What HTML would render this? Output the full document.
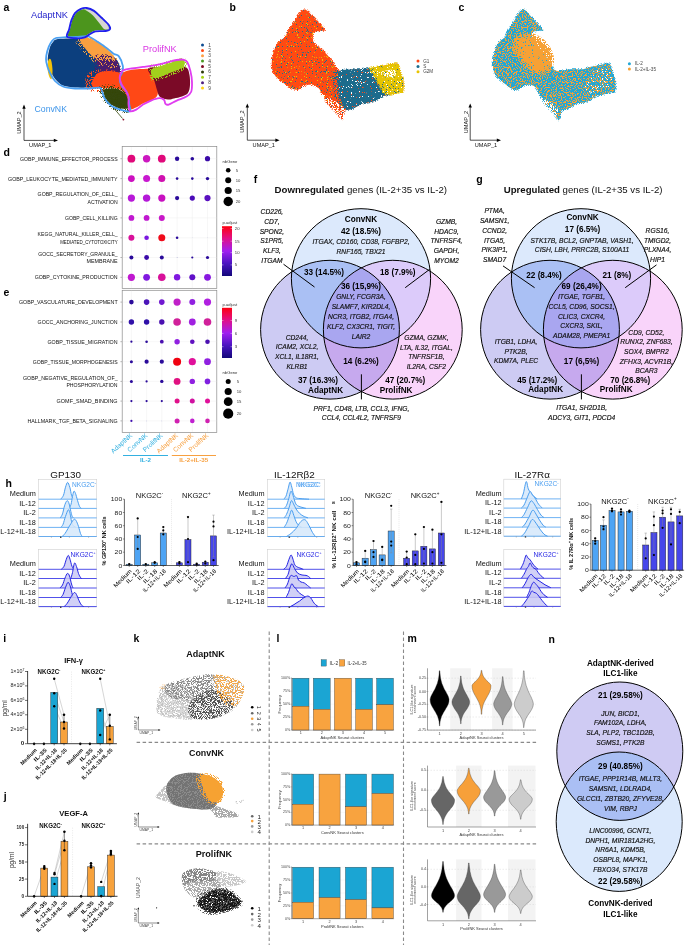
<!DOCTYPE html><html><head><meta charset="utf-8"><style>html,body{margin:0;padding:0;background:#fff;overflow:hidden}svg{display:block;font-family:"Liberation Sans",sans-serif}</style></head><body><svg width="685" height="945" viewBox="0 0 685 945" font-family="Liberation Sans, sans-serif"><defs><filter id="sp0" x="-5%" y="-5%" width="110%" height="110%"><feTurbulence type="fractalNoise" baseFrequency="1.2" numOctaves="1" seed="52"/><feColorMatrix type="matrix" values="0 0 0 0 0 0 0 0 0 0 0 0 0 0 0 30 0 0 0 -16.12"/><feComposite in="SourceGraphic" operator="in"/></filter><filter id="sp1" x="-5%" y="-5%" width="110%" height="110%"><feTurbulence type="fractalNoise" baseFrequency="1.2" numOctaves="1" seed="53"/><feColorMatrix type="matrix" values="0 0 0 0 0 0 0 0 0 0 0 0 0 0 0 30 0 0 0 -15.71"/><feComposite in="SourceGraphic" operator="in"/></filter><filter id="sp2" x="-5%" y="-5%" width="110%" height="110%"><feTurbulence type="fractalNoise" baseFrequency="1.2" numOctaves="1" seed="54"/><feColorMatrix type="matrix" values="0 0 0 0 0 0 0 0 0 0 0 0 0 0 0 30 0 0 0 -15.71"/><feComposite in="SourceGraphic" operator="in"/></filter><filter id="sp3" x="-5%" y="-5%" width="110%" height="110%"><feTurbulence type="fractalNoise" baseFrequency="1.2" numOctaves="1" seed="55"/><feColorMatrix type="matrix" values="0 0 0 0 0 0 0 0 0 0 0 0 0 0 0 30 0 0 0 -15.71"/><feComposite in="SourceGraphic" operator="in"/></filter><filter id="sp4" x="-5%" y="-5%" width="110%" height="110%"><feTurbulence type="fractalNoise" baseFrequency="1.2" numOctaves="1" seed="51"/><feColorMatrix type="matrix" values="0 0 0 0 0 0 0 0 0 0 0 0 0 0 0 30 0 0 0 -15.71"/><feComposite in="SourceGraphic" operator="in"/></filter><clipPath id="bleft"><rect x="260" y="0" width="80" height="140"/></clipPath><filter id="sp5" x="-5%" y="-5%" width="110%" height="110%"><feTurbulence type="fractalNoise" baseFrequency="1.2" numOctaves="1" seed="11"/><feColorMatrix type="matrix" values="0 0 0 0 0 0 0 0 0 0 0 0 0 0 0 30 0 0 0 -15.71"/><feComposite in="SourceGraphic" operator="in"/></filter><filter id="sp6" x="-5%" y="-5%" width="110%" height="110%"><feTurbulence type="fractalNoise" baseFrequency="1.2" numOctaves="1" seed="12"/><feColorMatrix type="matrix" values="0 0 0 0 0 0 0 0 0 0 0 0 0 0 0 30 0 0 0 -19.48"/><feComposite in="SourceGraphic" operator="in"/></filter><filter id="sp7" x="-5%" y="-5%" width="110%" height="110%"><feTurbulence type="fractalNoise" baseFrequency="1.2" numOctaves="1" seed="13"/><feColorMatrix type="matrix" values="0 0 0 0 0 0 0 0 0 0 0 0 0 0 0 30 0 0 0 -20.19"/><feComposite in="SourceGraphic" operator="in"/></filter><filter id="sp8" x="-5%" y="-5%" width="110%" height="110%"><feTurbulence type="fractalNoise" baseFrequency="1.2" numOctaves="1" seed="18"/><feColorMatrix type="matrix" values="0 0 0 0 0 0 0 0 0 0 0 0 0 0 0 30 0 0 0 -15.71"/><feComposite in="SourceGraphic" operator="in"/></filter><filter id="sp9" x="-5%" y="-5%" width="110%" height="110%"><feTurbulence type="fractalNoise" baseFrequency="1.2" numOctaves="1" seed="19"/><feColorMatrix type="matrix" values="0 0 0 0 0 0 0 0 0 0 0 0 0 0 0 30 0 0 0 -15.71"/><feComposite in="SourceGraphic" operator="in"/></filter><filter id="sp10" x="-5%" y="-5%" width="110%" height="110%"><feTurbulence type="fractalNoise" baseFrequency="1.2" numOctaves="1" seed="14"/><feColorMatrix type="matrix" values="0 0 0 0 0 0 0 0 0 0 0 0 0 0 0 30 0 0 0 -20.19"/><feComposite in="SourceGraphic" operator="in"/></filter><filter id="sp11" x="-5%" y="-5%" width="110%" height="110%"><feTurbulence type="fractalNoise" baseFrequency="1.2" numOctaves="1" seed="20"/><feColorMatrix type="matrix" values="0 0 0 0 0 0 0 0 0 0 0 0 0 0 0 30 0 0 0 -19.80"/><feComposite in="SourceGraphic" operator="in"/></filter><filter id="sp12" x="-5%" y="-5%" width="110%" height="110%"><feTurbulence type="fractalNoise" baseFrequency="1.2" numOctaves="1" seed="25"/><feColorMatrix type="matrix" values="0 0 0 0 0 0 0 0 0 0 0 0 0 0 0 30 0 0 0 -15.71"/><feComposite in="SourceGraphic" operator="in"/></filter><filter id="sp13" x="-5%" y="-5%" width="110%" height="110%"><feTurbulence type="fractalNoise" baseFrequency="1.2" numOctaves="1" seed="15"/><feColorMatrix type="matrix" values="0 0 0 0 0 0 0 0 0 0 0 0 0 0 0 30 0 0 0 -19.48"/><feComposite in="SourceGraphic" operator="in"/></filter><filter id="sp14" x="-5%" y="-5%" width="110%" height="110%"><feTurbulence type="fractalNoise" baseFrequency="1.2" numOctaves="1" seed="16"/><feColorMatrix type="matrix" values="0 0 0 0 0 0 0 0 0 0 0 0 0 0 0 30 0 0 0 -19.48"/><feComposite in="SourceGraphic" operator="in"/></filter><filter id="sp15" x="-5%" y="-5%" width="110%" height="110%"><feTurbulence type="fractalNoise" baseFrequency="1.2" numOctaves="1" seed="17"/><feColorMatrix type="matrix" values="0 0 0 0 0 0 0 0 0 0 0 0 0 0 0 30 0 0 0 -14.55"/><feComposite in="SourceGraphic" operator="in"/></filter><filter id="sp16" x="-5%" y="-5%" width="110%" height="110%"><feTurbulence type="fractalNoise" baseFrequency="1.2" numOctaves="1" seed="26"/><feColorMatrix type="matrix" values="0 0 0 0 0 0 0 0 0 0 0 0 0 0 0 30 0 0 0 -15.31"/><feComposite in="SourceGraphic" operator="in"/></filter><filter id="sp17" x="-5%" y="-5%" width="110%" height="110%"><feTurbulence type="fractalNoise" baseFrequency="1.2" numOctaves="1" seed="27"/><feColorMatrix type="matrix" values="0 0 0 0 0 0 0 0 0 0 0 0 0 0 0 30 0 0 0 -16.12"/><feComposite in="SourceGraphic" operator="in"/></filter><filter id="sp18" x="-5%" y="-5%" width="110%" height="110%"><feTurbulence type="fractalNoise" baseFrequency="1.2" numOctaves="1" seed="21"/><feColorMatrix type="matrix" values="0 0 0 0 0 0 0 0 0 0 0 0 0 0 0 30 0 0 0 -15.71"/><feComposite in="SourceGraphic" operator="in"/></filter><filter id="sp19" x="-5%" y="-5%" width="110%" height="110%"><feTurbulence type="fractalNoise" baseFrequency="0.8" numOctaves="1" seed="22"/><feColorMatrix type="matrix" values="0 0 0 0 0 0 0 0 0 0 0 0 0 0 0 30 0 0 0 -15.87"/><feComposite in="SourceGraphic" operator="in"/></filter><filter id="sp20" x="-5%" y="-5%" width="110%" height="110%"><feTurbulence type="fractalNoise" baseFrequency="0.8" numOctaves="1" seed="23"/><feColorMatrix type="matrix" values="0 0 0 0 0 0 0 0 0 0 0 0 0 0 0 30 0 0 0 -13.79"/><feComposite in="SourceGraphic" operator="in"/></filter><filter id="sp21" x="-5%" y="-5%" width="110%" height="110%"><feTurbulence type="fractalNoise" baseFrequency="1.2" numOctaves="1" seed="24"/><feColorMatrix type="matrix" values="0 0 0 0 0 0 0 0 0 0 0 0 0 0 0 30 0 0 0 -11.03"/><feComposite in="SourceGraphic" operator="in"/></filter><filter id="sp22" x="-5%" y="-5%" width="110%" height="110%"><feTurbulence type="fractalNoise" baseFrequency="1.2" numOctaves="1" seed="28"/><feColorMatrix type="matrix" values="0 0 0 0 0 0 0 0 0 0 0 0 0 0 0 30 0 0 0 -14.93"/><feComposite in="SourceGraphic" operator="in"/></filter><filter id="sp23" x="-5%" y="-5%" width="110%" height="110%"><feTurbulence type="fractalNoise" baseFrequency="1.2" numOctaves="1" seed="29"/><feColorMatrix type="matrix" values="0 0 0 0 0 0 0 0 0 0 0 0 0 0 0 30 0 0 0 -18.77"/><feComposite in="SourceGraphic" operator="in"/></filter><linearGradient id="gd" x1="0" y1="0" x2="0" y2="1"><stop offset="0" stop-color="#ff0010"/><stop offset="0.25" stop-color="#e0108a"/><stop offset="0.5" stop-color="#a020f0"/><stop offset="0.75" stop-color="#4a14c0"/><stop offset="1" stop-color="#12087a"/></linearGradient><linearGradient id="ge" x1="0" y1="0" x2="0" y2="1"><stop offset="0" stop-color="#ff0010"/><stop offset="0.25" stop-color="#e0108a"/><stop offset="0.5" stop-color="#a020f0"/><stop offset="0.75" stop-color="#4a14c0"/><stop offset="1" stop-color="#12087a"/></linearGradient><clipPath id="vfc"><circle cx="361" cy="278.3" r="69.6"/></clipPath><clipPath id="vfa"><circle cx="330" cy="329.7" r="69.4"/></clipPath><clipPath id="vgc"><circle cx="581" cy="278.3" r="69.6"/></clipPath><clipPath id="vga"><circle cx="550" cy="329.7" r="69.4"/></clipPath><filter id="sp24" x="-5%" y="-5%" width="110%" height="110%"><feTurbulence type="fractalNoise" baseFrequency="1.2" numOctaves="1" seed="30"/><feColorMatrix type="matrix" values="0 0 0 0 0 0 0 0 0 0 0 0 0 0 0 30 0 0 0 -16.57"/><feComposite in="SourceGraphic" operator="in"/></filter><filter id="sp25" x="-5%" y="-5%" width="110%" height="110%"><feTurbulence type="fractalNoise" baseFrequency="1.2" numOctaves="1" seed="31"/><feColorMatrix type="matrix" values="0 0 0 0 0 0 0 0 0 0 0 0 0 0 0 30 0 0 0 -14.93"/><feComposite in="SourceGraphic" operator="in"/></filter><filter id="sp26" x="-5%" y="-5%" width="110%" height="110%"><feTurbulence type="fractalNoise" baseFrequency="1.2" numOctaves="1" seed="32"/><feColorMatrix type="matrix" values="0 0 0 0 0 0 0 0 0 0 0 0 0 0 0 30 0 0 0 -14.93"/><feComposite in="SourceGraphic" operator="in"/></filter><filter id="sp27" x="-5%" y="-5%" width="110%" height="110%"><feTurbulence type="fractalNoise" baseFrequency="1.2" numOctaves="1" seed="33"/><feColorMatrix type="matrix" values="0 0 0 0 0 0 0 0 0 0 0 0 0 0 0 30 0 0 0 -15.16"/><feComposite in="SourceGraphic" operator="in"/></filter><filter id="sp28" x="-5%" y="-5%" width="110%" height="110%"><feTurbulence type="fractalNoise" baseFrequency="1.2" numOctaves="1" seed="34"/><feColorMatrix type="matrix" values="0 0 0 0 0 0 0 0 0 0 0 0 0 0 0 30 0 0 0 -14.70"/><feComposite in="SourceGraphic" operator="in"/></filter><filter id="sp29" x="-5%" y="-5%" width="110%" height="110%"><feTurbulence type="fractalNoise" baseFrequency="1.2" numOctaves="1" seed="35"/><feColorMatrix type="matrix" values="0 0 0 0 0 0 0 0 0 0 0 0 0 0 0 30 0 0 0 -14.93"/><feComposite in="SourceGraphic" operator="in"/></filter><filter id="sp30" x="-5%" y="-5%" width="110%" height="110%"><feTurbulence type="fractalNoise" baseFrequency="1.2" numOctaves="1" seed="36"/><feColorMatrix type="matrix" values="0 0 0 0 0 0 0 0 0 0 0 0 0 0 0 30 0 0 0 -12.53"/><feComposite in="SourceGraphic" operator="in"/></filter><filter id="sp31" x="-5%" y="-5%" width="110%" height="110%"><feTurbulence type="fractalNoise" baseFrequency="1.2" numOctaves="1" seed="37"/><feColorMatrix type="matrix" values="0 0 0 0 0 0 0 0 0 0 0 0 0 0 0 30 0 0 0 -12.53"/><feComposite in="SourceGraphic" operator="in"/></filter><filter id="sp32" x="-5%" y="-5%" width="110%" height="110%"><feTurbulence type="fractalNoise" baseFrequency="1.2" numOctaves="1" seed="43"/><feColorMatrix type="matrix" values="0 0 0 0 0 0 0 0 0 0 0 0 0 0 0 30 0 0 0 -16.12"/><feComposite in="SourceGraphic" operator="in"/></filter><filter id="sp33" x="-5%" y="-5%" width="110%" height="110%"><feTurbulence type="fractalNoise" baseFrequency="1.2" numOctaves="1" seed="44"/><feColorMatrix type="matrix" values="0 0 0 0 0 0 0 0 0 0 0 0 0 0 0 30 0 0 0 -15.31"/><feComposite in="SourceGraphic" operator="in"/></filter><filter id="sp34" x="-5%" y="-5%" width="110%" height="110%"><feTurbulence type="fractalNoise" baseFrequency="1.2" numOctaves="1" seed="38"/><feColorMatrix type="matrix" values="0 0 0 0 0 0 0 0 0 0 0 0 0 0 0 30 0 0 0 -13.79"/><feComposite in="SourceGraphic" operator="in"/></filter><filter id="sp35" x="-5%" y="-5%" width="110%" height="110%"><feTurbulence type="fractalNoise" baseFrequency="1.2" numOctaves="1" seed="39"/><feColorMatrix type="matrix" values="0 0 0 0 0 0 0 0 0 0 0 0 0 0 0 30 0 0 0 -13.39"/><feComposite in="SourceGraphic" operator="in"/></filter><filter id="sp36" x="-5%" y="-5%" width="110%" height="110%"><feTurbulence type="fractalNoise" baseFrequency="1.2" numOctaves="1" seed="40"/><feColorMatrix type="matrix" values="0 0 0 0 0 0 0 0 0 0 0 0 0 0 0 30 0 0 0 -13.39"/><feComposite in="SourceGraphic" operator="in"/></filter><filter id="sp37" x="-5%" y="-5%" width="110%" height="110%"><feTurbulence type="fractalNoise" baseFrequency="1.2" numOctaves="1" seed="42"/><feColorMatrix type="matrix" values="0 0 0 0 0 0 0 0 0 0 0 0 0 0 0 30 0 0 0 -10.71"/><feComposite in="SourceGraphic" operator="in"/></filter><filter id="sp38" x="-5%" y="-5%" width="110%" height="110%"><feTurbulence type="fractalNoise" baseFrequency="1.2" numOctaves="1" seed="41"/><feColorMatrix type="matrix" values="0 0 0 0 0 0 0 0 0 0 0 0 0 0 0 30 0 0 0 -15.71"/><feComposite in="SourceGraphic" operator="in"/></filter><clipPath id="nclip"><ellipse cx="619.8" cy="751.2" rx="63" ry="69.2"/></clipPath></defs><rect width="685" height="945" fill="#fff"/><g opacity="0.999"><text x="3.5" y="7.2" font-size="10.5" dominant-baseline="central" font-weight="bold">a</text>
<path d="M56,39.5 C58.2,38.9 62,38.7 66,38.5 C70,38.3 76.3,38.4 80,38.5 C83.7,38.6 85.2,38.1 88,39 C90.8,39.9 93.8,42 97,44 C100.2,46 104.3,49 107,51 C109.7,53 111.3,54.5 113,56 C114.7,57.5 115.8,58.2 117,60 C118.2,61.8 119.6,64.8 120,67 C120.4,69.2 119.8,71 119.5,73 C119.2,75 118.8,76.8 118,79 C117.2,81.2 117.2,84.5 115,86 C112.8,87.5 107.7,87.8 105,88 C102.3,88.2 101.5,87.1 99,87 C96.5,86.9 94,87.4 90,87.5 C86,87.6 79.5,87.8 75,87.5 C70.5,87.2 66.2,86.8 63,85.5 C59.8,84.2 58,82.2 56,80 C54,77.8 52.3,75 51,72 C49.7,69 48.5,64.7 48,62 C47.5,59.3 47.7,58.5 48,56 C48.3,53.5 49.2,49.3 50,47 C50.8,44.7 52,43.2 53,42 C54,40.8 53.8,40.1 56,39.5Z" fill="#0c3f7e"/>
<path d="M80,39 C80.7,37.5 85.2,37.5 88,38 C90.8,38.5 94,40.3 97,42 C100,43.7 103.3,45.8 106,48 C108.7,50.2 111.3,52.7 113,55 C114.7,57.3 116.2,60.2 116,62 C115.8,63.8 114,65.7 112,66 C110,66.3 106.5,65 104,64 C101.5,63 99.3,61.7 97,60 C94.7,58.3 92.2,56.2 90,54 C87.8,51.8 85.7,49.5 84,47 C82.3,44.5 79.3,40.5 80,39Z" fill="#f9a040"/>
<path d="M98,62 C98.8,60.3 103.5,59.3 106,59 C108.5,58.7 111,59.2 113,60 C115,60.8 116.8,62.3 118,64 C119.2,65.7 120.2,68.2 120,70 C119.8,71.8 118.8,74.3 117,75 C115.2,75.7 111.7,75 109,74 C106.3,73 102.8,71 101,69 C99.2,67 97.2,63.7 98,62Z" fill="#4b1d6e"/>
<path d="M76,40 C77.7,38.5 84.2,36.7 88,37 C91.8,37.3 95.3,39.8 99,42 C102.7,44.2 106.8,47 110,50 C113.2,53 117,57 118,60 C119,63 118,66.7 116,68 C114,69.3 109.3,68.7 106,68 C102.7,67.3 99.3,66.2 96,64 C92.7,61.8 89,58 86,55 C83,52 79.7,48.5 78,46 C76.3,43.5 74.3,41.5 76,40Z" fill="#f9a040" filter="url(#sp0)"/>
<path d="M95,56 C97,53.2 104.2,54 108,55 C111.8,56 115.7,59.2 118,62 C120.3,64.8 122,69 122,72 C122,75 120.8,78.7 118,80 C115.2,81.3 108.7,81.3 105,80 C101.3,78.7 97.7,76 96,72 C94.3,68 93,58.8 95,56Z" fill="#4b1d6e" filter="url(#sp1)"/>
<path d="M86,76 C87.3,72.7 92,71 96,70 C100,69 106,69.3 110,70 C114,70.7 118.3,70.7 120,74 C121.7,77.3 122.7,87 120,90 C117.3,93 109.3,92 104,92 C98.7,92 91,92.7 88,90 C85,87.3 84.7,79.3 86,76Z" fill="#ff4816" filter="url(#sp2)"/>
<path d="M48.5,60 C49.1,58.7 50.3,58.3 51,60 C51.7,61.7 52.4,66.8 52.5,70 C52.6,73.2 52.1,78 51.5,79 C50.9,80 49.7,77.8 49,76 C48.3,74.2 47.6,70.7 47.5,68 C47.4,65.3 47.9,61.3 48.5,60Z" fill="#f2c10a"/>
<path d="M92,82 C92.8,79.7 95.3,74.8 98,73 C100.7,71.2 104.8,71.2 108,71 C111.2,70.8 114.8,71.7 117,72 C119.2,72.3 119.2,73.2 121,73 C122.8,72.8 124.8,71.2 128,70.5 C131.2,69.8 136.3,69.2 140,69 C143.7,68.8 147.3,68.3 150,69 C152.7,69.7 154.7,70.8 156,73 C157.3,75.2 157.8,78.3 158,82 C158.2,85.7 158.5,92 157.5,95 C156.5,98 154.4,98.6 152,100 C149.6,101.4 145.7,102.2 143,103.5 C140.3,104.8 138.2,106.6 136,107.5 C133.8,108.4 131.5,110.1 130,109 C128.5,107.9 128.2,103.8 127,101 C125.8,98.2 124.5,94 123,92 C121.5,90 120.2,89.7 118,89 C115.8,88.3 113,88.2 110,88 C107,87.8 102.8,88.2 100,88 C97.2,87.8 94.3,88 93,87 C91.7,86 91.2,84.3 92,82Z" fill="#ff4816"/>
<path d="M104,89.5 C105.3,88.6 109.3,88.4 112,88.5 C114.7,88.6 117.7,88.9 120,90 C122.3,91.1 124.6,93 126,95 C127.4,97 128.1,99.8 128.5,102 C128.9,104.2 129.8,106.9 128.5,108 C127.2,109.1 123.8,109 121,108.5 C118.2,108 114.5,106.6 112,105 C109.5,103.4 107.3,100.8 106,99 C104.7,97.2 104.3,95.6 104,94 C103.7,92.4 102.7,90.4 104,89.5Z" fill="#34460a"/>
<path d="M100,86 C102.5,84.3 110.7,84 115,85 C119.3,86 123.5,88.8 126,92 C128.5,95.2 129.5,100.7 130,104 C130.5,107.3 131,110.7 129,112 C127,113.3 121.8,113.3 118,112 C114.2,110.7 109,106.8 106,104 C103,101.2 101,98 100,95 C99,92 97.5,87.7 100,86Z" fill="#34460a" filter="url(#sp3)"/>
<line x1="112" y1="106" x2="122.5" y2="118.5" stroke="#34460a" stroke-width="0.8"/>
<circle cx="123.4" cy="119.6" r="0.9" fill="#8a1030"/>
<path d="M148,69 C148.7,66.8 154.3,67.5 158,67 C161.7,66.5 166.3,66.2 170,66 C173.7,65.8 177.2,65.7 180,66 C182.8,66.3 185.4,66.5 187,68 C188.6,69.5 189,72.2 189.5,75 C190,77.8 190.2,82 190,85 C189.8,88 189.3,91.1 188,93 C186.7,94.9 184.3,95.6 182,96.5 C179.7,97.4 176.3,98 174,98.5 C171.7,99 170.3,99.8 168,99.5 C165.7,99.2 161.8,98.6 160,97 C158.2,95.4 158,92.8 157,90 C156,87.2 155.5,83.5 154,80 C152.5,76.5 147.3,71.2 148,69Z" fill="#7b0a27"/>
<path d="M151,70 C151.8,68.2 155.2,68.1 158,67 C160.8,65.9 164.7,64.6 168,63.5 C171.3,62.4 175.3,61 178,60.5 C180.7,60 182.9,59.8 184,60.5 C185.1,61.2 185.2,63.6 184.5,65 C183.8,66.4 182.4,67.7 180,69 C177.6,70.3 173.3,71.7 170,73 C166.7,74.3 162.8,76.2 160,77 C157.2,77.8 154.5,78.7 153,77.5 C151.5,76.3 150.2,71.8 151,70Z" fill="#a2d11c"/>
<path d="M150,66 C151.2,63.3 155,64.8 158,64 C161,63.2 164.3,61.9 168,61 C171.7,60.1 177,58.8 180,58.5 C183,58.2 185,58.1 186,59.5 C187,60.9 187,64.9 186,67 C185,69.1 182.7,70.5 180,72 C177.3,73.5 173.3,74.7 170,76 C166.7,77.3 163.2,79.3 160,80 C156.8,80.7 152.7,82.3 151,80 C149.3,77.7 148.8,68.7 150,66Z" fill="#a2d11c" filter="url(#sp4)"/>
<path d="M68,36 C67.2,34.6 69.3,31.5 70,29 C70.7,26.5 71.1,23.5 72,21 C72.9,18.5 74,15.9 75.5,14 C77,12.1 79.1,10.6 81,9.8 C82.9,9 84.6,8.7 86.7,9 C88.8,9.3 91.2,10.2 93.5,11.8 C95.8,13.4 98.2,16.1 100.5,18.3 C102.8,20.6 106.1,23.6 107.5,25.3 C108.9,27 109,27.8 108.7,28.6 C108.4,29.4 107.7,29.7 105.5,30 C103.3,30.3 98.2,29.9 95.5,30.5 C92.8,31.1 91.4,32.5 89.4,33.5 C87.4,34.5 86,36.2 83.6,36.8 C81.2,37.4 77.6,37.4 75,37.3 C72.4,37.2 68.8,37.4 68,36Z" fill="#4c951d"/>
<path d="M84,9.3 C84.5,9.1 88,9 90,9.6 C92,10.2 94,11.5 96,13 C98,14.5 100.1,16.6 102,18.5 C103.9,20.4 106.4,22.9 107.5,24.5 C108.6,26.1 109.2,27.6 108.7,28.4 C108.2,29.2 106,29.9 104.5,29.2 C103,28.5 101.9,26.3 100,24 C98.1,21.7 95.2,17.7 93,15.5 C90.8,13.3 88.5,12 87,11 C85.5,10 83.5,9.5 84,9.3Z" fill="#d6d6d2"/>
<path d="M56,38 C58.4,37.4 63,37.4 66.3,37.2 C69.6,37 72.3,37.1 76,37 C79.7,36.9 84.5,35.6 88.2,36.5 C91.9,37.4 95,40.1 98.4,42.3 C101.8,44.5 106,47.6 108.6,49.6 C111.2,51.6 112.3,52.9 114,54 C115.7,55.1 117.4,54.4 118.9,56.4 C120.4,58.4 122.4,63.4 122.9,66.1 C123.4,68.8 122.6,70.5 122.1,72.5 C121.6,74.5 119.8,76 119.7,78.1 C119.6,80.2 120.2,83.1 121.3,85.3 C122.4,87.5 124.9,89.1 126.1,91 C127.3,92.9 128,94.3 128.5,96.6 C129,98.9 129,102.1 129.3,104.6 C129.6,107 131.3,110.4 130.1,111.3 C128.9,112.2 125.3,111.2 122.1,110.2 C118.9,109.2 113.8,107.4 110.9,105.4 C108,103.4 106,100.6 104.5,98.2 C103,95.8 102.8,92.8 102,91 C101.2,89.2 101.6,88.1 99.6,87.7 C97.6,87.3 94.1,88.4 90,88.5 C85.9,88.6 79.5,88.8 75,88.5 C70.5,88.2 66.3,87.8 63,86.5 C59.7,85.2 57.2,83.4 55,81 C52.8,78.6 51,75.2 49.5,72 C48,68.8 46.8,64.7 46.3,62 C45.8,59.3 45.9,58.2 46.3,55.7 C46.7,53.2 47.8,49.2 48.8,46.7 C49.8,44.2 50.8,42.5 52,41 C53.2,39.5 53.6,38.6 56,38Z" fill="none" stroke="#4aa0f2" stroke-width="1.8"/>
<path d="M123.7,70.1 C125.5,69.4 128.6,69 131.8,68.5 C135,68 139.3,67.4 143,66.9 C146.7,66.4 150.4,66 154.2,65.3 C157.9,64.6 161.8,63.7 165.5,62.8 C169.2,61.9 173.8,60.5 176.7,60 C179.6,59.5 181.3,59.3 183.1,59.6 C184.8,59.9 186,60.1 187.2,62 C188.4,63.9 189.6,67.6 190.4,70.9 C191.2,74.2 191.9,78.6 192,82.1 C192.1,85.6 192.1,89.4 191.2,91.8 C190.3,94.2 188.8,95.1 186.4,96.6 C184,98.1 179.6,99.3 176.7,100.6 C173.8,101.9 170.6,104.1 168.7,104.6 C166.8,105.1 166.3,104.6 165.5,103.8 C164.7,103 165,100.7 163.9,99.8 C162.8,98.9 161.2,98.1 159.1,98.2 C156.9,98.3 153.7,99.5 151,100.6 C148.3,101.7 145.4,103.1 143,104.6 C140.6,106.1 138.8,108.3 136.6,109.4 C134.4,110.5 131.4,112.1 130.1,111.3 C128.8,110.5 128.8,107 128.5,104.6 C128.2,102.1 129,99 128.5,96.6 C128,94.2 126.5,92.2 125.3,90.1 C124.1,87.9 122.2,85.8 121.3,83.7 C120.4,81.6 119.7,79.2 119.7,77.3 C119.7,75.4 120.6,73.7 121.3,72.5 C122,71.3 122,70.8 123.7,70.1Z" fill="none" stroke="#e03cf0" stroke-width="1.8"/>
<path d="M67,36.5 C66,35 68.5,31.9 69.2,29.2 C69.9,26.5 70.4,23.1 71.4,20.4 C72.4,17.7 73.4,15 75,13.1 C76.6,11.2 79,9.7 80.9,8.8 C82.9,8 84.5,7.7 86.7,8 C88.9,8.3 91.6,9.3 94,10.9 C96.4,12.5 98.9,15.2 101.3,17.5 C103.7,19.8 107.1,22.9 108.6,24.8 C110,26.8 110.5,28.2 110,29.2 C109.5,30.2 108.1,30.6 105.7,31 C103.3,31.4 98.2,30.8 95.5,31.4 C92.8,31.9 91.5,33.2 89.6,34.3 C87.6,35.3 86.2,37.1 83.8,37.7 C81.4,38.4 77.8,38.4 75,38.2 C72.2,38 68,38 67,36.5Z" fill="none" stroke="#2020ec" stroke-width="1.9"/>
<text x="31" y="14.3" font-size="9.4" dominant-baseline="central" fill="#2626cc" textLength="37" lengthAdjust="spacingAndGlyphs">AdaptNK</text>
<text x="34.5" y="108" font-size="9.4" dominant-baseline="central" fill="#3d95ea" textLength="32.5" lengthAdjust="spacingAndGlyphs">ConvNK</text>
<text x="142.8" y="48.6" font-size="9.4" dominant-baseline="central" fill="#d936e3" textLength="34" lengthAdjust="spacingAndGlyphs">ProlifNK</text>
<circle cx="202.5" cy="45" r="1.5" fill="#0c4a90"/>
<text x="208.3" y="45" font-size="4.8" dominant-baseline="central" fill="#444">1</text>
<circle cx="202.5" cy="50.4" r="1.5" fill="#ff4512"/>
<text x="208.3" y="50.4" font-size="4.8" dominant-baseline="central" fill="#444">2</text>
<circle cx="202.5" cy="55.8" r="1.5" fill="#ff9f45"/>
<text x="208.3" y="55.8" font-size="4.8" dominant-baseline="central" fill="#444">3</text>
<circle cx="202.5" cy="61.1" r="1.5" fill="#4c9a24"/>
<text x="208.3" y="61.1" font-size="4.8" dominant-baseline="central" fill="#444">4</text>
<circle cx="202.5" cy="66.5" r="1.5" fill="#7e0a26"/>
<text x="208.3" y="66.5" font-size="4.8" dominant-baseline="central" fill="#444">5</text>
<circle cx="202.5" cy="71.9" r="1.5" fill="#2c3a08"/>
<text x="208.3" y="71.9" font-size="4.8" dominant-baseline="central" fill="#444">6</text>
<circle cx="202.5" cy="77.3" r="1.5" fill="#a6d414"/>
<text x="208.3" y="77.3" font-size="4.8" dominant-baseline="central" fill="#444">7</text>
<circle cx="202.5" cy="82.7" r="1.5" fill="#4f2080"/>
<text x="208.3" y="82.7" font-size="4.8" dominant-baseline="central" fill="#444">8</text>
<circle cx="202.5" cy="88" r="1.5" fill="#ffd215"/>
<text x="208.3" y="88" font-size="4.8" dominant-baseline="central" fill="#444">9</text>
<line x1="24" y1="140.4" x2="24" y2="107.6" stroke="#000" stroke-width="0.7"/>
<line x1="24" y1="140.4" x2="55" y2="140.4" stroke="#000" stroke-width="0.7"/>
<path d="M22.3,108.8 L24,104.6 L25.7,108.8Z" fill="#000"/>
<path d="M53.8,138.7 L58,140.4 L53.8,142.1Z" fill="#000"/>
<text x="19.2" y="122.5" font-size="5.6" text-anchor="middle" dominant-baseline="central" fill="#111" transform="rotate(-90 19.2 122.5)">UMAP_2</text>
<text x="40.3" y="144.6" font-size="5.6" text-anchor="middle" dominant-baseline="central" fill="#111">UMAP_1</text>
<text x="229.5" y="6.5" font-size="10.5" dominant-baseline="central" font-weight="bold">b</text>
<g clip-path="url(#bleft)">
<path d="M305.6,9.8 C307.9,10.6 311.4,15.2 313.7,17.5 C316,19.8 317.7,21.3 319.6,23.4 C321.5,25.5 325.2,28.6 325,29.9 C324.8,31.2 320.4,30.4 318.4,31 C316.4,31.6 313.7,31.5 313,33.5 C312.3,35.5 312.7,40.5 314,43 C315.3,45.5 318.7,46.6 321,48.7 C323.3,50.8 325.9,53.2 328,55.7 C330.1,58.2 332.3,61.6 333.9,63.9 C335.5,66.2 335.8,68.3 337.4,69.5 C339,70.7 340.7,71.1 343.6,71.1 C346.5,71.1 350.7,69.6 354.8,69.3 C358.9,69 364.7,69.7 368.4,69.3 C372.1,68.9 374,67.5 377.1,66.8 C380.2,66.1 383.9,65.5 387,64.9 C390.1,64.3 393.8,63.4 395.7,63.4 C397.6,63.4 397.4,63.2 398.2,64.9 C399,66.6 399.9,71.1 400.7,73.6 C401.5,76.1 402.8,76.9 403.2,79.8 C403.6,82.7 403.8,88.9 403.2,91 C402.6,93.1 401.7,91.6 399.4,92.2 C397.1,92.8 392.2,94.1 389.5,94.7 C386.8,95.3 384.9,95.4 383.3,95.9 C381.7,96.4 381.1,97 379.6,97.8 C378.2,98.6 376.5,100.1 374.6,100.9 C372.7,101.7 370.5,102.4 368.4,102.8 C366.3,103.2 364.3,102.7 362.2,103.4 C360.1,104.1 358.1,106.1 356,107.1 C353.9,108.1 351.6,108.9 349.8,109.6 C348.1,110.2 346.6,109.3 345.5,111 C344.4,112.7 343.9,118.9 343,119.9 C342.1,120.9 341.3,118.5 340,117 C338.7,115.5 336.8,112.9 335,111 C333.2,109.1 330.8,107.5 329,105.5 C327.2,103.5 325.8,101.1 324.5,99 C323.2,96.9 322.5,94.8 321.5,93 C320.5,91.2 319.8,89.3 318.5,88 C317.2,86.7 315.9,85.7 314,85.2 C312.1,84.7 308.9,84.7 307,85 C305.1,85.3 303.9,86.4 302.4,87.2 C300.8,88 299.4,89.6 297.7,89.8 C295.9,90 294,89.6 291.9,88.6 C289.8,87.6 287,85.5 284.9,83.9 C282.8,82.3 280.8,80.8 279,79.2 C277.2,77.6 275.5,76.4 274.3,74.4 C273.1,72.4 272.4,69.9 272,67.4 C271.6,64.9 271.6,62.1 272,59.2 C272.4,56.3 273.3,52.6 274.3,49.9 C275.3,47.2 276,44.9 277.8,42.8 C279.6,40.6 283.1,39.1 284.9,37 C286.7,34.9 286.9,32.5 288.4,30 C289.9,27.5 292,25.1 293.9,22.2 C295.8,19.3 297.8,15 299.7,12.9 C301.6,10.8 303.3,9 305.6,9.8Z" fill="none" stroke="#ff4a12" stroke-width="2.2" filter="url(#sp5)"/>
</g>
<path d="M305.6,9.8 C307.9,10.6 311.4,15.2 313.7,17.5 C316,19.8 317.7,21.3 319.6,23.4 C321.5,25.5 325.2,28.6 325,29.9 C324.8,31.2 320.4,30.4 318.4,31 C316.4,31.6 313.7,31.5 313,33.5 C312.3,35.5 312.7,40.5 314,43 C315.3,45.5 318.7,46.6 321,48.7 C323.3,50.8 325.9,53.2 328,55.7 C330.1,58.2 332.3,61.6 333.9,63.9 C335.5,66.2 335.8,68.3 337.4,69.5 C339,70.7 340.7,71.1 343.6,71.1 C346.5,71.1 350.7,69.6 354.8,69.3 C358.9,69 364.7,69.7 368.4,69.3 C372.1,68.9 374,67.5 377.1,66.8 C380.2,66.1 383.9,65.5 387,64.9 C390.1,64.3 393.8,63.4 395.7,63.4 C397.6,63.4 397.4,63.2 398.2,64.9 C399,66.6 399.9,71.1 400.7,73.6 C401.5,76.1 402.8,76.9 403.2,79.8 C403.6,82.7 403.8,88.9 403.2,91 C402.6,93.1 401.7,91.6 399.4,92.2 C397.1,92.8 392.2,94.1 389.5,94.7 C386.8,95.3 384.9,95.4 383.3,95.9 C381.7,96.4 381.1,97 379.6,97.8 C378.2,98.6 376.5,100.1 374.6,100.9 C372.7,101.7 370.5,102.4 368.4,102.8 C366.3,103.2 364.3,102.7 362.2,103.4 C360.1,104.1 358.1,106.1 356,107.1 C353.9,108.1 351.6,108.9 349.8,109.6 C348.1,110.2 346.6,109.3 345.5,111 C344.4,112.7 343.9,118.9 343,119.9 C342.1,120.9 341.3,118.5 340,117 C338.7,115.5 336.8,112.9 335,111 C333.2,109.1 330.8,107.5 329,105.5 C327.2,103.5 325.8,101.1 324.5,99 C323.2,96.9 322.5,94.8 321.5,93 C320.5,91.2 319.8,89.3 318.5,88 C317.2,86.7 315.9,85.7 314,85.2 C312.1,84.7 308.9,84.7 307,85 C305.1,85.3 303.9,86.4 302.4,87.2 C300.8,88 299.4,89.6 297.7,89.8 C295.9,90 294,89.6 291.9,88.6 C289.8,87.6 287,85.5 284.9,83.9 C282.8,82.3 280.8,80.8 279,79.2 C277.2,77.6 275.5,76.4 274.3,74.4 C273.1,72.4 272.4,69.9 272,67.4 C271.6,64.9 271.6,62.1 272,59.2 C272.4,56.3 273.3,52.6 274.3,49.9 C275.3,47.2 276,44.9 277.8,42.8 C279.6,40.6 283.1,39.1 284.9,37 C286.7,34.9 286.9,32.5 288.4,30 C289.9,27.5 292,25.1 293.9,22.2 C295.8,19.3 297.8,15 299.7,12.9 C301.6,10.8 303.3,9 305.6,9.8Z" fill="#ff4a12"/>
<path d="M305.6,9.8 C307.9,10.6 311.4,15.2 313.7,17.5 C316,19.8 317.7,21.3 319.6,23.4 C321.5,25.5 325.2,28.6 325,29.9 C324.8,31.2 320.4,30.4 318.4,31 C316.4,31.6 313.7,31.5 313,33.5 C312.3,35.5 312.7,40.5 314,43 C315.3,45.5 318.7,46.6 321,48.7 C323.3,50.8 325.9,53.2 328,55.7 C330.1,58.2 332.3,61.6 333.9,63.9 C335.5,66.2 335.8,68.3 337.4,69.5 C339,70.7 340.7,71.1 343.6,71.1 C346.5,71.1 350.7,69.6 354.8,69.3 C358.9,69 364.7,69.7 368.4,69.3 C372.1,68.9 374,67.5 377.1,66.8 C380.2,66.1 383.9,65.5 387,64.9 C390.1,64.3 393.8,63.4 395.7,63.4 C397.6,63.4 397.4,63.2 398.2,64.9 C399,66.6 399.9,71.1 400.7,73.6 C401.5,76.1 402.8,76.9 403.2,79.8 C403.6,82.7 403.8,88.9 403.2,91 C402.6,93.1 401.7,91.6 399.4,92.2 C397.1,92.8 392.2,94.1 389.5,94.7 C386.8,95.3 384.9,95.4 383.3,95.9 C381.7,96.4 381.1,97 379.6,97.8 C378.2,98.6 376.5,100.1 374.6,100.9 C372.7,101.7 370.5,102.4 368.4,102.8 C366.3,103.2 364.3,102.7 362.2,103.4 C360.1,104.1 358.1,106.1 356,107.1 C353.9,108.1 351.6,108.9 349.8,109.6 C348.1,110.2 346.6,109.3 345.5,111 C344.4,112.7 343.9,118.9 343,119.9 C342.1,120.9 341.3,118.5 340,117 C338.7,115.5 336.8,112.9 335,111 C333.2,109.1 330.8,107.5 329,105.5 C327.2,103.5 325.8,101.1 324.5,99 C323.2,96.9 322.5,94.8 321.5,93 C320.5,91.2 319.8,89.3 318.5,88 C317.2,86.7 315.9,85.7 314,85.2 C312.1,84.7 308.9,84.7 307,85 C305.1,85.3 303.9,86.4 302.4,87.2 C300.8,88 299.4,89.6 297.7,89.8 C295.9,90 294,89.6 291.9,88.6 C289.8,87.6 287,85.5 284.9,83.9 C282.8,82.3 280.8,80.8 279,79.2 C277.2,77.6 275.5,76.4 274.3,74.4 C273.1,72.4 272.4,69.9 272,67.4 C271.6,64.9 271.6,62.1 272,59.2 C272.4,56.3 273.3,52.6 274.3,49.9 C275.3,47.2 276,44.9 277.8,42.8 C279.6,40.6 283.1,39.1 284.9,37 C286.7,34.9 286.9,32.5 288.4,30 C289.9,27.5 292,25.1 293.9,22.2 C295.8,19.3 297.8,15 299.7,12.9 C301.6,10.8 303.3,9 305.6,9.8Z" fill="#1f6d8e" filter="url(#sp6)"/>
<path d="M305.6,9.8 C307.9,10.6 311.4,15.2 313.7,17.5 C316,19.8 317.7,21.3 319.6,23.4 C321.5,25.5 325.2,28.6 325,29.9 C324.8,31.2 320.4,30.4 318.4,31 C316.4,31.6 313.7,31.5 313,33.5 C312.3,35.5 312.7,40.5 314,43 C315.3,45.5 318.7,46.6 321,48.7 C323.3,50.8 325.9,53.2 328,55.7 C330.1,58.2 332.3,61.6 333.9,63.9 C335.5,66.2 335.8,68.3 337.4,69.5 C339,70.7 340.7,71.1 343.6,71.1 C346.5,71.1 350.7,69.6 354.8,69.3 C358.9,69 364.7,69.7 368.4,69.3 C372.1,68.9 374,67.5 377.1,66.8 C380.2,66.1 383.9,65.5 387,64.9 C390.1,64.3 393.8,63.4 395.7,63.4 C397.6,63.4 397.4,63.2 398.2,64.9 C399,66.6 399.9,71.1 400.7,73.6 C401.5,76.1 402.8,76.9 403.2,79.8 C403.6,82.7 403.8,88.9 403.2,91 C402.6,93.1 401.7,91.6 399.4,92.2 C397.1,92.8 392.2,94.1 389.5,94.7 C386.8,95.3 384.9,95.4 383.3,95.9 C381.7,96.4 381.1,97 379.6,97.8 C378.2,98.6 376.5,100.1 374.6,100.9 C372.7,101.7 370.5,102.4 368.4,102.8 C366.3,103.2 364.3,102.7 362.2,103.4 C360.1,104.1 358.1,106.1 356,107.1 C353.9,108.1 351.6,108.9 349.8,109.6 C348.1,110.2 346.6,109.3 345.5,111 C344.4,112.7 343.9,118.9 343,119.9 C342.1,120.9 341.3,118.5 340,117 C338.7,115.5 336.8,112.9 335,111 C333.2,109.1 330.8,107.5 329,105.5 C327.2,103.5 325.8,101.1 324.5,99 C323.2,96.9 322.5,94.8 321.5,93 C320.5,91.2 319.8,89.3 318.5,88 C317.2,86.7 315.9,85.7 314,85.2 C312.1,84.7 308.9,84.7 307,85 C305.1,85.3 303.9,86.4 302.4,87.2 C300.8,88 299.4,89.6 297.7,89.8 C295.9,90 294,89.6 291.9,88.6 C289.8,87.6 287,85.5 284.9,83.9 C282.8,82.3 280.8,80.8 279,79.2 C277.2,77.6 275.5,76.4 274.3,74.4 C273.1,72.4 272.4,69.9 272,67.4 C271.6,64.9 271.6,62.1 272,59.2 C272.4,56.3 273.3,52.6 274.3,49.9 C275.3,47.2 276,44.9 277.8,42.8 C279.6,40.6 283.1,39.1 284.9,37 C286.7,34.9 286.9,32.5 288.4,30 C289.9,27.5 292,25.1 293.9,22.2 C295.8,19.3 297.8,15 299.7,12.9 C301.6,10.8 303.3,9 305.6,9.8Z" fill="#e8c400" filter="url(#sp7)"/>
<path d="M340,71 C341.8,69.2 346.7,69.8 350,69.5 C353.3,69.2 356.7,69.5 360,69.3 C363.3,69.1 367.4,67.6 369.7,68.6 C372,69.5 372.4,72.4 374,75 C375.6,77.6 377.4,81.1 379,84 C380.6,86.9 381.6,90.4 383.3,92.2 C385.1,94 389.5,94.1 389.5,94.7 C389.5,95.3 385.8,94.9 383.3,95.9 C380.8,96.9 378.1,99.7 374.6,100.9 C371.1,102.2 365.3,102.4 362.2,103.4 C359.1,104.4 358.1,106.1 356,107.1 C353.9,108.1 351.6,109.4 349.8,109.6 C348,109.8 346.5,109.6 345,108 C343.5,106.4 342,103 341,100 C340,97 339.3,93.3 339,90 C338.7,86.7 338.8,83.2 339,80 C339.2,76.8 338.2,72.8 340,71Z" fill="none" stroke="#1c6b8c" stroke-width="2.2" filter="url(#sp8)"/>
<path d="M333,72 C334.8,70 341,67.8 343,70 C345,72.2 344.8,80 345,85 C345.2,90 343.7,95.8 344,100 C344.3,104.2 348,109 347,110 C346,111 340.2,108.5 338,106 C335.8,103.5 335,99 334,95 C333,91 332.2,85.8 332,82 C331.8,78.2 331.2,74 333,72Z" fill="#1c6b8c" filter="url(#sp9)"/>
<path d="M340,71 C341.8,69.2 346.7,69.8 350,69.5 C353.3,69.2 356.7,69.5 360,69.3 C363.3,69.1 367.4,67.6 369.7,68.6 C372,69.5 372.4,72.4 374,75 C375.6,77.6 377.4,81.1 379,84 C380.6,86.9 381.6,90.4 383.3,92.2 C385.1,94 389.5,94.1 389.5,94.7 C389.5,95.3 385.8,94.9 383.3,95.9 C380.8,96.9 378.1,99.7 374.6,100.9 C371.1,102.2 365.3,102.4 362.2,103.4 C359.1,104.4 358.1,106.1 356,107.1 C353.9,108.1 351.6,109.4 349.8,109.6 C348,109.8 346.5,109.6 345,108 C343.5,106.4 342,103 341,100 C340,97 339.3,93.3 339,90 C338.7,86.7 338.8,83.2 339,80 C339.2,76.8 338.2,72.8 340,71Z" fill="#1c6b8c"/>
<path d="M340,71 C341.8,69.2 346.7,69.8 350,69.5 C353.3,69.2 356.7,69.5 360,69.3 C363.3,69.1 367.4,67.6 369.7,68.6 C372,69.5 372.4,72.4 374,75 C375.6,77.6 377.4,81.1 379,84 C380.6,86.9 381.6,90.4 383.3,92.2 C385.1,94 389.5,94.1 389.5,94.7 C389.5,95.3 385.8,94.9 383.3,95.9 C380.8,96.9 378.1,99.7 374.6,100.9 C371.1,102.2 365.3,102.4 362.2,103.4 C359.1,104.4 358.1,106.1 356,107.1 C353.9,108.1 351.6,109.4 349.8,109.6 C348,109.8 346.5,109.6 345,108 C343.5,106.4 342,103 341,100 C340,97 339.3,93.3 339,90 C338.7,86.7 338.8,83.2 339,80 C339.2,76.8 338.2,72.8 340,71Z" fill="#ff4a12" filter="url(#sp10)"/>
<path d="M340,71 C341.8,69.2 346.7,69.8 350,69.5 C353.3,69.2 356.7,69.5 360,69.3 C363.3,69.1 367.4,67.6 369.7,68.6 C372,69.5 372.4,72.4 374,75 C375.6,77.6 377.4,81.1 379,84 C380.6,86.9 381.6,90.4 383.3,92.2 C385.1,94 389.5,94.1 389.5,94.7 C389.5,95.3 385.8,94.9 383.3,95.9 C380.8,96.9 378.1,99.7 374.6,100.9 C371.1,102.2 365.3,102.4 362.2,103.4 C359.1,104.4 358.1,106.1 356,107.1 C353.9,108.1 351.6,109.4 349.8,109.6 C348,109.8 346.5,109.6 345,108 C343.5,106.4 342,103 341,100 C340,97 339.3,93.3 339,90 C338.7,86.7 338.8,83.2 339,80 C339.2,76.8 338.2,72.8 340,71Z" fill="#ffffff" filter="url(#sp11)"/>
<path d="M369.7,68.6 C370.2,67.2 374.2,67.4 377.1,66.8 C380,66.2 383.9,65.5 387,64.9 C390.1,64.3 393.8,63.4 395.7,63.4 C397.6,63.4 397.4,63.2 398.2,64.9 C399,66.6 399.9,71.1 400.7,73.6 C401.5,76.1 402.8,76.9 403.2,79.8 C403.6,82.7 403.8,88.9 403.2,91 C402.6,93.1 401.7,91.6 399.4,92.2 C397.1,92.8 392.2,94.7 389.5,94.7 C386.8,94.7 385.1,94 383.3,92.2 C381.6,90.4 380.6,86.9 379,84 C377.4,81.1 375.6,77.6 374,75 C372.4,72.4 369.2,70 369.7,68.6Z" fill="none" stroke="#e6c402" stroke-width="2.2" filter="url(#sp12)"/>
<path d="M369.7,68.6 C370.2,67.2 374.2,67.4 377.1,66.8 C380,66.2 383.9,65.5 387,64.9 C390.1,64.3 393.8,63.4 395.7,63.4 C397.6,63.4 397.4,63.2 398.2,64.9 C399,66.6 399.9,71.1 400.7,73.6 C401.5,76.1 402.8,76.9 403.2,79.8 C403.6,82.7 403.8,88.9 403.2,91 C402.6,93.1 401.7,91.6 399.4,92.2 C397.1,92.8 392.2,94.7 389.5,94.7 C386.8,94.7 385.1,94 383.3,92.2 C381.6,90.4 380.6,86.9 379,84 C377.4,81.1 375.6,77.6 374,75 C372.4,72.4 369.2,70 369.7,68.6Z" fill="#e6c402"/>
<path d="M369.7,68.6 C370.2,67.2 374.2,67.4 377.1,66.8 C380,66.2 383.9,65.5 387,64.9 C390.1,64.3 393.8,63.4 395.7,63.4 C397.6,63.4 397.4,63.2 398.2,64.9 C399,66.6 399.9,71.1 400.7,73.6 C401.5,76.1 402.8,76.9 403.2,79.8 C403.6,82.7 403.8,88.9 403.2,91 C402.6,93.1 401.7,91.6 399.4,92.2 C397.1,92.8 392.2,94.7 389.5,94.7 C386.8,94.7 385.1,94 383.3,92.2 C381.6,90.4 380.6,86.9 379,84 C377.4,81.1 375.6,77.6 374,75 C372.4,72.4 369.2,70 369.7,68.6Z" fill="#1c6b8c" filter="url(#sp13)"/>
<path d="M369.7,68.6 C370.2,67.2 374.2,67.4 377.1,66.8 C380,66.2 383.9,65.5 387,64.9 C390.1,64.3 393.8,63.4 395.7,63.4 C397.6,63.4 397.4,63.2 398.2,64.9 C399,66.6 399.9,71.1 400.7,73.6 C401.5,76.1 402.8,76.9 403.2,79.8 C403.6,82.7 403.8,88.9 403.2,91 C402.6,93.1 401.7,91.6 399.4,92.2 C397.1,92.8 392.2,94.7 389.5,94.7 C386.8,94.7 385.1,94 383.3,92.2 C381.6,90.4 380.6,86.9 379,84 C377.4,81.1 375.6,77.6 374,75 C372.4,72.4 369.2,70 369.7,68.6Z" fill="#ffffff" filter="url(#sp14)"/>
<path d="M384.5,71 C386.1,69.8 392.8,69.2 394.5,70 C396.2,70.8 396.6,74.8 395,76 C393.4,77.2 386.8,77.8 385,77 C383.2,76.2 382.9,72.2 384.5,71Z" fill="#ffffff" filter="url(#sp15)"/>
<path d="M321,93 C322.7,93.2 329.5,97.8 333,100 C336.5,102.2 339.8,104 342,106 C344.2,108 345.7,109.5 346,112 C346.3,114.5 345.5,120.7 344,121 C342.5,121.3 339.3,116.3 337,114 C334.7,111.7 332.3,109.5 330,107 C327.7,104.5 324.5,101.3 323,99 C321.5,96.7 319.3,92.8 321,93Z" fill="#ffffff" filter="url(#sp16)"/>
<path d="M300,86 C301.2,85 309,83.7 312,84 C315,84.3 316.3,86.2 318,88 C319.7,89.8 322.7,94.2 322,95 C321.3,95.8 316.8,93.8 314,93 C311.2,92.2 307.3,91.2 305,90 C302.7,88.8 298.8,87 300,86Z" fill="#ffffff" filter="url(#sp17)"/>
<circle cx="418" cy="61.1" r="1.5" fill="#ff4512"/>
<text x="423.2" y="61.1" font-size="4.6" dominant-baseline="central" fill="#444">G1</text>
<circle cx="418" cy="66.4" r="1.5" fill="#1b6c8d"/>
<text x="423.2" y="66.4" font-size="4.6" dominant-baseline="central" fill="#444">S</text>
<circle cx="418" cy="71.7" r="1.5" fill="#e8c400"/>
<text x="423.2" y="71.7" font-size="4.6" dominant-baseline="central" fill="#444">G2M</text>
<line x1="247.3" y1="140.2" x2="247.3" y2="106.4" stroke="#000" stroke-width="0.7"/>
<line x1="247.3" y1="140.2" x2="276.6" y2="140.2" stroke="#000" stroke-width="0.7"/>
<path d="M245.6,107.6 L247.3,103.4 L249,107.6Z" fill="#000"/>
<path d="M275.4,138.5 L279.6,140.2 L275.4,141.9Z" fill="#000"/>
<text x="242.4" y="121.5" font-size="5.6" text-anchor="middle" dominant-baseline="central" fill="#111" transform="rotate(-90 242.4 121.5)">UMAP_2</text>
<text x="263.8" y="145" font-size="5.6" text-anchor="middle" dominant-baseline="central" fill="#111">UMAP_1</text>
<text x="458.5" y="6.5" font-size="10.5" dominant-baseline="central" font-weight="bold">c</text>
<path d="M524.3,9.8 C526.5,10.6 529.7,15.2 531.9,17.5 C534,19.8 535.6,21.3 537.3,23.4 C539.1,25.5 542.6,28.6 542.4,29.9 C542.2,31.2 538.1,30.4 536.2,31 C534.4,31.6 531.9,31.5 531.2,33.5 C530.5,35.5 530.9,40.5 532.1,43 C533.4,45.5 536.5,46.6 538.6,48.7 C540.8,50.8 543.2,53.2 545.2,55.7 C547.2,58.2 549.2,61.6 550.6,63.9 C552.1,66.2 552.4,68.3 553.9,69.5 C555.4,70.7 557,71.1 559.7,71.1 C562.4,71.1 566.2,69.6 570.1,69.3 C573.9,69 579.3,69.7 582.7,69.3 C586.2,68.9 587.9,67.5 590.8,66.8 C593.7,66.1 597.1,65.5 600,64.9 C602.9,64.3 606.4,63.4 608.1,63.4 C609.9,63.4 609.7,63.2 610.4,64.9 C611.2,66.6 612,71.1 612.8,73.6 C613.5,76.1 614.7,76.9 615.1,79.8 C615.5,82.7 615.7,88.9 615.1,91 C614.5,93.1 613.7,91.6 611.6,92.2 C609.4,92.8 604.8,94.1 602.4,94.7 C599.9,95.3 598.1,95.4 596.6,95.9 C595.1,96.4 594.5,97 593.1,97.8 C591.8,98.6 590.2,100.1 588.5,100.9 C586.8,101.7 584.7,102.4 582.7,102.8 C580.8,103.2 578.9,102.7 577,103.4 C575,104.1 573.1,106.1 571.2,107.1 C569.3,108.1 567.1,108.9 565.4,109.6 C563.8,110.2 562.5,109.3 561.4,111 C560.4,112.7 560,118.9 559.1,119.9 C558.3,120.9 557.6,118.5 556.3,117 C555.1,115.5 553.4,112.9 551.7,111 C550,109.1 547.7,107.5 546.1,105.5 C544.5,103.5 543.1,101.1 541.9,99 C540.7,96.9 540,94.8 539.1,93 C538.2,91.2 537.5,89.3 536.3,88 C535.2,86.7 533.9,85.7 532.1,85.2 C530.4,84.7 527.4,84.7 525.6,85 C523.8,85.3 522.8,86.4 521.4,87.2 C519.9,88 518.6,89.6 517,89.8 C515.4,90 513.6,89.6 511.6,88.6 C509.6,87.6 507.1,85.5 505.1,83.9 C503.1,82.3 501.2,80.8 499.6,79.2 C497.9,77.6 496.3,76.4 495.2,74.4 C494.1,72.4 493.4,69.9 493.1,67.4 C492.7,64.9 492.7,62.1 493.1,59.2 C493.4,56.3 494.3,52.6 495.2,49.9 C496.1,47.2 496.8,44.9 498.5,42.8 C500.1,40.6 503.4,39.1 505.1,37 C506.7,34.9 506.9,32.5 508.3,30 C509.7,27.5 511.7,25.1 513.4,22.2 C515.2,19.3 517,15 518.8,12.9 C520.7,10.8 522.2,9 524.3,9.8Z" fill="none" stroke="#22a7d6" stroke-width="2.2" filter="url(#sp18)"/>
<path d="M524.3,9.8 C526.5,10.6 529.7,15.2 531.9,17.5 C534,19.8 535.6,21.3 537.3,23.4 C539.1,25.5 542.6,28.6 542.4,29.9 C542.2,31.2 538.1,30.4 536.2,31 C534.4,31.6 531.9,31.5 531.2,33.5 C530.5,35.5 530.9,40.5 532.1,43 C533.4,45.5 536.5,46.6 538.6,48.7 C540.8,50.8 543.2,53.2 545.2,55.7 C547.2,58.2 549.2,61.6 550.6,63.9 C552.1,66.2 552.4,68.3 553.9,69.5 C555.4,70.7 557,71.1 559.7,71.1 C562.4,71.1 566.2,69.6 570.1,69.3 C573.9,69 579.3,69.7 582.7,69.3 C586.2,68.9 587.9,67.5 590.8,66.8 C593.7,66.1 597.1,65.5 600,64.9 C602.9,64.3 606.4,63.4 608.1,63.4 C609.9,63.4 609.7,63.2 610.4,64.9 C611.2,66.6 612,71.1 612.8,73.6 C613.5,76.1 614.7,76.9 615.1,79.8 C615.5,82.7 615.7,88.9 615.1,91 C614.5,93.1 613.7,91.6 611.6,92.2 C609.4,92.8 604.8,94.1 602.4,94.7 C599.9,95.3 598.1,95.4 596.6,95.9 C595.1,96.4 594.5,97 593.1,97.8 C591.8,98.6 590.2,100.1 588.5,100.9 C586.8,101.7 584.7,102.4 582.7,102.8 C580.8,103.2 578.9,102.7 577,103.4 C575,104.1 573.1,106.1 571.2,107.1 C569.3,108.1 567.1,108.9 565.4,109.6 C563.8,110.2 562.5,109.3 561.4,111 C560.4,112.7 560,118.9 559.1,119.9 C558.3,120.9 557.6,118.5 556.3,117 C555.1,115.5 553.4,112.9 551.7,111 C550,109.1 547.7,107.5 546.1,105.5 C544.5,103.5 543.1,101.1 541.9,99 C540.7,96.9 540,94.8 539.1,93 C538.2,91.2 537.5,89.3 536.3,88 C535.2,86.7 533.9,85.7 532.1,85.2 C530.4,84.7 527.4,84.7 525.6,85 C523.8,85.3 522.8,86.4 521.4,87.2 C519.9,88 518.6,89.6 517,89.8 C515.4,90 513.6,89.6 511.6,88.6 C509.6,87.6 507.1,85.5 505.1,83.9 C503.1,82.3 501.2,80.8 499.6,79.2 C497.9,77.6 496.3,76.4 495.2,74.4 C494.1,72.4 493.4,69.9 493.1,67.4 C492.7,64.9 492.7,62.1 493.1,59.2 C493.4,56.3 494.3,52.6 495.2,49.9 C496.1,47.2 496.8,44.9 498.5,42.8 C500.1,40.6 503.4,39.1 505.1,37 C506.7,34.9 506.9,32.5 508.3,30 C509.7,27.5 511.7,25.1 513.4,22.2 C515.2,19.3 517,15 518.8,12.9 C520.7,10.8 522.2,9 524.3,9.8Z" fill="#22a7d6"/>
<path d="M524.3,9.8 C526.5,10.6 529.7,15.2 531.9,17.5 C534,19.8 535.6,21.3 537.3,23.4 C539.1,25.5 542.6,28.6 542.4,29.9 C542.2,31.2 538.1,30.4 536.2,31 C534.4,31.6 531.9,31.5 531.2,33.5 C530.5,35.5 530.9,40.5 532.1,43 C533.4,45.5 536.5,46.6 538.6,48.7 C540.8,50.8 543.2,53.2 545.2,55.7 C547.2,58.2 549.2,61.6 550.6,63.9 C552.1,66.2 552.4,68.3 553.9,69.5 C555.4,70.7 557,71.1 559.7,71.1 C562.4,71.1 566.2,69.6 570.1,69.3 C573.9,69 579.3,69.7 582.7,69.3 C586.2,68.9 587.9,67.5 590.8,66.8 C593.7,66.1 597.1,65.5 600,64.9 C602.9,64.3 606.4,63.4 608.1,63.4 C609.9,63.4 609.7,63.2 610.4,64.9 C611.2,66.6 612,71.1 612.8,73.6 C613.5,76.1 614.7,76.9 615.1,79.8 C615.5,82.7 615.7,88.9 615.1,91 C614.5,93.1 613.7,91.6 611.6,92.2 C609.4,92.8 604.8,94.1 602.4,94.7 C599.9,95.3 598.1,95.4 596.6,95.9 C595.1,96.4 594.5,97 593.1,97.8 C591.8,98.6 590.2,100.1 588.5,100.9 C586.8,101.7 584.7,102.4 582.7,102.8 C580.8,103.2 578.9,102.7 577,103.4 C575,104.1 573.1,106.1 571.2,107.1 C569.3,108.1 567.1,108.9 565.4,109.6 C563.8,110.2 562.5,109.3 561.4,111 C560.4,112.7 560,118.9 559.1,119.9 C558.3,120.9 557.6,118.5 556.3,117 C555.1,115.5 553.4,112.9 551.7,111 C550,109.1 547.7,107.5 546.1,105.5 C544.5,103.5 543.1,101.1 541.9,99 C540.7,96.9 540,94.8 539.1,93 C538.2,91.2 537.5,89.3 536.3,88 C535.2,86.7 533.9,85.7 532.1,85.2 C530.4,84.7 527.4,84.7 525.6,85 C523.8,85.3 522.8,86.4 521.4,87.2 C519.9,88 518.6,89.6 517,89.8 C515.4,90 513.6,89.6 511.6,88.6 C509.6,87.6 507.1,85.5 505.1,83.9 C503.1,82.3 501.2,80.8 499.6,79.2 C497.9,77.6 496.3,76.4 495.2,74.4 C494.1,72.4 493.4,69.9 493.1,67.4 C492.7,64.9 492.7,62.1 493.1,59.2 C493.4,56.3 494.3,52.6 495.2,49.9 C496.1,47.2 496.8,44.9 498.5,42.8 C500.1,40.6 503.4,39.1 505.1,37 C506.7,34.9 506.9,32.5 508.3,30 C509.7,27.5 511.7,25.1 513.4,22.2 C515.2,19.3 517,15 518.8,12.9 C520.7,10.8 522.2,9 524.3,9.8Z" fill="#f6a134" filter="url(#sp19)"/>
<path d="M512,42 C513,39 516.8,36.5 520,35 C523.2,33.5 527.3,32.5 531,33 C534.7,33.5 538.8,35.7 542,38 C545.2,40.3 548,43.7 550,47 C552,50.3 553.7,54.5 554,58 C554.3,61.5 553.7,65.2 552,68 C550.3,70.8 547.2,74.3 544,75 C540.8,75.7 536.7,74 533,72 C529.3,70 525.2,66.2 522,63 C518.8,59.8 515.7,56.5 514,53 C512.3,49.5 511,45 512,42Z" fill="#f6a134" filter="url(#sp20)"/>
<path d="M516,44 C516.5,41.8 518.7,40.2 521,39 C523.3,37.8 526.8,36.7 530,37 C533.2,37.3 537,39 540,41 C543,43 546.2,46.2 548,49 C549.8,51.8 550.8,55 551,58 C551.2,61 550.3,64.8 549,67 C547.7,69.2 545.5,70.8 543,71 C540.5,71.2 537,69.7 534,68 C531,66.3 527.7,63.7 525,61 C522.3,58.3 519.5,54.8 518,52 C516.5,49.2 515.5,46.2 516,44Z" fill="#f6a134" filter="url(#sp21)"/>
<path d="M538,96 C540,96.2 545,99.3 548,101 C551,102.7 554.3,104.2 556,106 C557.7,107.8 558.7,109.5 558,112 C557.3,114.5 554,120.8 552,121 C550,121.2 548,115.5 546,113 C544,110.5 541.7,108.2 540,106 C538.3,103.8 536.3,101.7 536,100 C535.7,98.3 536,95.8 538,96Z" fill="#ffffff" filter="url(#sp22)"/>
<path d="M586,97 C588.7,98.2 596.7,95.8 600,95 C603.3,94.2 604,94.5 606,92 C608,89.5 611.7,83.7 612,80 C612.3,76.3 610.3,72 608,70 C605.7,68 601,67.2 598,68 C595,68.8 592.3,71.7 590,75 C587.7,78.3 584.7,84.3 584,88 C583.3,91.7 583.3,95.8 586,97Z" fill="#ffffff" filter="url(#sp23)"/>
<circle cx="629.4" cy="63.7" r="1.5" fill="#22a7d6"/>
<text x="634.9" y="63.7" font-size="4.6" dominant-baseline="central" fill="#444">IL-2</text>
<circle cx="629.4" cy="69.1" r="1.5" fill="#f6a134"/>
<text x="634.9" y="69.1" font-size="4.6" dominant-baseline="central" fill="#444">IL-2+IL-35</text>
<line x1="470.2" y1="140.2" x2="470.2" y2="106.4" stroke="#000" stroke-width="0.7"/>
<line x1="470.2" y1="140.2" x2="498" y2="140.2" stroke="#000" stroke-width="0.7"/>
<path d="M468.5,107.6 L470.2,103.4 L471.9,107.6Z" fill="#000"/>
<path d="M496.8,138.5 L501,140.2 L496.8,141.9Z" fill="#000"/>
<text x="465.5" y="122" font-size="5.6" text-anchor="middle" dominant-baseline="central" fill="#111" transform="rotate(-90 465.5 122)">UMAP_2</text>
<text x="486" y="144.6" font-size="5.6" text-anchor="middle" dominant-baseline="central" fill="#111">UMAP_1</text>
<text x="3.5" y="152" font-size="10.5" dominant-baseline="central" font-weight="bold">d</text>
<rect x="122.2" y="146.5" width="94.6" height="142.1" fill="#fff" stroke="#8a8a8a" stroke-width="0.7"/>
<line x1="131.4" y1="147" x2="131.4" y2="288.1" stroke="#ececec" stroke-width="0.45"/>
<line x1="146.6" y1="147" x2="146.6" y2="288.1" stroke="#ececec" stroke-width="0.45"/>
<line x1="161.8" y1="147" x2="161.8" y2="288.1" stroke="#ececec" stroke-width="0.45"/>
<line x1="177.1" y1="147" x2="177.1" y2="288.1" stroke="#ececec" stroke-width="0.45"/>
<line x1="192.3" y1="147" x2="192.3" y2="288.1" stroke="#ececec" stroke-width="0.45"/>
<line x1="207.5" y1="147" x2="207.5" y2="288.1" stroke="#ececec" stroke-width="0.45"/>
<line x1="122.6" y1="158.7" x2="216.4" y2="158.7" stroke="#ececec" stroke-width="0.45"/>
<line x1="122.6" y1="178.6" x2="216.4" y2="178.6" stroke="#ececec" stroke-width="0.45"/>
<line x1="122.6" y1="198.1" x2="216.4" y2="198.1" stroke="#ececec" stroke-width="0.45"/>
<line x1="122.6" y1="217.9" x2="216.4" y2="217.9" stroke="#ececec" stroke-width="0.45"/>
<line x1="122.6" y1="237.8" x2="216.4" y2="237.8" stroke="#ececec" stroke-width="0.45"/>
<line x1="122.6" y1="257.5" x2="216.4" y2="257.5" stroke="#ececec" stroke-width="0.45"/>
<line x1="122.6" y1="277.3" x2="216.4" y2="277.3" stroke="#ececec" stroke-width="0.45"/>
<line x1="120.4" y1="158.7" x2="122.2" y2="158.7" stroke="#555" stroke-width="0.4"/>
<circle cx="131.4" cy="158.7" r="3.9" fill="#e0087a"/>
<circle cx="146.6" cy="158.7" r="3.7" fill="#cc18c0"/>
<circle cx="161.8" cy="158.7" r="3.9" fill="#e0087a"/>
<circle cx="177.1" cy="158.7" r="2.2" fill="#2a0a9a"/>
<circle cx="192.3" cy="158.7" r="1.8" fill="#2a0a9a"/>
<circle cx="207.5" cy="158.7" r="2.6" fill="#3a0aa8"/>
<line x1="120.4" y1="178.6" x2="122.2" y2="178.6" stroke="#555" stroke-width="0.4"/>
<circle cx="131.4" cy="178.6" r="3.4" fill="#cc10c0"/>
<circle cx="146.6" cy="178.6" r="3.5" fill="#c818d0"/>
<circle cx="161.8" cy="178.6" r="3.5" fill="#d010b0"/>
<circle cx="177.1" cy="178.6" r="1.3" fill="#2a0a9a"/>
<circle cx="192.3" cy="178.6" r="1.3" fill="#2a0a9a"/>
<circle cx="207.5" cy="178.6" r="1.7" fill="#2a0a9a"/>
<line x1="120.4" y1="198.1" x2="122.2" y2="198.1" stroke="#555" stroke-width="0.4"/>
<circle cx="131.4" cy="198.1" r="3.6" fill="#b818d8"/>
<circle cx="146.6" cy="198.1" r="3.7" fill="#b418d8"/>
<circle cx="161.8" cy="198.1" r="3.6" fill="#c810c0"/>
<circle cx="177.1" cy="198.1" r="2.1" fill="#2a0a9a"/>
<circle cx="192.3" cy="198.1" r="2.6" fill="#4a0ab8"/>
<circle cx="207.5" cy="198.1" r="3.1" fill="#5a10c0"/>
<line x1="120.4" y1="217.9" x2="122.2" y2="217.9" stroke="#555" stroke-width="0.4"/>
<circle cx="131.4" cy="217.9" r="2.9" fill="#c018d0"/>
<circle cx="146.6" cy="217.9" r="2.9" fill="#c018d0"/>
<circle cx="161.8" cy="217.9" r="3" fill="#c818c8"/>
<line x1="120.4" y1="237.8" x2="122.2" y2="237.8" stroke="#555" stroke-width="0.4"/>
<circle cx="131.4" cy="237.8" r="3" fill="#d8109a"/>
<circle cx="146.6" cy="237.8" r="2.3" fill="#7a18e0"/>
<circle cx="161.8" cy="237.8" r="3.5" fill="#f00a1a"/>
<circle cx="177.1" cy="237.8" r="1.3" fill="#2a0a9a"/>
<circle cx="192.3" cy="237.8" r="0.3" fill="#c0c0e8"/>
<circle cx="207.5" cy="237.8" r="0.3" fill="#c0c0e8"/>
<line x1="120.4" y1="257.5" x2="122.2" y2="257.5" stroke="#555" stroke-width="0.4"/>
<circle cx="131.4" cy="257.5" r="2" fill="#2a0a9a"/>
<circle cx="146.6" cy="257.5" r="2.4" fill="#3a0aa8"/>
<circle cx="161.8" cy="257.5" r="2" fill="#2a0a9a"/>
<circle cx="177.1" cy="257.5" r="0.4" fill="#9090d0"/>
<circle cx="192.3" cy="257.5" r="1.1" fill="#2a0a9a"/>
<circle cx="207.5" cy="257.5" r="1.6" fill="#2a0a9a"/>
<line x1="120.4" y1="277.3" x2="122.2" y2="277.3" stroke="#555" stroke-width="0.4"/>
<circle cx="131.4" cy="277.3" r="3.6" fill="#c018d0"/>
<circle cx="146.6" cy="277.3" r="3.4" fill="#8018e0"/>
<circle cx="161.8" cy="277.3" r="3.8" fill="#d8109a"/>
<circle cx="177.1" cy="277.3" r="3.2" fill="#8018e0"/>
<circle cx="192.3" cy="277.3" r="3" fill="#6010c8"/>
<circle cx="207.5" cy="277.3" r="3.4" fill="#8818e0"/>
<text x="117.6" y="158.7" font-size="5.9" text-anchor="end" dominant-baseline="central" fill="#111" textLength="97.6" lengthAdjust="spacingAndGlyphs">GOBP_IMMUNE_EFFECTOR_PROCESS</text>
<text x="117.6" y="178.6" font-size="5.9" text-anchor="end" dominant-baseline="central" fill="#111" textLength="109.6" lengthAdjust="spacingAndGlyphs">GOBP_LEUKOCYTE_MEDIATED_IMMUNITY</text>
<text x="117.6" y="194.2" font-size="5.9" text-anchor="end" dominant-baseline="central" fill="#111" textLength="80" lengthAdjust="spacingAndGlyphs">GOBP_REGULATION_OF_CELL_</text>
<text x="117.6" y="201.9" font-size="5.9" text-anchor="end" dominant-baseline="central" fill="#111" textLength="30" lengthAdjust="spacingAndGlyphs">ACTIVATION</text>
<text x="117.6" y="217.9" font-size="5.9" text-anchor="end" dominant-baseline="central" fill="#111" textLength="52.6" lengthAdjust="spacingAndGlyphs">GOBP_CELL_KILLING</text>
<text x="117.6" y="233.9" font-size="5.9" text-anchor="end" dominant-baseline="central" fill="#111" textLength="80" lengthAdjust="spacingAndGlyphs">KEGG_NATURAL_KILLER_CELL_</text>
<text x="117.6" y="241.6" font-size="5.9" text-anchor="end" dominant-baseline="central" fill="#111" textLength="57.4" lengthAdjust="spacingAndGlyphs">MEDIATED_CYTOTOXICITY</text>
<text x="117.6" y="253.6" font-size="5.9" text-anchor="end" dominant-baseline="central" fill="#111" textLength="79.3" lengthAdjust="spacingAndGlyphs">GOCC_SECRETORY_GRANULE_</text>
<text x="117.6" y="261.3" font-size="5.9" text-anchor="end" dominant-baseline="central" fill="#111" textLength="31.1" lengthAdjust="spacingAndGlyphs">MEMBRANE</text>
<text x="117.6" y="277.3" font-size="5.9" text-anchor="end" dominant-baseline="central" fill="#111" textLength="82.9" lengthAdjust="spacingAndGlyphs">GOBP_CYTOKINE_PRODUCTION</text>
<text x="222.5" y="161.7" font-size="4.2" dominant-baseline="central" fill="#333">nbGene</text>
<circle cx="228.2" cy="170.2" r="2.3" fill="#000"/>
<text x="235.7" y="170.2" font-size="4.2" dominant-baseline="central" fill="#333">5</text>
<circle cx="228.2" cy="180.3" r="3" fill="#000"/>
<text x="235.7" y="180.3" font-size="4.2" dominant-baseline="central" fill="#333">10</text>
<circle cx="228.2" cy="190.5" r="3.6" fill="#000"/>
<text x="235.7" y="190.5" font-size="4.2" dominant-baseline="central" fill="#333">15</text>
<circle cx="228.2" cy="201.5" r="4.7" fill="#000"/>
<text x="235.7" y="201.5" font-size="4.2" dominant-baseline="central" fill="#333">20</text>
<text x="222.5" y="222.4" font-size="4.2" dominant-baseline="central" fill="#333">p.adjust</text>
<rect x="222" y="226.2" width="10" height="49.8" fill="url(#gd)"/>
<line x1="222" y1="228.5" x2="223.5" y2="228.5" stroke="#fff" stroke-width="0.4"/>
<line x1="230.5" y1="228.5" x2="232" y2="228.5" stroke="#fff" stroke-width="0.4"/>
<text x="234.8" y="228.5" font-size="4.2" dominant-baseline="central" fill="#333">20</text>
<line x1="222" y1="241.2" x2="223.5" y2="241.2" stroke="#fff" stroke-width="0.4"/>
<line x1="230.5" y1="241.2" x2="232" y2="241.2" stroke="#fff" stroke-width="0.4"/>
<text x="234.8" y="241.2" font-size="4.2" dominant-baseline="central" fill="#333">15</text>
<line x1="222" y1="252.6" x2="223.5" y2="252.6" stroke="#fff" stroke-width="0.4"/>
<line x1="230.5" y1="252.6" x2="232" y2="252.6" stroke="#fff" stroke-width="0.4"/>
<text x="234.8" y="252.6" font-size="4.2" dominant-baseline="central" fill="#333">10</text>
<line x1="222" y1="264.9" x2="223.5" y2="264.9" stroke="#fff" stroke-width="0.4"/>
<line x1="230.5" y1="264.9" x2="232" y2="264.9" stroke="#fff" stroke-width="0.4"/>
<text x="234.8" y="264.9" font-size="4.2" dominant-baseline="central" fill="#333">5</text>
<text x="3.5" y="292" font-size="10.5" dominant-baseline="central" font-weight="bold">e</text>
<rect x="122.2" y="290.3" width="94.6" height="142.1" fill="#fff" stroke="#8a8a8a" stroke-width="0.7"/>
<line x1="131.4" y1="290.8" x2="131.4" y2="431.9" stroke="#ececec" stroke-width="0.45"/>
<line x1="146.6" y1="290.8" x2="146.6" y2="431.9" stroke="#ececec" stroke-width="0.45"/>
<line x1="161.8" y1="290.8" x2="161.8" y2="431.9" stroke="#ececec" stroke-width="0.45"/>
<line x1="177.1" y1="290.8" x2="177.1" y2="431.9" stroke="#ececec" stroke-width="0.45"/>
<line x1="192.3" y1="290.8" x2="192.3" y2="431.9" stroke="#ececec" stroke-width="0.45"/>
<line x1="207.5" y1="290.8" x2="207.5" y2="431.9" stroke="#ececec" stroke-width="0.45"/>
<line x1="122.6" y1="302.1" x2="216.4" y2="302.1" stroke="#ececec" stroke-width="0.45"/>
<line x1="122.6" y1="322" x2="216.4" y2="322" stroke="#ececec" stroke-width="0.45"/>
<line x1="122.6" y1="341.7" x2="216.4" y2="341.7" stroke="#ececec" stroke-width="0.45"/>
<line x1="122.6" y1="361.7" x2="216.4" y2="361.7" stroke="#ececec" stroke-width="0.45"/>
<line x1="122.6" y1="381.4" x2="216.4" y2="381.4" stroke="#ececec" stroke-width="0.45"/>
<line x1="122.6" y1="401.1" x2="216.4" y2="401.1" stroke="#ececec" stroke-width="0.45"/>
<line x1="122.6" y1="420.9" x2="216.4" y2="420.9" stroke="#ececec" stroke-width="0.45"/>
<line x1="120.4" y1="302.1" x2="122.2" y2="302.1" stroke="#555" stroke-width="0.4"/>
<circle cx="131.4" cy="302.1" r="2.3" fill="#2a0a9a"/>
<circle cx="146.6" cy="302.1" r="2.8" fill="#4a14b8"/>
<circle cx="161.8" cy="302.1" r="2.8" fill="#7018d0"/>
<circle cx="177.1" cy="302.1" r="3.6" fill="#c020c8"/>
<circle cx="192.3" cy="302.1" r="3" fill="#9020e0"/>
<circle cx="207.5" cy="302.1" r="3.6" fill="#b020e0"/>
<line x1="120.4" y1="322" x2="122.2" y2="322" stroke="#555" stroke-width="0.4"/>
<circle cx="131.4" cy="322" r="2.7" fill="#3010a8"/>
<circle cx="146.6" cy="322" r="2.7" fill="#3010a8"/>
<circle cx="161.8" cy="322" r="2.7" fill="#4a10b0"/>
<circle cx="177.1" cy="322" r="3.8" fill="#d0209a"/>
<circle cx="192.3" cy="322" r="3.4" fill="#a020e0"/>
<circle cx="207.5" cy="322" r="3.8" fill="#d0209a"/>
<line x1="120.4" y1="341.7" x2="122.2" y2="341.7" stroke="#555" stroke-width="0.4"/>
<circle cx="131.4" cy="341.7" r="1.1" fill="#2a0a9a"/>
<circle cx="146.6" cy="341.7" r="1.3" fill="#2a0a9a"/>
<circle cx="161.8" cy="341.7" r="1.9" fill="#4a10b0"/>
<circle cx="177.1" cy="341.7" r="2.7" fill="#9020e0"/>
<circle cx="192.3" cy="341.7" r="2.3" fill="#6010c0"/>
<circle cx="207.5" cy="341.7" r="2.3" fill="#4a10b0"/>
<line x1="120.4" y1="361.7" x2="122.2" y2="361.7" stroke="#555" stroke-width="0.4"/>
<circle cx="131.4" cy="361.7" r="1.5" fill="#2a0a9a"/>
<circle cx="146.6" cy="361.7" r="2.1" fill="#2a0a9a"/>
<circle cx="161.8" cy="361.7" r="2.1" fill="#2a0a9a"/>
<circle cx="177.1" cy="361.7" r="4" fill="#f00010"/>
<circle cx="192.3" cy="361.7" r="3.6" fill="#e0109a"/>
<circle cx="207.5" cy="361.7" r="3.4" fill="#9020e0"/>
<line x1="120.4" y1="381.4" x2="122.2" y2="381.4" stroke="#555" stroke-width="0.4"/>
<circle cx="131.4" cy="381.4" r="1.5" fill="#2a0a9a"/>
<circle cx="146.6" cy="381.4" r="1.1" fill="#2a0a9a"/>
<circle cx="161.8" cy="381.4" r="1.7" fill="#2a0a9a"/>
<circle cx="177.1" cy="381.4" r="3.4" fill="#e01080"/>
<circle cx="192.3" cy="381.4" r="2.7" fill="#9020e0"/>
<circle cx="207.5" cy="381.4" r="2.8" fill="#8020e0"/>
<line x1="120.4" y1="401.1" x2="122.2" y2="401.1" stroke="#555" stroke-width="0.4"/>
<circle cx="131.4" cy="401.1" r="1.1" fill="#2a0a9a"/>
<circle cx="146.6" cy="401.1" r="1.1" fill="#2a0a9a"/>
<circle cx="161.8" cy="401.1" r="1.1" fill="#2a0a9a"/>
<circle cx="177.1" cy="401.1" r="2.5" fill="#e0108a"/>
<circle cx="192.3" cy="401.1" r="2.5" fill="#d010a0"/>
<circle cx="207.5" cy="401.1" r="2.5" fill="#e0109a"/>
<line x1="120.4" y1="420.9" x2="122.2" y2="420.9" stroke="#555" stroke-width="0.4"/>
<circle cx="131.4" cy="420.9" r="1.1" fill="#4010b0"/>
<circle cx="146.6" cy="420.9" r="0.4" fill="#b0b0e0"/>
<circle cx="161.8" cy="420.9" r="0.4" fill="#b0b0e0"/>
<circle cx="177.1" cy="420.9" r="2.5" fill="#d020b0"/>
<circle cx="192.3" cy="420.9" r="2.3" fill="#c020d0"/>
<circle cx="207.5" cy="420.9" r="2.3" fill="#d020b0"/>
<text x="117.6" y="302.1" font-size="5.9" text-anchor="end" dominant-baseline="central" fill="#111" textLength="98.6" lengthAdjust="spacingAndGlyphs">GOBP_VASCULATURE_DEVELOPMENT</text>
<text x="117.6" y="322" font-size="5.9" text-anchor="end" dominant-baseline="central" fill="#111" textLength="80" lengthAdjust="spacingAndGlyphs">GOCC_ANCHORING_JUNCTION</text>
<text x="117.6" y="341.7" font-size="5.9" text-anchor="end" dominant-baseline="central" fill="#111" textLength="70.2" lengthAdjust="spacingAndGlyphs">GOBP_TISSUE_MIGRATION</text>
<text x="117.6" y="361.7" font-size="5.9" text-anchor="end" dominant-baseline="central" fill="#111" textLength="84.8" lengthAdjust="spacingAndGlyphs">GOBP_TISSUE_MORPHOGENESIS</text>
<text x="117.6" y="377.5" font-size="5.9" text-anchor="end" dominant-baseline="central" fill="#111" textLength="94.6" lengthAdjust="spacingAndGlyphs">GOBP_NEGATIVE_REGULATION_OF_</text>
<text x="117.6" y="385.2" font-size="5.9" text-anchor="end" dominant-baseline="central" fill="#111" textLength="51.2" lengthAdjust="spacingAndGlyphs">PHOSPHORYLATION</text>
<text x="117.6" y="401.1" font-size="5.9" text-anchor="end" dominant-baseline="central" fill="#111" textLength="61" lengthAdjust="spacingAndGlyphs">GOMF_SMAD_BINDING</text>
<text x="117.6" y="420.9" font-size="5.9" text-anchor="end" dominant-baseline="central" fill="#111" textLength="90.2" lengthAdjust="spacingAndGlyphs">HALLMARK_TGF_BETA_SIGNALING</text>
<text x="222.5" y="304.5" font-size="4.2" dominant-baseline="central" fill="#333">p.adjust</text>
<rect x="222" y="307.8" width="10" height="50.2" fill="url(#ge)"/>
<line x1="222" y1="320.5" x2="223.5" y2="320.5" stroke="#fff" stroke-width="0.4"/>
<line x1="230.5" y1="320.5" x2="232" y2="320.5" stroke="#fff" stroke-width="0.4"/>
<text x="234.8" y="320.5" font-size="4.2" dominant-baseline="central" fill="#333">9</text>
<line x1="222" y1="333.4" x2="223.5" y2="333.4" stroke="#fff" stroke-width="0.4"/>
<line x1="230.5" y1="333.4" x2="232" y2="333.4" stroke="#fff" stroke-width="0.4"/>
<text x="234.8" y="333.4" font-size="4.2" dominant-baseline="central" fill="#333">6</text>
<line x1="222" y1="346.7" x2="223.5" y2="346.7" stroke="#fff" stroke-width="0.4"/>
<line x1="230.5" y1="346.7" x2="232" y2="346.7" stroke="#fff" stroke-width="0.4"/>
<text x="234.8" y="346.7" font-size="4.2" dominant-baseline="central" fill="#333">3</text>
<text x="222.5" y="372.9" font-size="4.2" dominant-baseline="central" fill="#333">nbGene</text>
<circle cx="228.2" cy="381.4" r="2.5" fill="#000"/>
<text x="236.7" y="381.4" font-size="4.2" dominant-baseline="central" fill="#333">5</text>
<circle cx="228.2" cy="391.5" r="3.6" fill="#000"/>
<text x="236.7" y="391.5" font-size="4.2" dominant-baseline="central" fill="#333">10</text>
<circle cx="228.2" cy="401.7" r="4.4" fill="#000"/>
<text x="236.7" y="401.7" font-size="4.2" dominant-baseline="central" fill="#333">15</text>
<circle cx="228.2" cy="413.7" r="5.1" fill="#000"/>
<text x="236.7" y="413.7" font-size="4.2" dominant-baseline="central" fill="#333">20</text>
<text x="132.9" y="436" font-size="6.6" text-anchor="end" fill="#33b0e0" transform="rotate(-42 132.9 436)">AdaptNK</text>
<text x="148.1" y="436" font-size="6.6" text-anchor="end" fill="#33b0e0" transform="rotate(-42 148.1 436)">ConvNK</text>
<text x="163.3" y="436" font-size="6.6" text-anchor="end" fill="#33b0e0" transform="rotate(-42 163.3 436)">ProlifNK</text>
<text x="178.6" y="436" font-size="6.6" text-anchor="end" fill="#f7a040" transform="rotate(-42 178.6 436)">AdaptNK</text>
<text x="193.8" y="436" font-size="6.6" text-anchor="end" fill="#f7a040" transform="rotate(-42 193.8 436)">ConvNK</text>
<text x="209" y="436" font-size="6.6" text-anchor="end" fill="#f7a040" transform="rotate(-42 209 436)">ProlifNK</text>
<line x1="123" y1="455.5" x2="168" y2="455.5" stroke="#33b0e0" stroke-width="1.2"/>
<line x1="171.8" y1="455.5" x2="216" y2="455.5" stroke="#f7a040" stroke-width="1.2"/>
<text x="145.5" y="459.4" font-size="6.2" text-anchor="middle" dominant-baseline="central" font-weight="bold" fill="#33b0e0">IL-2</text>
<text x="193.7" y="459.4" font-size="6.2" text-anchor="middle" dominant-baseline="central" font-weight="bold" fill="#f7a040">IL-2+IL-35</text>
<text x="253.8" y="179" font-size="10.5" dominant-baseline="central" font-weight="bold">f</text>
<text x="274.5" y="189.4" font-size="9.7" dominant-baseline="central" fill="#111" textLength="172.6" lengthAdjust="spacingAndGlyphs"><tspan font-weight="bold">Downregulated</tspan> genes (IL-2+35 vs IL-2)</text>
<circle cx="361" cy="278.3" r="69.6" fill="#dce9fc"/>
<circle cx="330" cy="329.7" r="69.4" fill="#cdcbf3"/>
<circle cx="392.8" cy="329.7" r="69.4" fill="#f9d4fa"/>
<circle cx="330" cy="329.7" r="69.4" fill="#aac0f4" clip-path="url(#vfc)"/>
<circle cx="392.8" cy="329.7" r="69.4" fill="#dccbfa" clip-path="url(#vfc)"/>
<circle cx="392.8" cy="329.7" r="69.4" fill="#c6a9ee" clip-path="url(#vfa)"/>
<g clip-path="url(#vfc)"><circle cx="392.8" cy="329.7" r="69.4" fill="#a9a6f0" clip-path="url(#vfa)"/></g>
<circle cx="361" cy="278.3" r="69.6" fill="none" stroke="#000" stroke-width="1.0"/>
<circle cx="330" cy="329.7" r="69.4" fill="none" stroke="#000" stroke-width="1.0"/>
<circle cx="392.8" cy="329.7" r="69.4" fill="none" stroke="#000" stroke-width="1.0"/>
<text x="361" y="219.5" font-size="8.2" text-anchor="middle" dominant-baseline="central" font-weight="bold" fill="#000">ConvNK</text>
<text x="361" y="231.2" font-size="8.2" text-anchor="middle" dominant-baseline="central" font-weight="bold" fill="#000">42 (18.5%)</text>
<text x="361" y="241.5" font-size="6.7" text-anchor="middle" dominant-baseline="central" font-style="italic" fill="#111" stroke="#111" stroke-width="0.16">ITGAX, CD160, CD38, FGFBP2,</text>
<text x="361" y="251.3" font-size="6.7" text-anchor="middle" dominant-baseline="central" font-style="italic" fill="#111" stroke="#111" stroke-width="0.16">RNF165, TBX21</text>
<text x="271.9" y="211.5" font-size="6.7" text-anchor="middle" dominant-baseline="central" font-style="italic" fill="#111" stroke="#111" stroke-width="0.16">CD226,</text>
<text x="271.9" y="221.3" font-size="6.7" text-anchor="middle" dominant-baseline="central" font-style="italic" fill="#111" stroke="#111" stroke-width="0.16">CD7,</text>
<text x="271.9" y="231" font-size="6.7" text-anchor="middle" dominant-baseline="central" font-style="italic" fill="#111" stroke="#111" stroke-width="0.16">SPON2,</text>
<text x="271.9" y="240.7" font-size="6.7" text-anchor="middle" dominant-baseline="central" font-style="italic" fill="#111" stroke="#111" stroke-width="0.16">S1PR5,</text>
<text x="271.9" y="250.5" font-size="6.7" text-anchor="middle" dominant-baseline="central" font-style="italic" fill="#111" stroke="#111" stroke-width="0.16">KLF3,</text>
<text x="271.9" y="260.2" font-size="6.7" text-anchor="middle" dominant-baseline="central" font-style="italic" fill="#111" stroke="#111" stroke-width="0.16">ITGAM</text>
<line x1="283.5" y1="264.2" x2="314.5" y2="287" stroke="#000" stroke-width="1.0"/>
<text x="324" y="272.2" font-size="8.2" text-anchor="middle" dominant-baseline="central" font-weight="bold" fill="#000">33 (14.5%)</text>
<text x="397.8" y="272.2" font-size="8.2" text-anchor="middle" dominant-baseline="central" font-weight="bold" fill="#000">18 (7.9%)</text>
<text x="446.5" y="221.6" font-size="6.7" text-anchor="middle" dominant-baseline="central" font-style="italic" fill="#111" stroke="#111" stroke-width="0.16">GZMB,</text>
<text x="446.5" y="231.3" font-size="6.7" text-anchor="middle" dominant-baseline="central" font-style="italic" fill="#111" stroke="#111" stroke-width="0.16">HDAC9,</text>
<text x="446.5" y="240.7" font-size="6.7" text-anchor="middle" dominant-baseline="central" font-style="italic" fill="#111" stroke="#111" stroke-width="0.16">TNFRSF4,</text>
<text x="446.5" y="250.8" font-size="6.7" text-anchor="middle" dominant-baseline="central" font-style="italic" fill="#111" stroke="#111" stroke-width="0.16">GAPDH,</text>
<text x="446.5" y="260.6" font-size="6.7" text-anchor="middle" dominant-baseline="central" font-style="italic" fill="#111" stroke="#111" stroke-width="0.16">MYOM2</text>
<line x1="429.7" y1="269.3" x2="405.2" y2="287.7" stroke="#000" stroke-width="1.0"/>
<text x="361" y="286.7" font-size="8.2" text-anchor="middle" dominant-baseline="central" font-weight="bold" fill="#000">36 (15,9%)</text>
<text x="361" y="296.8" font-size="6.7" text-anchor="middle" dominant-baseline="central" font-style="italic" fill="#111" stroke="#111" stroke-width="0.16">GNLY, FCGR3A,</text>
<text x="361" y="306.7" font-size="6.7" text-anchor="middle" dominant-baseline="central" font-style="italic" fill="#111" stroke="#111" stroke-width="0.16">SLAMF7, KIR2DL4,</text>
<text x="361" y="316.5" font-size="6.7" text-anchor="middle" dominant-baseline="central" font-style="italic" fill="#111" stroke="#111" stroke-width="0.16">NCR3, ITGB2, ITGA4,</text>
<text x="361" y="326.3" font-size="6.7" text-anchor="middle" dominant-baseline="central" font-style="italic" fill="#111" stroke="#111" stroke-width="0.16">KLF2, CX3CR1, TIGIT,</text>
<text x="361" y="336.2" font-size="6.7" text-anchor="middle" dominant-baseline="central" font-style="italic" fill="#111" stroke="#111" stroke-width="0.16">LAIR2</text>
<text x="297" y="337" font-size="6.7" text-anchor="middle" dominant-baseline="central" font-style="italic" fill="#111" stroke="#111" stroke-width="0.16">CD244,</text>
<text x="297" y="346.9" font-size="6.7" text-anchor="middle" dominant-baseline="central" font-style="italic" fill="#111" stroke="#111" stroke-width="0.16">ICAM2, XCL2,</text>
<text x="297" y="356.7" font-size="6.7" text-anchor="middle" dominant-baseline="central" font-style="italic" fill="#111" stroke="#111" stroke-width="0.16">XCL1, IL18R1,</text>
<text x="297" y="366.5" font-size="6.7" text-anchor="middle" dominant-baseline="central" font-style="italic" fill="#111" stroke="#111" stroke-width="0.16">KLRB1</text>
<text x="361" y="361.6" font-size="8.2" text-anchor="middle" dominant-baseline="central" font-weight="bold" fill="#000">14 (6.2%)</text>
<text x="426.4" y="337.2" font-size="6.7" text-anchor="middle" dominant-baseline="central" font-style="italic" fill="#111" stroke="#111" stroke-width="0.16">GZMA, GZMK,</text>
<text x="426.4" y="347.1" font-size="6.7" text-anchor="middle" dominant-baseline="central" font-style="italic" fill="#111" stroke="#111" stroke-width="0.16">LTA, IL32, ITGAL,</text>
<text x="426.4" y="356.9" font-size="6.7" text-anchor="middle" dominant-baseline="central" font-style="italic" fill="#111" stroke="#111" stroke-width="0.16">TNFRSF1B,</text>
<text x="426.4" y="366.7" font-size="6.7" text-anchor="middle" dominant-baseline="central" font-style="italic" fill="#111" stroke="#111" stroke-width="0.16">IL2RA, CSF2</text>
<text x="318" y="380.9" font-size="8.2" text-anchor="middle" dominant-baseline="central" font-weight="bold" fill="#000">37 (16.3%)</text>
<text x="325.6" y="390.2" font-size="8.2" text-anchor="middle" dominant-baseline="central" font-weight="bold" fill="#000">AdaptNK</text>
<text x="405.2" y="380.9" font-size="8.2" text-anchor="middle" dominant-baseline="central" font-weight="bold" fill="#000">47 (20.7%)</text>
<text x="396.1" y="390.2" font-size="8.2" text-anchor="middle" dominant-baseline="central" font-weight="bold" fill="#000">ProlifNK</text>
<line x1="361.4" y1="374.3" x2="361.4" y2="399.4" stroke="#000" stroke-width="1.0"/>
<text x="361.4" y="408.4" font-size="6.7" text-anchor="middle" dominant-baseline="central" font-style="italic" fill="#111" stroke="#111" stroke-width="0.16">PRF1, CD48, LTB, CCL3, IFNG,</text>
<text x="361.4" y="417.6" font-size="6.7" text-anchor="middle" dominant-baseline="central" font-style="italic" fill="#111" stroke="#111" stroke-width="0.16">CCL4, CCL4L2, TNFRSF9</text>
<text x="476.2" y="179" font-size="10.5" dominant-baseline="central" font-weight="bold">g</text>
<text x="503.7" y="189.4" font-size="9.7" dominant-baseline="central" fill="#111" textLength="158.8" lengthAdjust="spacingAndGlyphs"><tspan font-weight="bold">Upregulated</tspan> genes (IL-2+35 vs IL-2)</text>
<circle cx="581" cy="278.3" r="69.6" fill="#dce9fc"/>
<circle cx="550" cy="329.7" r="69.4" fill="#cdcbf3"/>
<circle cx="612.8" cy="329.7" r="69.4" fill="#f9d4fa"/>
<circle cx="550" cy="329.7" r="69.4" fill="#aac0f4" clip-path="url(#vgc)"/>
<circle cx="612.8" cy="329.7" r="69.4" fill="#dccbfa" clip-path="url(#vgc)"/>
<circle cx="612.8" cy="329.7" r="69.4" fill="#c6a9ee" clip-path="url(#vga)"/>
<g clip-path="url(#vgc)"><circle cx="612.8" cy="329.7" r="69.4" fill="#a9a6f0" clip-path="url(#vga)"/></g>
<circle cx="581" cy="278.3" r="69.6" fill="none" stroke="#000" stroke-width="1.0"/>
<circle cx="550" cy="329.7" r="69.4" fill="none" stroke="#000" stroke-width="1.0"/>
<circle cx="612.8" cy="329.7" r="69.4" fill="none" stroke="#000" stroke-width="1.0"/>
<text x="582.6" y="217.4" font-size="8.2" text-anchor="middle" dominant-baseline="central" font-weight="bold" fill="#000">ConvNK</text>
<text x="582.6" y="229" font-size="8.2" text-anchor="middle" dominant-baseline="central" font-weight="bold" fill="#000">17 (6.5%)</text>
<text x="582" y="240" font-size="6.7" text-anchor="middle" dominant-baseline="central" font-style="italic" fill="#111" stroke="#111" stroke-width="0.16">STK17B, BCL2, GNPTAB, VASH1,</text>
<text x="582" y="249.6" font-size="6.7" text-anchor="middle" dominant-baseline="central" font-style="italic" fill="#111" stroke="#111" stroke-width="0.16">CISH, LBH, PRRC2B, S100A11</text>
<text x="494.6" y="210.9" font-size="6.7" text-anchor="middle" dominant-baseline="central" font-style="italic" fill="#111" stroke="#111" stroke-width="0.16">PTMA,</text>
<text x="494.6" y="220.6" font-size="6.7" text-anchor="middle" dominant-baseline="central" font-style="italic" fill="#111" stroke="#111" stroke-width="0.16">SAMSN1,</text>
<text x="494.6" y="230" font-size="6.7" text-anchor="middle" dominant-baseline="central" font-style="italic" fill="#111" stroke="#111" stroke-width="0.16">CCND2,</text>
<text x="494.6" y="240" font-size="6.7" text-anchor="middle" dominant-baseline="central" font-style="italic" fill="#111" stroke="#111" stroke-width="0.16">ITGA5,</text>
<text x="494.6" y="249.5" font-size="6.7" text-anchor="middle" dominant-baseline="central" font-style="italic" fill="#111" stroke="#111" stroke-width="0.16">PIK3IP1,</text>
<text x="494.6" y="259.2" font-size="6.7" text-anchor="middle" dominant-baseline="central" font-style="italic" fill="#111" stroke="#111" stroke-width="0.16">SMAD7</text>
<line x1="503" y1="265.9" x2="534.6" y2="287.7" stroke="#000" stroke-width="1.0"/>
<text x="657.5" y="230" font-size="6.7" text-anchor="middle" dominant-baseline="central" font-style="italic" fill="#111" stroke="#111" stroke-width="0.16">RGS16,</text>
<text x="657.5" y="240" font-size="6.7" text-anchor="middle" dominant-baseline="central" font-style="italic" fill="#111" stroke="#111" stroke-width="0.16">TMIGD2,</text>
<text x="657.5" y="249.5" font-size="6.7" text-anchor="middle" dominant-baseline="central" font-style="italic" fill="#111" stroke="#111" stroke-width="0.16">PLXNA4,</text>
<text x="657.5" y="259.2" font-size="6.7" text-anchor="middle" dominant-baseline="central" font-style="italic" fill="#111" stroke="#111" stroke-width="0.16">HIP1</text>
<line x1="656.5" y1="264.9" x2="625.2" y2="287.7" stroke="#000" stroke-width="1.0"/>
<text x="544" y="275.3" font-size="8.2" text-anchor="middle" dominant-baseline="central" font-weight="bold" fill="#000">22 (8.4%)</text>
<text x="616.9" y="275.3" font-size="8.2" text-anchor="middle" dominant-baseline="central" font-weight="bold" fill="#000">21 (8%)</text>
<text x="581.6" y="286.7" font-size="8.2" text-anchor="middle" dominant-baseline="central" font-weight="bold" fill="#000">69 (26,4%)</text>
<text x="581.6" y="296.5" font-size="6.7" text-anchor="middle" dominant-baseline="central" font-style="italic" fill="#111" stroke="#111" stroke-width="0.16">ITGAE, TGFB1,</text>
<text x="581.6" y="306.2" font-size="6.7" text-anchor="middle" dominant-baseline="central" font-style="italic" fill="#111" stroke="#111" stroke-width="0.16">CCL5, CD96, SOCS1,</text>
<text x="581.6" y="316" font-size="6.7" text-anchor="middle" dominant-baseline="central" font-style="italic" fill="#111" stroke="#111" stroke-width="0.16">CLIC3, CXCR4,</text>
<text x="581.6" y="325.7" font-size="6.7" text-anchor="middle" dominant-baseline="central" font-style="italic" fill="#111" stroke="#111" stroke-width="0.16">CXCR3, SKIL,</text>
<text x="581.6" y="335.4" font-size="6.7" text-anchor="middle" dominant-baseline="central" font-style="italic" fill="#111" stroke="#111" stroke-width="0.16">ADAM28, PMEPA1</text>
<text x="516.1" y="341.5" font-size="6.7" text-anchor="middle" dominant-baseline="central" font-style="italic" fill="#111" stroke="#111" stroke-width="0.16">ITGB1, LDHA,</text>
<text x="516.1" y="351.2" font-size="6.7" text-anchor="middle" dominant-baseline="central" font-style="italic" fill="#111" stroke="#111" stroke-width="0.16">PTK2B,</text>
<text x="516.1" y="360.6" font-size="6.7" text-anchor="middle" dominant-baseline="central" font-style="italic" fill="#111" stroke="#111" stroke-width="0.16">KDM7A, PLEC</text>
<text x="581.6" y="361.6" font-size="8.2" text-anchor="middle" dominant-baseline="central" font-weight="bold" fill="#000">17 (6,5%)</text>
<text x="646.4" y="332" font-size="6.7" text-anchor="middle" dominant-baseline="central" font-style="italic" fill="#111" stroke="#111" stroke-width="0.16">CD9, CD52,</text>
<text x="646.4" y="341.8" font-size="6.7" text-anchor="middle" dominant-baseline="central" font-style="italic" fill="#111" stroke="#111" stroke-width="0.16">RUNX2, ZNF683,</text>
<text x="646.4" y="351.2" font-size="6.7" text-anchor="middle" dominant-baseline="central" font-style="italic" fill="#111" stroke="#111" stroke-width="0.16">SOX4, BMPR2</text>
<text x="646.4" y="361" font-size="6.7" text-anchor="middle" dominant-baseline="central" font-style="italic" fill="#111" stroke="#111" stroke-width="0.16">ZFHX3, ACVR1B,</text>
<text x="646.4" y="370.7" font-size="6.7" text-anchor="middle" dominant-baseline="central" font-style="italic" fill="#111" stroke="#111" stroke-width="0.16">BCAR3</text>
<text x="537.3" y="380.4" font-size="8.2" text-anchor="middle" dominant-baseline="central" font-weight="bold" fill="#000">45 (17.2%)</text>
<text x="545.7" y="389.8" font-size="8.2" text-anchor="middle" dominant-baseline="central" font-weight="bold" fill="#000">AdaptNK</text>
<text x="630.3" y="380.4" font-size="8.2" text-anchor="middle" dominant-baseline="central" font-weight="bold" fill="#000">70 (26.8%)</text>
<text x="616.2" y="389.8" font-size="8.2" text-anchor="middle" dominant-baseline="central" font-weight="bold" fill="#000">ProlifNK</text>
<line x1="581.4" y1="374.3" x2="581.4" y2="399.4" stroke="#000" stroke-width="1.0"/>
<text x="581.6" y="407.6" font-size="6.7" text-anchor="middle" dominant-baseline="central" font-style="italic" fill="#111" stroke="#111" stroke-width="0.16">ITGA1, SH2D1B,</text>
<text x="581.6" y="417" font-size="6.7" text-anchor="middle" dominant-baseline="central" font-style="italic" fill="#111" stroke="#111" stroke-width="0.16">ADCY3, GIT1, PDCD4</text>
<text x="5.5" y="483" font-size="10.5" dominant-baseline="central" font-weight="bold">h</text>
<text x="65.7" y="474.7" font-size="9.9" text-anchor="middle" dominant-baseline="central" fill="#111">GP130</text>
<text x="294.3" y="474.2" font-size="9.9" text-anchor="middle" dominant-baseline="central" fill="#111">IL-12Rβ2</text>
<text x="532.2" y="474.6" font-size="9.9" text-anchor="middle" dominant-baseline="central" fill="#111">IL-27Rα</text>
<rect x="38.6" y="479.5" width="58.1" height="57.2" fill="#fff" stroke="#d0d0d0" stroke-width="0.6"/>
<path d="M60.8,499.2 C61.2,498.5 62.7,497.2 63.5,495.2 C64.3,493.2 64.8,489.3 65.5,487.2 C66.2,485.1 66.9,482.4 67.6,482.4 C68.3,482.4 69.1,485.1 69.8,487.2 C70.5,489.3 70.9,493.3 71.5,495.2 C72.1,497.1 72.9,498 73.5,498.7 C74.1,499.4 74.8,499.1 75,499.2 L75,499.2 L60.8,499.2Z" fill="#d5e7fa" fill-opacity="0.85"/>
<line x1="38.6" y1="499.2" x2="96.7" y2="499.2" stroke="#4a9ef0" stroke-width="0.8"/>
<path d="M60.8,499.2 C61.2,498.5 62.7,497.2 63.5,495.2 C64.3,493.2 64.8,489.3 65.5,487.2 C66.2,485.1 66.9,482.4 67.6,482.4 C68.3,482.4 69.1,485.1 69.8,487.2 C70.5,489.3 70.9,493.3 71.5,495.2 C72.1,497.1 72.9,498 73.5,498.7 C74.1,499.4 74.8,499.1 75,499.2" fill="none" stroke="#4a9ef0" stroke-width="1.0"/>
<path d="M69,508.4 C69.3,507.7 70.4,506.4 71,504.4 C71.6,502.4 72,498.6 72.5,496.4 C73,494.2 73.4,491.8 73.9,491.3 C74.4,490.8 74.9,491.9 75.5,493.4 C76.1,494.9 76.8,498.2 77.5,500.4 C78.2,502.6 78.9,505.1 79.5,506.4 C80.1,507.7 81,508.1 81.3,508.4 L81.3,508.4 L69,508.4Z" fill="#d5e7fa" fill-opacity="0.85"/>
<line x1="38.6" y1="508.4" x2="96.7" y2="508.4" stroke="#4a9ef0" stroke-width="0.8"/>
<path d="M69,508.4 C69.3,507.7 70.4,506.4 71,504.4 C71.6,502.4 72,498.6 72.5,496.4 C73,494.2 73.4,491.8 73.9,491.3 C74.4,490.8 74.9,491.9 75.5,493.4 C76.1,494.9 76.8,498.2 77.5,500.4 C78.2,502.6 78.9,505.1 79.5,506.4 C80.1,507.7 81,508.1 81.3,508.4" fill="none" stroke="#4a9ef0" stroke-width="1.0"/>
<path d="M60.3,517.9 C60.7,517.2 61.8,515.9 62.5,513.9 C63.2,511.9 63.8,508.1 64.5,505.9 C65.2,503.7 66.1,501.5 66.8,500.9 C67.5,500.3 68.1,501 68.7,502.5 C69.3,504 70,507.7 70.5,509.9 C71,512.1 71.5,514.6 72,515.9 C72.5,517.2 73.2,517.6 73.4,517.9 L73.4,517.9 L60.3,517.9Z" fill="#d5e7fa" fill-opacity="0.85"/>
<line x1="38.6" y1="517.9" x2="96.7" y2="517.9" stroke="#4a9ef0" stroke-width="0.8"/>
<path d="M60.3,517.9 C60.7,517.2 61.8,515.9 62.5,513.9 C63.2,511.9 63.8,508.1 64.5,505.9 C65.2,503.7 66.1,501.5 66.8,500.9 C67.5,500.3 68.1,501 68.7,502.5 C69.3,504 70,507.7 70.5,509.9 C71,512.1 71.5,514.6 72,515.9 C72.5,517.2 73.2,517.6 73.4,517.9" fill="none" stroke="#4a9ef0" stroke-width="1.0"/>
<path d="M60.8,527.4 C61.2,526.9 62.2,526.2 63,524.4 C63.8,522.6 64.6,518.8 65.5,516.4 C66.4,514 67.5,510.3 68.2,509.8 C69,509.3 69.5,511.5 70,513.4 C70.5,515.3 71.1,519.5 71.5,521.4 C71.9,523.3 72.1,524 72.5,524.8 C72.9,525.6 73.4,526 74,526.4 C74.6,526.8 75.7,527.2 76,527.4 L76,527.4 L60.8,527.4Z" fill="#d5e7fa" fill-opacity="0.85"/>
<line x1="38.6" y1="527.4" x2="96.7" y2="527.4" stroke="#4a9ef0" stroke-width="0.8"/>
<path d="M60.8,527.4 C61.2,526.9 62.2,526.2 63,524.4 C63.8,522.6 64.6,518.8 65.5,516.4 C66.4,514 67.5,510.3 68.2,509.8 C69,509.3 69.5,511.5 70,513.4 C70.5,515.3 71.1,519.5 71.5,521.4 C71.9,523.3 72.1,524 72.5,524.8 C72.9,525.6 73.4,526 74,526.4 C74.6,526.8 75.7,527.2 76,527.4" fill="none" stroke="#4a9ef0" stroke-width="1.0"/>
<path d="M62.2,536.5 C62.7,536 64,534.8 65,533.5 C66,532.2 67,530.2 68,528.5 C69,526.8 70,525 71,523.5 C72,522 73.1,519.9 73.9,519.4 C74.7,518.9 75.2,519.3 76,520.5 C76.8,521.7 77.8,524.3 78.5,526.5 C79.2,528.7 79.9,531.8 80.5,533.5 C81.1,535.2 82,536 82.3,536.5 L82.3,536.5 L62.2,536.5Z" fill="#d5e7fa" fill-opacity="0.85"/>
<line x1="38.6" y1="536.5" x2="96.7" y2="536.5" stroke="#4a9ef0" stroke-width="0.8"/>
<path d="M62.2,536.5 C62.7,536 64,534.8 65,533.5 C66,532.2 67,530.2 68,528.5 C69,526.8 70,525 71,523.5 C72,522 73.1,519.9 73.9,519.4 C74.7,518.9 75.2,519.3 76,520.5 C76.8,521.7 77.8,524.3 78.5,526.5 C79.2,528.7 79.9,531.8 80.5,533.5 C81.1,535.2 82,536 82.3,536.5" fill="none" stroke="#4a9ef0" stroke-width="1.0"/>
<text x="35.8" y="493.4" font-size="7.3" text-anchor="end" dominant-baseline="central" fill="#111">Medium</text>
<text x="35.8" y="503" font-size="7.3" text-anchor="end" dominant-baseline="central" fill="#111">IL-12</text>
<text x="35.8" y="512.6" font-size="7.3" text-anchor="end" dominant-baseline="central" fill="#111">IL-2</text>
<text x="35.8" y="522.2" font-size="7.3" text-anchor="end" dominant-baseline="central" fill="#111">IL-18</text>
<text x="35.8" y="531.8" font-size="7.3" text-anchor="end" dominant-baseline="central" fill="#111">IL-12+IL-18</text>
<line x1="51.4" y1="536.7" x2="51.4" y2="537.9" stroke="#777" stroke-width="0.4"/>
<line x1="61.3" y1="536.7" x2="61.3" y2="537.9" stroke="#777" stroke-width="0.4"/>
<line x1="69.4" y1="536.7" x2="69.4" y2="537.9" stroke="#777" stroke-width="0.4"/>
<line x1="88.6" y1="536.7" x2="88.6" y2="537.9" stroke="#777" stroke-width="0.4"/>
<circle cx="60.7" cy="537.2" r="0.7" fill="#222"/>
<text x="72" y="484.1" font-size="6.6" dominant-baseline="central" fill="#4a9ef0">NKG2C<tspan dy="-1.8" font-size="4">-</tspan></text>
<rect x="38.6" y="549.6" width="58.1" height="57.2" fill="#fff" stroke="#d0d0d0" stroke-width="0.6"/>
<path d="M61.3,569.3 C61.8,568.8 63.2,568 64,566.3 C64.8,564.6 65.6,561.1 66.3,559.3 C67,557.5 67.7,555.4 68.3,555.4 C68.9,555.4 69.4,557.5 70,559.3 C70.6,561.1 71.3,564.6 72,566.3 C72.7,568 73.7,568.8 74,569.3 L74,569.3 L61.3,569.3Z" fill="#c9c8f5" fill-opacity="0.85"/>
<line x1="38.6" y1="569.3" x2="96.7" y2="569.3" stroke="#2424e4" stroke-width="0.8"/>
<path d="M61.3,569.3 C61.8,568.8 63.2,568 64,566.3 C64.8,564.6 65.6,561.1 66.3,559.3 C67,557.5 67.7,555.4 68.3,555.4 C68.9,555.4 69.4,557.5 70,559.3 C70.6,561.1 71.3,564.6 72,566.3 C72.7,568 73.7,568.8 74,569.3" fill="none" stroke="#2424e4" stroke-width="1.0"/>
<path d="M70.8,578.5 C71.1,577.5 71.9,575.1 72.5,572.5 C73.1,569.9 73.8,564.1 74.5,563.1 C75.2,562.1 75.8,564.8 76.5,566.5 C77.2,568.2 77.8,571.7 78.5,573.5 C79.2,575.3 80,576.7 80.5,577.5 C81,578.3 81.6,578.3 81.8,578.5 L81.8,578.5 L70.8,578.5Z" fill="#c9c8f5" fill-opacity="0.85"/>
<line x1="38.6" y1="578.5" x2="96.7" y2="578.5" stroke="#2424e4" stroke-width="0.8"/>
<path d="M70.8,578.5 C71.1,577.5 71.9,575.1 72.5,572.5 C73.1,569.9 73.8,564.1 74.5,563.1 C75.2,562.1 75.8,564.8 76.5,566.5 C77.2,568.2 77.8,571.7 78.5,573.5 C79.2,575.3 80,576.7 80.5,577.5 C81,578.3 81.6,578.3 81.8,578.5" fill="none" stroke="#2424e4" stroke-width="1.0"/>
<path d="M59.9,588 C60.3,587.5 61.6,586.7 62.5,585 C63.4,583.3 64.2,579.9 65,578 C65.8,576.1 66.7,573.7 67.4,573.4 C68.2,573.1 68.8,574.2 69.5,576 C70.2,577.8 70.9,582 71.5,584 C72.1,586 72.8,587.3 73,588 L73,588 L59.9,588Z" fill="#c9c8f5" fill-opacity="0.85"/>
<line x1="38.6" y1="588" x2="96.7" y2="588" stroke="#2424e4" stroke-width="0.8"/>
<path d="M59.9,588 C60.3,587.5 61.6,586.7 62.5,585 C63.4,583.3 64.2,579.9 65,578 C65.8,576.1 66.7,573.7 67.4,573.4 C68.2,573.1 68.8,574.2 69.5,576 C70.2,577.8 70.9,582 71.5,584 C72.1,586 72.8,587.3 73,588" fill="none" stroke="#2424e4" stroke-width="1.0"/>
<path d="M60.6,597.5 C61,597 62.2,596.2 63,594.5 C63.8,592.8 64.7,589.5 65.5,587.5 C66.3,585.5 67.2,582.7 67.9,582.4 C68.7,582.1 69.3,583.8 70,585.5 C70.7,587.2 71.3,590.5 71.8,592.5 C72.3,594.5 72.8,596.7 73,597.5 L73,597.5 L60.6,597.5Z" fill="#c9c8f5" fill-opacity="0.85"/>
<line x1="38.6" y1="597.5" x2="96.7" y2="597.5" stroke="#2424e4" stroke-width="0.8"/>
<path d="M60.6,597.5 C61,597 62.2,596.2 63,594.5 C63.8,592.8 64.7,589.5 65.5,587.5 C66.3,585.5 67.2,582.7 67.9,582.4 C68.7,582.1 69.3,583.8 70,585.5 C70.7,587.2 71.3,590.5 71.8,592.5 C72.3,594.5 72.8,596.7 73,597.5" fill="none" stroke="#2424e4" stroke-width="1.0"/>
<path d="M64.2,606.6 C64.7,606.1 66,604.9 67,603.6 C68,602.3 69.1,600.1 70,598.6 C70.9,597.1 71.8,595.6 72.5,594.6 C73.2,593.6 73.8,592.5 74.5,592.5 C75.2,592.5 75.8,593.2 76.5,594.6 C77.2,596 78.2,598.9 79,600.6 C79.8,602.4 80.7,604.1 81.5,605.1 C82.3,606.1 83.5,606.4 83.9,606.6 L83.9,606.6 L64.2,606.6Z" fill="#c9c8f5" fill-opacity="0.85"/>
<line x1="38.6" y1="606.6" x2="96.7" y2="606.6" stroke="#2424e4" stroke-width="0.8"/>
<path d="M64.2,606.6 C64.7,606.1 66,604.9 67,603.6 C68,602.3 69.1,600.1 70,598.6 C70.9,597.1 71.8,595.6 72.5,594.6 C73.2,593.6 73.8,592.5 74.5,592.5 C75.2,592.5 75.8,593.2 76.5,594.6 C77.2,596 78.2,598.9 79,600.6 C79.8,602.4 80.7,604.1 81.5,605.1 C82.3,606.1 83.5,606.4 83.9,606.6" fill="none" stroke="#2424e4" stroke-width="1.0"/>
<text x="35.8" y="563.5" font-size="7.3" text-anchor="end" dominant-baseline="central" fill="#111">Medium</text>
<text x="35.8" y="573.1" font-size="7.3" text-anchor="end" dominant-baseline="central" fill="#111">IL-12</text>
<text x="35.8" y="582.7" font-size="7.3" text-anchor="end" dominant-baseline="central" fill="#111">IL-2</text>
<text x="35.8" y="592.3" font-size="7.3" text-anchor="end" dominant-baseline="central" fill="#111">IL-18</text>
<text x="35.8" y="601.9" font-size="7.3" text-anchor="end" dominant-baseline="central" fill="#111">IL-12+IL-18</text>
<line x1="51.4" y1="606.8" x2="51.4" y2="608" stroke="#777" stroke-width="0.4"/>
<line x1="61.3" y1="606.8" x2="61.3" y2="608" stroke="#777" stroke-width="0.4"/>
<line x1="69.4" y1="606.8" x2="69.4" y2="608" stroke="#777" stroke-width="0.4"/>
<line x1="88.6" y1="606.8" x2="88.6" y2="608" stroke="#777" stroke-width="0.4"/>
<circle cx="60.7" cy="607.3" r="0.7" fill="#222"/>
<text x="70.5" y="554.2" font-size="6.6" dominant-baseline="central" fill="#2424e4">NKG2C<tspan dy="-1.8" font-size="4">+</tspan></text>
<rect x="267.5" y="479.5" width="57.2" height="57.2" fill="#fff" stroke="#d0d0d0" stroke-width="0.6"/>
<path d="M283.6,499.2 C284,498.7 285.3,497.9 286,496.2 C286.7,494.5 287.3,491.6 288,489.2 C288.7,486.8 289.4,482.4 290,482.1 C290.6,481.8 291.2,485.2 291.8,487.2 C292.4,489.2 292.8,492.4 293.5,494.2 C294.2,495.9 294.9,497 296,497.7 C297.1,498.4 297.8,498.3 300,498.6 C302.2,498.8 307.5,499.1 309,499.2 L309,499.2 L283.6,499.2Z" fill="#d5e7fa" fill-opacity="0.85"/>
<line x1="267.5" y1="499.2" x2="324.7" y2="499.2" stroke="#4a9ef0" stroke-width="0.8"/>
<path d="M283.6,499.2 C284,498.7 285.3,497.9 286,496.2 C286.7,494.5 287.3,491.6 288,489.2 C288.7,486.8 289.4,482.4 290,482.1 C290.6,481.8 291.2,485.2 291.8,487.2 C292.4,489.2 292.8,492.4 293.5,494.2 C294.2,495.9 294.9,497 296,497.7 C297.1,498.4 297.8,498.3 300,498.6 C302.2,498.8 307.5,499.1 309,499.2" fill="none" stroke="#4a9ef0" stroke-width="1.0"/>
<path d="M284.1,508.4 C284.5,507.9 285.7,507.1 286.5,505.4 C287.3,503.7 288.1,500.8 288.8,498.4 C289.5,496 290.2,491.8 290.9,491.3 C291.6,490.8 292.2,493.3 293,495.4 C293.8,497.5 294.8,502.1 295.8,503.9 C296.8,505.7 297.8,505.8 299,506.4 C300.2,507 301.8,507.3 303,507.6 C304.2,507.9 305.5,508.3 306,508.4 L306,508.4 L284.1,508.4Z" fill="#d5e7fa" fill-opacity="0.85"/>
<line x1="267.5" y1="508.4" x2="324.7" y2="508.4" stroke="#4a9ef0" stroke-width="0.8"/>
<path d="M284.1,508.4 C284.5,507.9 285.7,507.1 286.5,505.4 C287.3,503.7 288.1,500.8 288.8,498.4 C289.5,496 290.2,491.8 290.9,491.3 C291.6,490.8 292.2,493.3 293,495.4 C293.8,497.5 294.8,502.1 295.8,503.9 C296.8,505.7 297.8,505.8 299,506.4 C300.2,507 301.8,507.3 303,507.6 C304.2,507.9 305.5,508.3 306,508.4" fill="none" stroke="#4a9ef0" stroke-width="1.0"/>
<path d="M284.1,517.9 C284.5,517.3 285.7,516.1 286.5,514.4 C287.3,512.7 288.2,510.2 289,507.9 C289.8,505.6 290.6,501.4 291.3,500.7 C292.1,500 292.7,502.5 293.5,503.9 C294.3,505.3 295,507.3 296,508.9 C297,510.5 298.3,512.1 299.5,513.3 C300.7,514.5 301.6,515.1 303,515.9 C304.4,516.7 307.2,517.6 308,517.9 L308,517.9 L284.1,517.9Z" fill="#d5e7fa" fill-opacity="0.85"/>
<line x1="267.5" y1="517.9" x2="324.7" y2="517.9" stroke="#4a9ef0" stroke-width="0.8"/>
<path d="M284.1,517.9 C284.5,517.3 285.7,516.1 286.5,514.4 C287.3,512.7 288.2,510.2 289,507.9 C289.8,505.6 290.6,501.4 291.3,500.7 C292.1,500 292.7,502.5 293.5,503.9 C294.3,505.3 295,507.3 296,508.9 C297,510.5 298.3,512.1 299.5,513.3 C300.7,514.5 301.6,515.1 303,515.9 C304.4,516.7 307.2,517.6 308,517.9" fill="none" stroke="#4a9ef0" stroke-width="1.0"/>
<path d="M284.1,527.4 C284.5,526.7 285.6,525.2 286.5,523.4 C287.4,521.6 288.3,518.6 289.2,516.4 C290.1,514.2 290.8,510.3 291.6,510.1 C292.4,509.9 293,513.3 293.8,515.4 C294.6,517.5 295.6,521 296.7,522.9 C297.8,524.8 299.5,525.9 300.4,526.7 C301.3,527.4 301.7,527.3 302,527.4 L302,527.4 L284.1,527.4Z" fill="#d5e7fa" fill-opacity="0.85"/>
<line x1="267.5" y1="527.4" x2="324.7" y2="527.4" stroke="#4a9ef0" stroke-width="0.8"/>
<path d="M284.1,527.4 C284.5,526.7 285.6,525.2 286.5,523.4 C287.4,521.6 288.3,518.6 289.2,516.4 C290.1,514.2 290.8,510.3 291.6,510.1 C292.4,509.9 293,513.3 293.8,515.4 C294.6,517.5 295.6,521 296.7,522.9 C297.8,524.8 299.5,525.9 300.4,526.7 C301.3,527.4 301.7,527.3 302,527.4" fill="none" stroke="#4a9ef0" stroke-width="1.0"/>
<path d="M286.4,536.5 C287.2,536 289.4,534.8 291,533.5 C292.6,532.2 294.5,530.3 296,528.5 C297.5,526.7 298.8,524 300,522.5 C301.2,521 302.3,520.1 303.3,519.8 C304.3,519.5 305.1,519.5 306,520.5 C306.9,521.5 307.9,523.5 309,525.5 C310.1,527.5 311.4,530.7 312.5,532.5 C313.6,534.3 314.9,535.8 315.4,536.5 L315.4,536.5 L286.4,536.5Z" fill="#d5e7fa" fill-opacity="0.85"/>
<line x1="267.5" y1="536.5" x2="324.7" y2="536.5" stroke="#4a9ef0" stroke-width="0.8"/>
<path d="M286.4,536.5 C287.2,536 289.4,534.8 291,533.5 C292.6,532.2 294.5,530.3 296,528.5 C297.5,526.7 298.8,524 300,522.5 C301.2,521 302.3,520.1 303.3,519.8 C304.3,519.5 305.1,519.5 306,520.5 C306.9,521.5 307.9,523.5 309,525.5 C310.1,527.5 311.4,530.7 312.5,532.5 C313.6,534.3 314.9,535.8 315.4,536.5" fill="none" stroke="#4a9ef0" stroke-width="1.0"/>
<text x="264.5" y="493.4" font-size="7.3" text-anchor="end" dominant-baseline="central" fill="#111">Medium</text>
<text x="264.5" y="503" font-size="7.3" text-anchor="end" dominant-baseline="central" fill="#111">IL-12</text>
<text x="264.5" y="512.6" font-size="7.3" text-anchor="end" dominant-baseline="central" fill="#111">IL-2</text>
<text x="264.5" y="522.2" font-size="7.3" text-anchor="end" dominant-baseline="central" fill="#111">IL-18</text>
<text x="264.5" y="531.8" font-size="7.3" text-anchor="end" dominant-baseline="central" fill="#111">IL-12+IL-18</text>
<line x1="280.1" y1="536.7" x2="280.1" y2="537.9" stroke="#777" stroke-width="0.4"/>
<line x1="289.8" y1="536.7" x2="289.8" y2="537.9" stroke="#777" stroke-width="0.4"/>
<line x1="297.8" y1="536.7" x2="297.8" y2="537.9" stroke="#777" stroke-width="0.4"/>
<line x1="316.7" y1="536.7" x2="316.7" y2="537.9" stroke="#777" stroke-width="0.4"/>
<circle cx="289.2" cy="537.2" r="0.7" fill="#222"/>
<text x="296" y="484.1" font-size="6.6" dominant-baseline="central" fill="#4a9ef0">NKG2C<tspan dy="-1.8" font-size="4">-</tspan></text>
<text x="298" y="484.8" font-size="6.6" dominant-baseline="central" fill="#4a9ef0" opacity="0.7">NKG2C</text>
<rect x="267.5" y="549.6" width="57.2" height="57.2" fill="#fff" stroke="#d0d0d0" stroke-width="0.6"/>
<path d="M283.6,569.3 C284.1,568.8 285.6,568 286.5,566.3 C287.4,564.6 288.2,561.2 289,559.3 C289.8,557.4 290.4,555 291.1,555 C291.8,555 292.4,557.7 293,559.3 C293.6,560.9 294.1,563.6 294.8,564.8 C295.5,566.1 296.4,566.4 297,566.8 C297.6,567.3 297.6,567.1 298.6,567.5 C299.7,567.9 302.5,569 303.3,569.3 L303.3,569.3 L283.6,569.3Z" fill="#c9c8f5" fill-opacity="0.85"/>
<line x1="267.5" y1="569.3" x2="324.7" y2="569.3" stroke="#2424e4" stroke-width="0.8"/>
<path d="M283.6,569.3 C284.1,568.8 285.6,568 286.5,566.3 C287.4,564.6 288.2,561.2 289,559.3 C289.8,557.4 290.4,555 291.1,555 C291.8,555 292.4,557.7 293,559.3 C293.6,560.9 294.1,563.6 294.8,564.8 C295.5,566.1 296.4,566.4 297,566.8 C297.6,567.3 297.6,567.1 298.6,567.5 C299.7,567.9 302.5,569 303.3,569.3" fill="none" stroke="#2424e4" stroke-width="1.0"/>
<path d="M285.5,578.5 C285.9,577.8 287.2,576.3 288,574.5 C288.8,572.7 289.3,569.3 290,567.5 C290.7,565.7 291.2,563.6 292,563.8 C292.8,564 293.6,567 294.5,568.5 C295.4,570 296.4,572 297.6,573.1 C298.9,574.2 300.6,574.6 302,575 C303.4,575.4 304.9,575.1 306,575.4 C307.1,575.6 307.7,576 308.5,576.5 C309.3,577 310.3,578.2 310.7,578.5 L310.7,578.5 L285.5,578.5Z" fill="#c9c8f5" fill-opacity="0.85"/>
<line x1="267.5" y1="578.5" x2="324.7" y2="578.5" stroke="#2424e4" stroke-width="0.8"/>
<path d="M285.5,578.5 C285.9,577.8 287.2,576.3 288,574.5 C288.8,572.7 289.3,569.3 290,567.5 C290.7,565.7 291.2,563.6 292,563.8 C292.8,564 293.6,567 294.5,568.5 C295.4,570 296.4,572 297.6,573.1 C298.9,574.2 300.6,574.6 302,575 C303.4,575.4 304.9,575.1 306,575.4 C307.1,575.6 307.7,576 308.5,576.5 C309.3,577 310.3,578.2 310.7,578.5" fill="none" stroke="#2424e4" stroke-width="1.0"/>
<path d="M285,588 C285.4,587.3 286.8,585.7 287.5,584 C288.2,582.3 288.9,579.4 289.5,578 C290.1,576.6 290.4,575.6 291.1,575.4 C291.9,575.1 293.1,576.5 294,576.5 C294.9,576.5 295.9,575.1 296.7,575.7 C297.4,576.3 297.8,579 298.5,580 C299.2,581 300.1,581.5 301,582 C301.9,582.5 303.1,582.3 304.2,582.9 C305.3,583.5 306.4,584.6 307.5,585.5 C308.6,586.4 310.2,587.6 310.7,588 L310.7,588 L285,588Z" fill="#c9c8f5" fill-opacity="0.85"/>
<line x1="267.5" y1="588" x2="324.7" y2="588" stroke="#2424e4" stroke-width="0.8"/>
<path d="M285,588 C285.4,587.3 286.8,585.7 287.5,584 C288.2,582.3 288.9,579.4 289.5,578 C290.1,576.6 290.4,575.6 291.1,575.4 C291.9,575.1 293.1,576.5 294,576.5 C294.9,576.5 295.9,575.1 296.7,575.7 C297.4,576.3 297.8,579 298.5,580 C299.2,581 300.1,581.5 301,582 C301.9,582.5 303.1,582.3 304.2,582.9 C305.3,583.5 306.4,584.6 307.5,585.5 C308.6,586.4 310.2,587.6 310.7,588" fill="none" stroke="#2424e4" stroke-width="1.0"/>
<path d="M286,597.5 C286.4,596.7 287.8,594.3 288.5,592.5 C289.2,590.7 289.9,588 290.5,586.5 C291.1,585 291.4,583.6 292,583.7 C292.6,583.8 293.4,586.2 294,587 C294.6,587.8 295.2,587.6 295.8,588.3 C296.4,589 296.9,590.2 297.5,591 C298.1,591.8 298.6,592.2 299.5,593 C300.4,593.8 301.9,594.8 303,595.5 C304.1,596.2 305.5,597.2 306,597.5 L306,597.5 L286,597.5Z" fill="#c9c8f5" fill-opacity="0.85"/>
<line x1="267.5" y1="597.5" x2="324.7" y2="597.5" stroke="#2424e4" stroke-width="0.8"/>
<path d="M286,597.5 C286.4,596.7 287.8,594.3 288.5,592.5 C289.2,590.7 289.9,588 290.5,586.5 C291.1,585 291.4,583.6 292,583.7 C292.6,583.8 293.4,586.2 294,587 C294.6,587.8 295.2,587.6 295.8,588.3 C296.4,589 296.9,590.2 297.5,591 C298.1,591.8 298.6,592.2 299.5,593 C300.4,593.8 301.9,594.8 303,595.5 C304.1,596.2 305.5,597.2 306,597.5" fill="none" stroke="#2424e4" stroke-width="1.0"/>
<path d="M290.2,606.6 C290.8,606.3 292.9,605.3 294,604.6 C295.1,603.9 296.1,603.2 297,602.6 C297.9,602 298.7,601.7 299.5,601.1 C300.3,600.5 301.1,599.8 302,599.1 C302.9,598.4 304,597.6 305,597.1 C306,596.6 307,595.9 307.9,596 C308.8,596.1 309.6,596.7 310.5,597.6 C311.4,598.5 312.2,600.4 313,601.6 C313.8,602.8 314.6,603.8 315.5,604.6 C316.4,605.4 317.8,606.3 318.2,606.6 L318.2,606.6 L290.2,606.6Z" fill="#c9c8f5" fill-opacity="0.85"/>
<line x1="267.5" y1="606.6" x2="324.7" y2="606.6" stroke="#2424e4" stroke-width="0.8"/>
<path d="M290.2,606.6 C290.8,606.3 292.9,605.3 294,604.6 C295.1,603.9 296.1,603.2 297,602.6 C297.9,602 298.7,601.7 299.5,601.1 C300.3,600.5 301.1,599.8 302,599.1 C302.9,598.4 304,597.6 305,597.1 C306,596.6 307,595.9 307.9,596 C308.8,596.1 309.6,596.7 310.5,597.6 C311.4,598.5 312.2,600.4 313,601.6 C313.8,602.8 314.6,603.8 315.5,604.6 C316.4,605.4 317.8,606.3 318.2,606.6" fill="none" stroke="#2424e4" stroke-width="1.0"/>
<text x="264.5" y="563.5" font-size="7.3" text-anchor="end" dominant-baseline="central" fill="#111">Medium</text>
<text x="264.5" y="573.1" font-size="7.3" text-anchor="end" dominant-baseline="central" fill="#111">IL-12</text>
<text x="264.5" y="582.7" font-size="7.3" text-anchor="end" dominant-baseline="central" fill="#111">IL-2</text>
<text x="264.5" y="592.3" font-size="7.3" text-anchor="end" dominant-baseline="central" fill="#111">IL-18</text>
<text x="264.5" y="601.9" font-size="7.3" text-anchor="end" dominant-baseline="central" fill="#111">IL-12+IL-18</text>
<line x1="280.1" y1="606.8" x2="280.1" y2="608" stroke="#777" stroke-width="0.4"/>
<line x1="289.8" y1="606.8" x2="289.8" y2="608" stroke="#777" stroke-width="0.4"/>
<line x1="297.8" y1="606.8" x2="297.8" y2="608" stroke="#777" stroke-width="0.4"/>
<line x1="316.7" y1="606.8" x2="316.7" y2="608" stroke="#777" stroke-width="0.4"/>
<circle cx="289.2" cy="607.3" r="0.7" fill="#222"/>
<text x="296.5" y="554.2" font-size="6.6" dominant-baseline="central" fill="#2424e4">NKG2C<tspan dy="-1.8" font-size="4">+</tspan></text>
<rect x="503.8" y="479.2" width="56.9" height="57.2" fill="#fff" stroke="#d0d0d0" stroke-width="0.6"/>
<path d="M521.3,498.9 C521.7,497.9 522.7,495.8 523.5,492.9 C524.3,490 525.4,482.3 526.2,481.6 C527,480.9 527.5,486.9 528.3,488.9 C529.1,490.9 530,492.2 531,493.5 C532,494.8 533,495.5 534,496.4 C535,497.3 536.6,498.5 537.1,498.9 L537.1,498.9 L521.3,498.9Z" fill="#d5e7fa" fill-opacity="0.85"/>
<line x1="503.8" y1="498.9" x2="560.7" y2="498.9" stroke="#4a9ef0" stroke-width="0.8"/>
<path d="M521.3,498.9 C521.7,497.9 522.7,495.8 523.5,492.9 C524.3,490 525.4,482.3 526.2,481.6 C527,480.9 527.5,486.9 528.3,488.9 C529.1,490.9 530,492.2 531,493.5 C532,494.8 533,495.5 534,496.4 C535,497.3 536.6,498.5 537.1,498.9" fill="none" stroke="#4a9ef0" stroke-width="1.0"/>
<path d="M521.3,508.1 C521.8,507.6 523,506.8 524,505.1 C525,503.4 526,500.3 527,498.1 C528,495.8 529.2,492.1 530.1,491.6 C531,491.1 531.7,494 532.5,495.1 C533.3,496.2 534,496.6 535,498.1 C536,499.6 537.3,502.4 538.5,504.1 C539.7,505.8 541.7,507.4 542.3,508.1 L542.3,508.1 L521.3,508.1Z" fill="#d5e7fa" fill-opacity="0.85"/>
<line x1="503.8" y1="508.1" x2="560.7" y2="508.1" stroke="#4a9ef0" stroke-width="0.8"/>
<path d="M521.3,508.1 C521.8,507.6 523,506.8 524,505.1 C525,503.4 526,500.3 527,498.1 C528,495.8 529.2,492.1 530.1,491.6 C531,491.1 531.7,494 532.5,495.1 C533.3,496.2 534,496.6 535,498.1 C536,499.6 537.3,502.4 538.5,504.1 C539.7,505.8 541.7,507.4 542.3,508.1" fill="none" stroke="#4a9ef0" stroke-width="1.0"/>
<path d="M521.3,517.6 C521.8,517.1 523,516.3 524,514.6 C525,512.9 526.3,509.9 527.5,507.6 C528.7,505.3 529.9,501.6 531,500.9 C532.1,500.2 532.9,502.2 534,503.6 C535.1,505.1 536.3,507.7 537.5,509.6 C538.7,511.5 539.9,513.8 541,515.1 C542.1,516.4 543.5,517.2 544,517.6 L544,517.6 L521.3,517.6Z" fill="#d5e7fa" fill-opacity="0.85"/>
<line x1="503.8" y1="517.6" x2="560.7" y2="517.6" stroke="#4a9ef0" stroke-width="0.8"/>
<path d="M521.3,517.6 C521.8,517.1 523,516.3 524,514.6 C525,512.9 526.3,509.9 527.5,507.6 C528.7,505.3 529.9,501.6 531,500.9 C532.1,500.2 532.9,502.2 534,503.6 C535.1,505.1 536.3,507.7 537.5,509.6 C538.7,511.5 539.9,513.8 541,515.1 C542.1,516.4 543.5,517.2 544,517.6" fill="none" stroke="#4a9ef0" stroke-width="1.0"/>
<path d="M522.2,527.1 C522.7,526.6 523.9,525.8 525,524.1 C526.1,522.4 527.7,519.4 529,517.1 C530.3,514.8 531.5,510.6 532.7,510.1 C533.9,509.6 534.9,512.4 536,514.1 C537.1,515.8 538.3,518.3 539.5,520.1 C540.7,521.9 542,523.9 543,525.1 C544,526.3 545.3,526.8 545.8,527.1 L545.8,527.1 L522.2,527.1Z" fill="#d5e7fa" fill-opacity="0.85"/>
<line x1="503.8" y1="527.1" x2="560.7" y2="527.1" stroke="#4a9ef0" stroke-width="0.8"/>
<path d="M522.2,527.1 C522.7,526.6 523.9,525.8 525,524.1 C526.1,522.4 527.7,519.4 529,517.1 C530.3,514.8 531.5,510.6 532.7,510.1 C533.9,509.6 534.9,512.4 536,514.1 C537.1,515.8 538.3,518.3 539.5,520.1 C540.7,521.9 542,523.9 543,525.1 C544,526.3 545.3,526.8 545.8,527.1" fill="none" stroke="#4a9ef0" stroke-width="1.0"/>
<path d="M521.3,536.2 C521.8,535.7 523.3,534.9 524.5,533.2 C525.7,531.5 527.2,528.5 528.5,526.2 C529.8,523.9 531,519.9 532.2,519.4 C533.5,518.9 534.7,521.6 536,523.2 C537.3,524.8 538.7,527.4 540,529.2 C541.3,531 542.7,533 544,534.2 C545.3,535.4 547,535.9 547.6,536.2 L547.6,536.2 L521.3,536.2Z" fill="#d5e7fa" fill-opacity="0.85"/>
<line x1="503.8" y1="536.2" x2="560.7" y2="536.2" stroke="#4a9ef0" stroke-width="0.8"/>
<path d="M521.3,536.2 C521.8,535.7 523.3,534.9 524.5,533.2 C525.7,531.5 527.2,528.5 528.5,526.2 C529.8,523.9 531,519.9 532.2,519.4 C533.5,518.9 534.7,521.6 536,523.2 C537.3,524.8 538.7,527.4 540,529.2 C541.3,531 542.7,533 544,534.2 C545.3,535.4 547,535.9 547.6,536.2" fill="none" stroke="#4a9ef0" stroke-width="1.0"/>
<text x="501.7" y="493.1" font-size="7.3" text-anchor="end" dominant-baseline="central" fill="#111">Medium</text>
<text x="501.7" y="502.7" font-size="7.3" text-anchor="end" dominant-baseline="central" fill="#111">IL-12</text>
<text x="501.7" y="512.3" font-size="7.3" text-anchor="end" dominant-baseline="central" fill="#111">IL-2</text>
<text x="501.7" y="521.9" font-size="7.3" text-anchor="end" dominant-baseline="central" fill="#111">IL-18</text>
<text x="501.7" y="531.5" font-size="7.3" text-anchor="end" dominant-baseline="central" fill="#111">IL-12+IL-18</text>
<line x1="516.3" y1="536.4" x2="516.3" y2="537.6" stroke="#777" stroke-width="0.4"/>
<line x1="526" y1="536.4" x2="526" y2="537.6" stroke="#777" stroke-width="0.4"/>
<line x1="534" y1="536.4" x2="534" y2="537.6" stroke="#777" stroke-width="0.4"/>
<line x1="552.7" y1="536.4" x2="552.7" y2="537.6" stroke="#777" stroke-width="0.4"/>
<circle cx="525.4" cy="536.9" r="0.7" fill="#222"/>
<text x="534.5" y="483.8" font-size="6.6" dominant-baseline="central" fill="#4a9ef0">NKG2C<tspan dy="-1.8" font-size="4">-</tspan></text>
<rect x="503.8" y="549.4" width="56.9" height="57.2" fill="#fff" stroke="#d0d0d0" stroke-width="0.6"/>
<path d="M520.4,569.1 C520.8,568.3 522.2,565.9 523,564.1 C523.8,562.3 524.5,559.6 525,558.1 C525.5,556.6 525.7,555.1 526.2,555.1 C526.7,555.1 527.5,557.4 528,558.1 C528.5,558.8 529,558.6 529.5,559.1 C530,559.6 530.4,560.3 531,561.1 C531.6,561.9 532.2,563.1 533,564.1 C533.8,565.1 534.7,566.3 535.5,567.1 C536.3,567.9 537.6,568.8 538,569.1 L538,569.1 L520.4,569.1Z" fill="#c9c8f5" fill-opacity="0.85"/>
<line x1="503.8" y1="569.1" x2="560.7" y2="569.1" stroke="#2424e4" stroke-width="0.8"/>
<path d="M520.4,569.1 C520.8,568.3 522.2,565.9 523,564.1 C523.8,562.3 524.5,559.6 525,558.1 C525.5,556.6 525.7,555.1 526.2,555.1 C526.7,555.1 527.5,557.4 528,558.1 C528.5,558.8 529,558.6 529.5,559.1 C530,559.6 530.4,560.3 531,561.1 C531.6,561.9 532.2,563.1 533,564.1 C533.8,565.1 534.7,566.3 535.5,567.1 C536.3,567.9 537.6,568.8 538,569.1" fill="none" stroke="#2424e4" stroke-width="1.0"/>
<path d="M521.3,578.3 C521.8,577.6 523,576 524,574.3 C525,572.6 526.2,569.6 527,568.3 C527.8,567 528,567.2 528.5,566.3 C529,565.4 529.5,562.9 530.1,562.9 C530.7,562.9 531.4,565.4 532,566.3 C532.6,567.2 533.3,567.8 534,568.3 C534.7,568.8 535.3,568.6 536,569.3 C536.7,570 537.2,571.2 538,572.3 C538.8,573.4 540,574.8 541,575.8 C542,576.8 543.6,577.9 544.1,578.3 L544.1,578.3 L521.3,578.3Z" fill="#c9c8f5" fill-opacity="0.85"/>
<line x1="503.8" y1="578.3" x2="560.7" y2="578.3" stroke="#2424e4" stroke-width="0.8"/>
<path d="M521.3,578.3 C521.8,577.6 523,576 524,574.3 C525,572.6 526.2,569.6 527,568.3 C527.8,567 528,567.2 528.5,566.3 C529,565.4 529.5,562.9 530.1,562.9 C530.7,562.9 531.4,565.4 532,566.3 C532.6,567.2 533.3,567.8 534,568.3 C534.7,568.8 535.3,568.6 536,569.3 C536.7,570 537.2,571.2 538,572.3 C538.8,573.4 540,574.8 541,575.8 C542,576.8 543.6,577.9 544.1,578.3" fill="none" stroke="#2424e4" stroke-width="1.0"/>
<path d="M522.2,587.8 C522.7,587.1 524,585.5 525,583.8 C526,582.1 527,579.4 528,577.8 C529,576.2 530.1,574.5 531,574.3 C531.9,574.1 532.7,576 533.5,576.8 C534.3,577.5 535.1,578.1 536,578.8 C536.9,579.5 538,580.1 539,580.8 C540,581.5 541,582.1 542,582.8 C543,583.5 544,584.2 545,584.8 C546,585.4 547,585.8 548,586.3 C549,586.8 550.5,587.5 551,587.8 L551,587.8 L522.2,587.8Z" fill="#c9c8f5" fill-opacity="0.85"/>
<line x1="503.8" y1="587.8" x2="560.7" y2="587.8" stroke="#2424e4" stroke-width="0.8"/>
<path d="M522.2,587.8 C522.7,587.1 524,585.5 525,583.8 C526,582.1 527,579.4 528,577.8 C529,576.2 530.1,574.5 531,574.3 C531.9,574.1 532.7,576 533.5,576.8 C534.3,577.5 535.1,578.1 536,578.8 C536.9,579.5 538,580.1 539,580.8 C540,581.5 541,582.1 542,582.8 C543,583.5 544,584.2 545,584.8 C546,585.4 547,585.8 548,586.3 C549,586.8 550.5,587.5 551,587.8" fill="none" stroke="#2424e4" stroke-width="1.0"/>
<path d="M526.6,597.3 C527,596.5 528.2,594.3 529,592.3 C529.8,590.3 530.7,587 531.5,585.3 C532.3,583.6 532.9,582.4 533.6,582.2 C534.4,582 535.2,583.4 536,584.3 C536.8,585.1 537.7,586.1 538.5,587.3 C539.3,588.5 540.1,590 541,591.3 C541.9,592.5 542.9,593.8 544,594.8 C545.1,595.8 547,596.9 547.6,597.3 L547.6,597.3 L526.6,597.3Z" fill="#c9c8f5" fill-opacity="0.85"/>
<line x1="503.8" y1="597.3" x2="560.7" y2="597.3" stroke="#2424e4" stroke-width="0.8"/>
<path d="M526.6,597.3 C527,596.5 528.2,594.3 529,592.3 C529.8,590.3 530.7,587 531.5,585.3 C532.3,583.6 532.9,582.4 533.6,582.2 C534.4,582 535.2,583.4 536,584.3 C536.8,585.1 537.7,586.1 538.5,587.3 C539.3,588.5 540.1,590 541,591.3 C541.9,592.5 542.9,593.8 544,594.8 C545.1,595.8 547,596.9 547.6,597.3" fill="none" stroke="#2424e4" stroke-width="1.0"/>
<path d="M521.3,606.4 C521.8,605.9 523,604.7 524,603.4 C525,602.1 526.5,599.9 527.5,598.4 C528.5,596.9 529.3,595.6 530,594.4 C530.7,593.2 531.1,591.3 531.8,591 C532.5,590.7 533.2,592 534,592.4 C534.8,592.8 535.7,592.7 536.5,593.4 C537.3,594.1 538.1,595.2 539,596.4 C539.9,597.6 541,599.1 542,600.4 C543,601.6 544.1,602.9 545,603.9 C545.9,604.9 547.2,606 547.6,606.4 L547.6,606.4 L521.3,606.4Z" fill="#c9c8f5" fill-opacity="0.85"/>
<line x1="503.8" y1="606.4" x2="560.7" y2="606.4" stroke="#2424e4" stroke-width="0.8"/>
<path d="M521.3,606.4 C521.8,605.9 523,604.7 524,603.4 C525,602.1 526.5,599.9 527.5,598.4 C528.5,596.9 529.3,595.6 530,594.4 C530.7,593.2 531.1,591.3 531.8,591 C532.5,590.7 533.2,592 534,592.4 C534.8,592.8 535.7,592.7 536.5,593.4 C537.3,594.1 538.1,595.2 539,596.4 C539.9,597.6 541,599.1 542,600.4 C543,601.6 544.1,602.9 545,603.9 C545.9,604.9 547.2,606 547.6,606.4" fill="none" stroke="#2424e4" stroke-width="1.0"/>
<text x="501.7" y="563.3" font-size="7.3" text-anchor="end" dominant-baseline="central" fill="#111">Medium</text>
<text x="501.7" y="572.9" font-size="7.3" text-anchor="end" dominant-baseline="central" fill="#111">IL-12</text>
<text x="501.7" y="582.5" font-size="7.3" text-anchor="end" dominant-baseline="central" fill="#111">IL-2</text>
<text x="501.7" y="592.1" font-size="7.3" text-anchor="end" dominant-baseline="central" fill="#111">IL-18</text>
<text x="501.7" y="601.7" font-size="7.3" text-anchor="end" dominant-baseline="central" fill="#111">IL-12+IL-18</text>
<line x1="516.3" y1="606.6" x2="516.3" y2="607.8" stroke="#777" stroke-width="0.4"/>
<line x1="526" y1="606.6" x2="526" y2="607.8" stroke="#777" stroke-width="0.4"/>
<line x1="534" y1="606.6" x2="534" y2="607.8" stroke="#777" stroke-width="0.4"/>
<line x1="552.7" y1="606.6" x2="552.7" y2="607.8" stroke="#777" stroke-width="0.4"/>
<circle cx="525.4" cy="607.1" r="0.7" fill="#222"/>
<text x="533.6" y="554" font-size="6.6" dominant-baseline="central" fill="#2424e4">NKG2C<tspan dy="-1.8" font-size="4">+</tspan></text>
<line x1="122.9" y1="565.5" x2="124.4" y2="565.5" stroke="#222" stroke-width="0.5"/>
<text x="122.2" y="565.5" font-size="5.4" text-anchor="end" dominant-baseline="central" fill="#222" textLength="3.8" lengthAdjust="spacingAndGlyphs">0</text>
<line x1="122.9" y1="552.2" x2="124.4" y2="552.2" stroke="#222" stroke-width="0.5"/>
<text x="122.2" y="552.2" font-size="5.4" text-anchor="end" dominant-baseline="central" fill="#222" textLength="7.6" lengthAdjust="spacingAndGlyphs">20</text>
<line x1="122.9" y1="539" x2="124.4" y2="539" stroke="#222" stroke-width="0.5"/>
<text x="122.2" y="539" font-size="5.4" text-anchor="end" dominant-baseline="central" fill="#222" textLength="7.6" lengthAdjust="spacingAndGlyphs">40</text>
<line x1="122.9" y1="525.7" x2="124.4" y2="525.7" stroke="#222" stroke-width="0.5"/>
<text x="122.2" y="525.7" font-size="5.4" text-anchor="end" dominant-baseline="central" fill="#222" textLength="7.6" lengthAdjust="spacingAndGlyphs">60</text>
<line x1="122.9" y1="512.5" x2="124.4" y2="512.5" stroke="#222" stroke-width="0.5"/>
<text x="122.2" y="512.5" font-size="5.4" text-anchor="end" dominant-baseline="central" fill="#222" textLength="7.6" lengthAdjust="spacingAndGlyphs">80</text>
<line x1="122.9" y1="499.2" x2="124.4" y2="499.2" stroke="#222" stroke-width="0.5"/>
<text x="122.2" y="499.2" font-size="5.4" text-anchor="end" dominant-baseline="central" fill="#222" textLength="11.4" lengthAdjust="spacingAndGlyphs">100</text>
<line x1="171.5" y1="499.2" x2="171.5" y2="565.5" stroke="#c8c8c8" stroke-width="0.4" stroke-dasharray="1,1"/>
<rect x="126.1" y="564.2" width="6.1" height="1.3" fill="#4ea4f4" stroke="#222" stroke-width="0.45"/>
<line x1="129.2" y1="563.5" x2="129.2" y2="564.8" stroke="#888" stroke-width="0.45"/>
<line x1="128" y1="563.5" x2="130.4" y2="563.5" stroke="#888" stroke-width="0.45"/>
<line x1="128" y1="564.8" x2="130.4" y2="564.8" stroke="#888" stroke-width="0.45"/>
<circle cx="129.2" cy="564.2" r="1.1" fill="#000"/>
<line x1="129.2" y1="565.5" x2="129.2" y2="567" stroke="#222" stroke-width="0.5"/>
<rect x="134.6" y="535" width="6.1" height="30.5" fill="#4ea4f4" stroke="#222" stroke-width="0.45"/>
<line x1="137.7" y1="518.4" x2="137.7" y2="548.9" stroke="#888" stroke-width="0.45"/>
<line x1="136.5" y1="518.4" x2="138.9" y2="518.4" stroke="#888" stroke-width="0.45"/>
<line x1="136.5" y1="548.9" x2="138.9" y2="548.9" stroke="#888" stroke-width="0.45"/>
<circle cx="137.7" cy="518.4" r="1.1" fill="#000"/>
<circle cx="137.7" cy="537" r="1.1" fill="#000"/>
<circle cx="137.7" cy="548.9" r="1.1" fill="#000"/>
<line x1="137.7" y1="565.5" x2="137.7" y2="567" stroke="#222" stroke-width="0.5"/>
<rect x="142.8" y="564.2" width="6.1" height="1.3" fill="#4ea4f4" stroke="#222" stroke-width="0.45"/>
<line x1="145.8" y1="563.5" x2="145.8" y2="564.8" stroke="#888" stroke-width="0.45"/>
<line x1="144.6" y1="563.5" x2="147" y2="563.5" stroke="#888" stroke-width="0.45"/>
<line x1="144.6" y1="564.8" x2="147" y2="564.8" stroke="#888" stroke-width="0.45"/>
<circle cx="145.8" cy="564.2" r="1.1" fill="#000"/>
<line x1="145.8" y1="565.5" x2="145.8" y2="567" stroke="#222" stroke-width="0.5"/>
<rect x="151.6" y="562.8" width="6.1" height="2.7" fill="#4ea4f4" stroke="#222" stroke-width="0.45"/>
<line x1="154.7" y1="562.2" x2="154.7" y2="563.5" stroke="#888" stroke-width="0.45"/>
<line x1="153.5" y1="562.2" x2="155.9" y2="562.2" stroke="#888" stroke-width="0.45"/>
<line x1="153.5" y1="563.5" x2="155.9" y2="563.5" stroke="#888" stroke-width="0.45"/>
<circle cx="154.7" cy="562.8" r="1.1" fill="#000"/>
<circle cx="154.7" cy="562.2" r="1.1" fill="#000"/>
<line x1="154.7" y1="565.5" x2="154.7" y2="567" stroke="#222" stroke-width="0.5"/>
<rect x="160.2" y="533" width="6.1" height="32.5" fill="#4ea4f4" stroke="#222" stroke-width="0.45"/>
<line x1="163.3" y1="527" x2="163.3" y2="535" stroke="#888" stroke-width="0.45"/>
<line x1="162.1" y1="527" x2="164.5" y2="527" stroke="#888" stroke-width="0.45"/>
<line x1="162.1" y1="535" x2="164.5" y2="535" stroke="#888" stroke-width="0.45"/>
<circle cx="163.3" cy="527" r="1.1" fill="#000"/>
<circle cx="163.3" cy="530.4" r="1.1" fill="#000"/>
<circle cx="163.3" cy="534.3" r="1.1" fill="#000"/>
<line x1="163.3" y1="565.5" x2="163.3" y2="567" stroke="#222" stroke-width="0.5"/>
<text x="130.8" y="570.1" font-size="5.8" text-anchor="end" dominant-baseline="central" fill="#000" textLength="23.4" lengthAdjust="spacingAndGlyphs" transform="rotate(-45 130.8 570.1)">Medium</text>
<text x="139.3" y="570.1" font-size="5.8" text-anchor="end" dominant-baseline="central" fill="#000" textLength="17.5" lengthAdjust="spacingAndGlyphs" transform="rotate(-45 139.3 570.1)">IL-12</text>
<text x="147.4" y="570.1" font-size="5.8" text-anchor="end" dominant-baseline="central" fill="#000" textLength="13.2" lengthAdjust="spacingAndGlyphs" transform="rotate(-45 147.4 570.1)">IL-2</text>
<text x="156.3" y="570.1" font-size="5.8" text-anchor="end" dominant-baseline="central" fill="#000" textLength="17.5" lengthAdjust="spacingAndGlyphs" transform="rotate(-45 156.3 570.1)">IL-18</text>
<text x="164.9" y="570.1" font-size="5.8" text-anchor="end" dominant-baseline="central" fill="#000" textLength="30.2" lengthAdjust="spacingAndGlyphs" transform="rotate(-45 164.9 570.1)">IL-12+IL-18</text>
<rect x="176.3" y="562.8" width="6.1" height="2.7" fill="#4646ea" stroke="#222" stroke-width="0.45"/>
<line x1="179.4" y1="561.5" x2="179.4" y2="564.2" stroke="#888" stroke-width="0.45"/>
<line x1="178.2" y1="561.5" x2="180.6" y2="561.5" stroke="#888" stroke-width="0.45"/>
<line x1="178.2" y1="564.2" x2="180.6" y2="564.2" stroke="#888" stroke-width="0.45"/>
<circle cx="179.4" cy="562.2" r="1.1" fill="#000"/>
<circle cx="179.4" cy="563.5" r="1.1" fill="#000"/>
<line x1="179.4" y1="565.5" x2="179.4" y2="567" stroke="#222" stroke-width="0.5"/>
<rect x="184.9" y="539.6" width="6.1" height="25.9" fill="#4646ea" stroke="#222" stroke-width="0.45"/>
<line x1="188" y1="516.4" x2="188" y2="562.2" stroke="#888" stroke-width="0.45"/>
<line x1="186.8" y1="516.4" x2="189.2" y2="516.4" stroke="#888" stroke-width="0.45"/>
<line x1="186.8" y1="562.2" x2="189.2" y2="562.2" stroke="#888" stroke-width="0.45"/>
<circle cx="188" cy="517.1" r="1.1" fill="#000"/>
<circle cx="188" cy="539" r="1.1" fill="#000"/>
<circle cx="188" cy="562.2" r="1.1" fill="#000"/>
<line x1="188" y1="565.5" x2="188" y2="567" stroke="#222" stroke-width="0.5"/>
<rect x="193.6" y="564.2" width="6.1" height="1.3" fill="#4646ea" stroke="#222" stroke-width="0.45"/>
<line x1="196.7" y1="563.5" x2="196.7" y2="564.8" stroke="#888" stroke-width="0.45"/>
<line x1="195.5" y1="563.5" x2="197.9" y2="563.5" stroke="#888" stroke-width="0.45"/>
<line x1="195.5" y1="564.8" x2="197.9" y2="564.8" stroke="#888" stroke-width="0.45"/>
<circle cx="196.7" cy="563.5" r="1.1" fill="#000"/>
<circle cx="196.7" cy="564.8" r="1.1" fill="#000"/>
<line x1="196.7" y1="565.5" x2="196.7" y2="567" stroke="#222" stroke-width="0.5"/>
<rect x="202.2" y="562.2" width="6.1" height="3.3" fill="#4646ea" stroke="#222" stroke-width="0.45"/>
<line x1="205.3" y1="561.5" x2="205.3" y2="564.2" stroke="#888" stroke-width="0.45"/>
<line x1="204.1" y1="561.5" x2="206.5" y2="561.5" stroke="#888" stroke-width="0.45"/>
<line x1="204.1" y1="564.2" x2="206.5" y2="564.2" stroke="#888" stroke-width="0.45"/>
<circle cx="205.3" cy="561.5" r="1.1" fill="#000"/>
<circle cx="205.3" cy="563.5" r="1.1" fill="#000"/>
<line x1="205.3" y1="565.5" x2="205.3" y2="567" stroke="#222" stroke-width="0.5"/>
<rect x="210.4" y="535.9" width="6.1" height="29.6" fill="#4646ea" stroke="#222" stroke-width="0.45"/>
<line x1="213.5" y1="515.1" x2="213.5" y2="556.9" stroke="#888" stroke-width="0.45"/>
<line x1="212.3" y1="515.1" x2="214.7" y2="515.1" stroke="#888" stroke-width="0.45"/>
<line x1="212.3" y1="556.9" x2="214.7" y2="556.9" stroke="#888" stroke-width="0.45"/>
<circle cx="213.5" cy="521.7" r="1.1" fill="#000"/>
<circle cx="213.5" cy="526.4" r="1.1" fill="#000"/>
<circle cx="213.5" cy="560.2" r="1.1" fill="#000"/>
<line x1="213.5" y1="565.5" x2="213.5" y2="567" stroke="#222" stroke-width="0.5"/>
<text x="181" y="570.1" font-size="5.8" text-anchor="end" dominant-baseline="central" fill="#000" textLength="23.4" lengthAdjust="spacingAndGlyphs" transform="rotate(-45 181 570.1)">Medium</text>
<text x="189.6" y="570.1" font-size="5.8" text-anchor="end" dominant-baseline="central" fill="#000" textLength="17.5" lengthAdjust="spacingAndGlyphs" transform="rotate(-45 189.6 570.1)">IL-12</text>
<text x="198.3" y="570.1" font-size="5.8" text-anchor="end" dominant-baseline="central" fill="#000" textLength="13.2" lengthAdjust="spacingAndGlyphs" transform="rotate(-45 198.3 570.1)">IL-2</text>
<text x="206.9" y="570.1" font-size="5.8" text-anchor="end" dominant-baseline="central" fill="#000" textLength="17.5" lengthAdjust="spacingAndGlyphs" transform="rotate(-45 206.9 570.1)">IL-18</text>
<text x="215.1" y="570.1" font-size="5.8" text-anchor="end" dominant-baseline="central" fill="#000" textLength="30.2" lengthAdjust="spacingAndGlyphs" transform="rotate(-45 215.1 570.1)">IL-12+IL-18</text>
<line x1="124.4" y1="499.2" x2="124.4" y2="565.5" stroke="#222" stroke-width="0.7"/>
<line x1="124.4" y1="565.5" x2="218.7" y2="565.5" stroke="#222" stroke-width="0.7"/>
<text x="149.5" y="495.4" font-size="7.6" text-anchor="middle" dominant-baseline="central" fill="#111"><tspan textLength="26" lengthAdjust="spacingAndGlyphs">NKG2C</tspan><tspan dy="-2.2" font-size="4.5">-</tspan></text>
<text x="196.3" y="495.4" font-size="7.6" text-anchor="middle" dominant-baseline="central" fill="#111"><tspan textLength="26" lengthAdjust="spacingAndGlyphs">NKG2C</tspan><tspan dy="-2.2" font-size="4.5">+</tspan></text>
<text x="104.1" y="541" font-size="5.6" font-weight="bold" text-anchor="middle" dominant-baseline="central" fill="#111" textLength="49" lengthAdjust="spacingAndGlyphs" transform="rotate(-90 104.1 541)">% GP130⁺ NK cells</text>
<line x1="351.6" y1="565.5" x2="353.1" y2="565.5" stroke="#222" stroke-width="0.5"/>
<text x="350.9" y="565.5" font-size="5.4" text-anchor="end" dominant-baseline="central" fill="#222" textLength="3.8" lengthAdjust="spacingAndGlyphs">0</text>
<line x1="351.6" y1="552.2" x2="353.1" y2="552.2" stroke="#222" stroke-width="0.5"/>
<text x="350.9" y="552.2" font-size="5.4" text-anchor="end" dominant-baseline="central" fill="#222" textLength="7.6" lengthAdjust="spacingAndGlyphs">20</text>
<line x1="351.6" y1="539" x2="353.1" y2="539" stroke="#222" stroke-width="0.5"/>
<text x="350.9" y="539" font-size="5.4" text-anchor="end" dominant-baseline="central" fill="#222" textLength="7.6" lengthAdjust="spacingAndGlyphs">40</text>
<line x1="351.6" y1="525.7" x2="353.1" y2="525.7" stroke="#222" stroke-width="0.5"/>
<text x="350.9" y="525.7" font-size="5.4" text-anchor="end" dominant-baseline="central" fill="#222" textLength="7.6" lengthAdjust="spacingAndGlyphs">60</text>
<line x1="351.6" y1="512.5" x2="353.1" y2="512.5" stroke="#222" stroke-width="0.5"/>
<text x="350.9" y="512.5" font-size="5.4" text-anchor="end" dominant-baseline="central" fill="#222" textLength="7.6" lengthAdjust="spacingAndGlyphs">80</text>
<line x1="351.6" y1="499.2" x2="353.1" y2="499.2" stroke="#222" stroke-width="0.5"/>
<text x="350.9" y="499.2" font-size="5.4" text-anchor="end" dominant-baseline="central" fill="#222" textLength="11.4" lengthAdjust="spacingAndGlyphs">100</text>
<line x1="399" y1="499.2" x2="399" y2="565.5" stroke="#c8c8c8" stroke-width="0.4" stroke-dasharray="1,1"/>
<rect x="353.4" y="562.8" width="6.1" height="2.7" fill="#4ea4f4" stroke="#222" stroke-width="0.45"/>
<line x1="356.5" y1="561.5" x2="356.5" y2="564.2" stroke="#888" stroke-width="0.45"/>
<line x1="355.3" y1="561.5" x2="357.7" y2="561.5" stroke="#888" stroke-width="0.45"/>
<line x1="355.3" y1="564.2" x2="357.7" y2="564.2" stroke="#888" stroke-width="0.45"/>
<circle cx="356.5" cy="562.2" r="1.1" fill="#000"/>
<circle cx="356.5" cy="564.2" r="1.1" fill="#000"/>
<line x1="356.5" y1="565.5" x2="356.5" y2="567" stroke="#222" stroke-width="0.5"/>
<rect x="362.1" y="558.2" width="6.1" height="7.3" fill="#4ea4f4" stroke="#222" stroke-width="0.45"/>
<line x1="365.2" y1="550.9" x2="365.2" y2="565.5" stroke="#888" stroke-width="0.45"/>
<line x1="364" y1="550.9" x2="366.4" y2="550.9" stroke="#888" stroke-width="0.45"/>
<line x1="364" y1="565.5" x2="366.4" y2="565.5" stroke="#888" stroke-width="0.45"/>
<circle cx="365.2" cy="550.9" r="1.1" fill="#000"/>
<circle cx="365.2" cy="561.5" r="1.1" fill="#000"/>
<circle cx="365.2" cy="562.2" r="1.1" fill="#000"/>
<line x1="365.2" y1="565.5" x2="365.2" y2="567" stroke="#222" stroke-width="0.5"/>
<rect x="370.4" y="549.6" width="6.1" height="15.9" fill="#4ea4f4" stroke="#222" stroke-width="0.45"/>
<line x1="373.5" y1="541" x2="373.5" y2="558.2" stroke="#888" stroke-width="0.45"/>
<line x1="372.3" y1="541" x2="374.7" y2="541" stroke="#888" stroke-width="0.45"/>
<line x1="372.3" y1="558.2" x2="374.7" y2="558.2" stroke="#888" stroke-width="0.45"/>
<circle cx="373.5" cy="541" r="1.1" fill="#000"/>
<circle cx="373.5" cy="552.2" r="1.1" fill="#000"/>
<circle cx="373.5" cy="556.9" r="1.1" fill="#000"/>
<line x1="373.5" y1="565.5" x2="373.5" y2="567" stroke="#222" stroke-width="0.5"/>
<rect x="379.1" y="554.9" width="6.1" height="10.6" fill="#4ea4f4" stroke="#222" stroke-width="0.45"/>
<line x1="382.2" y1="546.9" x2="382.2" y2="562.8" stroke="#888" stroke-width="0.45"/>
<line x1="381" y1="546.9" x2="383.4" y2="546.9" stroke="#888" stroke-width="0.45"/>
<line x1="381" y1="562.8" x2="383.4" y2="562.8" stroke="#888" stroke-width="0.45"/>
<circle cx="382.2" cy="546.9" r="1.1" fill="#000"/>
<circle cx="382.2" cy="559.5" r="1.1" fill="#000"/>
<circle cx="382.2" cy="560.2" r="1.1" fill="#000"/>
<line x1="382.2" y1="565.5" x2="382.2" y2="567" stroke="#222" stroke-width="0.5"/>
<rect x="388.1" y="531" width="6.1" height="34.5" fill="#4ea4f4" stroke="#222" stroke-width="0.45"/>
<line x1="391.2" y1="509.1" x2="391.2" y2="552.9" stroke="#888" stroke-width="0.45"/>
<line x1="390" y1="509.1" x2="392.4" y2="509.1" stroke="#888" stroke-width="0.45"/>
<line x1="390" y1="552.9" x2="392.4" y2="552.9" stroke="#888" stroke-width="0.45"/>
<circle cx="391.2" cy="505.8" r="1.1" fill="#000"/>
<circle cx="391.2" cy="541.6" r="1.1" fill="#000"/>
<circle cx="391.2" cy="545.6" r="1.1" fill="#000"/>
<line x1="391.2" y1="565.5" x2="391.2" y2="567" stroke="#222" stroke-width="0.5"/>
<text x="358.1" y="570.1" font-size="5.8" text-anchor="end" dominant-baseline="central" fill="#000" textLength="23.4" lengthAdjust="spacingAndGlyphs" transform="rotate(-45 358.1 570.1)">Medium</text>
<text x="366.8" y="570.1" font-size="5.8" text-anchor="end" dominant-baseline="central" fill="#000" textLength="17.5" lengthAdjust="spacingAndGlyphs" transform="rotate(-45 366.8 570.1)">IL-12</text>
<text x="375.1" y="570.1" font-size="5.8" text-anchor="end" dominant-baseline="central" fill="#000" textLength="13.2" lengthAdjust="spacingAndGlyphs" transform="rotate(-45 375.1 570.1)">IL-2</text>
<text x="383.8" y="570.1" font-size="5.8" text-anchor="end" dominant-baseline="central" fill="#000" textLength="17.5" lengthAdjust="spacingAndGlyphs" transform="rotate(-45 383.8 570.1)">IL-18</text>
<text x="392.8" y="570.1" font-size="5.8" text-anchor="end" dominant-baseline="central" fill="#000" textLength="30.2" lengthAdjust="spacingAndGlyphs" transform="rotate(-45 392.8 570.1)">IL-12+IL-18</text>
<rect x="403.6" y="558.2" width="6.1" height="7.3" fill="#4646ea" stroke="#222" stroke-width="0.45"/>
<line x1="406.7" y1="551.6" x2="406.7" y2="564.2" stroke="#888" stroke-width="0.45"/>
<line x1="405.5" y1="551.6" x2="407.9" y2="551.6" stroke="#888" stroke-width="0.45"/>
<line x1="405.5" y1="564.2" x2="407.9" y2="564.2" stroke="#888" stroke-width="0.45"/>
<circle cx="406.7" cy="551.6" r="1.1" fill="#000"/>
<circle cx="406.7" cy="557.5" r="1.1" fill="#000"/>
<circle cx="406.7" cy="564.2" r="1.1" fill="#000"/>
<line x1="406.7" y1="565.5" x2="406.7" y2="567" stroke="#222" stroke-width="0.5"/>
<rect x="412.2" y="550.9" width="6.1" height="14.6" fill="#4646ea" stroke="#222" stroke-width="0.45"/>
<line x1="415.3" y1="534.3" x2="415.3" y2="565.5" stroke="#888" stroke-width="0.45"/>
<line x1="414.1" y1="534.3" x2="416.5" y2="534.3" stroke="#888" stroke-width="0.45"/>
<line x1="414.1" y1="565.5" x2="416.5" y2="565.5" stroke="#888" stroke-width="0.45"/>
<circle cx="415.3" cy="534.3" r="1.1" fill="#000"/>
<circle cx="415.3" cy="554.9" r="1.1" fill="#000"/>
<circle cx="415.3" cy="564.2" r="1.1" fill="#000"/>
<line x1="415.3" y1="565.5" x2="415.3" y2="567" stroke="#222" stroke-width="0.5"/>
<rect x="420.8" y="546.3" width="6.1" height="19.2" fill="#4646ea" stroke="#222" stroke-width="0.45"/>
<line x1="423.9" y1="527" x2="423.9" y2="565.5" stroke="#888" stroke-width="0.45"/>
<line x1="422.7" y1="527" x2="425.1" y2="527" stroke="#888" stroke-width="0.45"/>
<line x1="422.7" y1="565.5" x2="425.1" y2="565.5" stroke="#888" stroke-width="0.45"/>
<circle cx="423.9" cy="527" r="1.1" fill="#000"/>
<circle cx="423.9" cy="548.9" r="1.1" fill="#000"/>
<circle cx="423.9" cy="563.5" r="1.1" fill="#000"/>
<line x1="423.9" y1="565.5" x2="423.9" y2="567" stroke="#222" stroke-width="0.5"/>
<rect x="429.3" y="548.9" width="6.1" height="16.6" fill="#4646ea" stroke="#222" stroke-width="0.45"/>
<line x1="432.4" y1="529.7" x2="432.4" y2="565.5" stroke="#888" stroke-width="0.45"/>
<line x1="431.2" y1="529.7" x2="433.6" y2="529.7" stroke="#888" stroke-width="0.45"/>
<line x1="431.2" y1="565.5" x2="433.6" y2="565.5" stroke="#888" stroke-width="0.45"/>
<circle cx="432.4" cy="529.7" r="1.1" fill="#000"/>
<circle cx="432.4" cy="552.2" r="1.1" fill="#000"/>
<circle cx="432.4" cy="563.5" r="1.1" fill="#000"/>
<line x1="432.4" y1="565.5" x2="432.4" y2="567" stroke="#222" stroke-width="0.5"/>
<rect x="438.3" y="533" width="6.1" height="32.5" fill="#4646ea" stroke="#222" stroke-width="0.45"/>
<line x1="441.4" y1="501.9" x2="441.4" y2="564.2" stroke="#888" stroke-width="0.45"/>
<line x1="440.2" y1="501.9" x2="442.6" y2="501.9" stroke="#888" stroke-width="0.45"/>
<line x1="440.2" y1="564.2" x2="442.6" y2="564.2" stroke="#888" stroke-width="0.45"/>
<circle cx="441.4" cy="501.9" r="1.1" fill="#000"/>
<circle cx="441.4" cy="534.3" r="1.1" fill="#000"/>
<circle cx="441.4" cy="562.8" r="1.1" fill="#000"/>
<line x1="441.4" y1="565.5" x2="441.4" y2="567" stroke="#222" stroke-width="0.5"/>
<text x="408.3" y="570.1" font-size="5.8" text-anchor="end" dominant-baseline="central" fill="#000" textLength="23.4" lengthAdjust="spacingAndGlyphs" transform="rotate(-45 408.3 570.1)">Medium</text>
<text x="416.9" y="570.1" font-size="5.8" text-anchor="end" dominant-baseline="central" fill="#000" textLength="17.5" lengthAdjust="spacingAndGlyphs" transform="rotate(-45 416.9 570.1)">IL-12</text>
<text x="425.5" y="570.1" font-size="5.8" text-anchor="end" dominant-baseline="central" fill="#000" textLength="13.2" lengthAdjust="spacingAndGlyphs" transform="rotate(-45 425.5 570.1)">IL-2</text>
<text x="434" y="570.1" font-size="5.8" text-anchor="end" dominant-baseline="central" fill="#000" textLength="17.5" lengthAdjust="spacingAndGlyphs" transform="rotate(-45 434 570.1)">IL-18</text>
<text x="443" y="570.1" font-size="5.8" text-anchor="end" dominant-baseline="central" fill="#000" textLength="30.2" lengthAdjust="spacingAndGlyphs" transform="rotate(-45 443 570.1)">IL-12+IL-18</text>
<line x1="353.1" y1="499.2" x2="353.1" y2="565.5" stroke="#222" stroke-width="0.7"/>
<line x1="353.1" y1="565.5" x2="446.4" y2="565.5" stroke="#222" stroke-width="0.7"/>
<text x="378.6" y="495.4" font-size="7.6" text-anchor="middle" dominant-baseline="central" fill="#111"><tspan textLength="26" lengthAdjust="spacingAndGlyphs">NKG2C</tspan><tspan dy="-2.2" font-size="4.5">-</tspan></text>
<text x="425" y="495.4" font-size="7.6" text-anchor="middle" dominant-baseline="central" fill="#111"><tspan textLength="26" lengthAdjust="spacingAndGlyphs">NKG2C</tspan><tspan dy="-2.2" font-size="4.5">+</tspan></text>
<text x="333.5" y="539.5" font-size="5.6" font-weight="bold" text-anchor="middle" dominant-baseline="central" fill="#111" textLength="58" lengthAdjust="spacingAndGlyphs" transform="rotate(-90 333.5 539.5)">% IL-12Rβ2⁺ NK cell</text>
<text x="333.5" y="502.6" font-size="5.6" text-anchor="middle" dominant-baseline="central" font-weight="bold" fill="#111" transform="rotate(-90 333.5 502.6)">s</text>
<line x1="589.4" y1="570.2" x2="590.9" y2="570.2" stroke="#222" stroke-width="0.5"/>
<text x="588.7" y="570.2" font-size="5.4" text-anchor="end" dominant-baseline="central" fill="#222" textLength="3.8" lengthAdjust="spacingAndGlyphs">0</text>
<line x1="589.4" y1="557" x2="590.9" y2="557" stroke="#222" stroke-width="0.5"/>
<text x="588.7" y="557" font-size="5.4" text-anchor="end" dominant-baseline="central" fill="#222" textLength="7.6" lengthAdjust="spacingAndGlyphs">20</text>
<line x1="589.4" y1="543.7" x2="590.9" y2="543.7" stroke="#222" stroke-width="0.5"/>
<text x="588.7" y="543.7" font-size="5.4" text-anchor="end" dominant-baseline="central" fill="#222" textLength="7.6" lengthAdjust="spacingAndGlyphs">40</text>
<line x1="589.4" y1="530.5" x2="590.9" y2="530.5" stroke="#222" stroke-width="0.5"/>
<text x="588.7" y="530.5" font-size="5.4" text-anchor="end" dominant-baseline="central" fill="#222" textLength="7.6" lengthAdjust="spacingAndGlyphs">60</text>
<line x1="589.4" y1="517.2" x2="590.9" y2="517.2" stroke="#222" stroke-width="0.5"/>
<text x="588.7" y="517.2" font-size="5.4" text-anchor="end" dominant-baseline="central" fill="#222" textLength="7.6" lengthAdjust="spacingAndGlyphs">80</text>
<line x1="589.4" y1="504" x2="590.9" y2="504" stroke="#222" stroke-width="0.5"/>
<text x="588.7" y="504" font-size="5.4" text-anchor="end" dominant-baseline="central" fill="#222" textLength="11.4" lengthAdjust="spacingAndGlyphs">100</text>
<line x1="637.7" y1="504" x2="637.7" y2="570.2" stroke="#c8c8c8" stroke-width="0.4" stroke-dasharray="1,1"/>
<rect x="592.2" y="540.4" width="6.1" height="29.8" fill="#4ea4f4" stroke="#222" stroke-width="0.45"/>
<line x1="595.2" y1="537.8" x2="595.2" y2="543.7" stroke="#888" stroke-width="0.45"/>
<line x1="594" y1="537.8" x2="596.4" y2="537.8" stroke="#888" stroke-width="0.45"/>
<line x1="594" y1="543.7" x2="596.4" y2="543.7" stroke="#888" stroke-width="0.45"/>
<circle cx="595.2" cy="538.4" r="1.1" fill="#000"/>
<circle cx="595.2" cy="541.1" r="1.1" fill="#000"/>
<circle cx="595.2" cy="543.7" r="1.1" fill="#000"/>
<line x1="595.2" y1="570.2" x2="595.2" y2="571.7" stroke="#222" stroke-width="0.5"/>
<rect x="600.5" y="525.2" width="6.1" height="45" fill="#4ea4f4" stroke="#222" stroke-width="0.45"/>
<line x1="603.5" y1="519.9" x2="603.5" y2="530.5" stroke="#888" stroke-width="0.45"/>
<line x1="602.3" y1="519.9" x2="604.7" y2="519.9" stroke="#888" stroke-width="0.45"/>
<line x1="602.3" y1="530.5" x2="604.7" y2="530.5" stroke="#888" stroke-width="0.45"/>
<circle cx="603.5" cy="517.2" r="1.1" fill="#000"/>
<circle cx="603.5" cy="526.5" r="1.1" fill="#000"/>
<circle cx="603.5" cy="529.2" r="1.1" fill="#000"/>
<line x1="603.5" y1="570.2" x2="603.5" y2="571.7" stroke="#222" stroke-width="0.5"/>
<rect x="609" y="510.6" width="6.1" height="59.6" fill="#4ea4f4" stroke="#222" stroke-width="0.45"/>
<line x1="612" y1="508.6" x2="612" y2="511.9" stroke="#888" stroke-width="0.45"/>
<line x1="610.8" y1="508.6" x2="613.2" y2="508.6" stroke="#888" stroke-width="0.45"/>
<line x1="610.8" y1="511.9" x2="613.2" y2="511.9" stroke="#888" stroke-width="0.45"/>
<circle cx="612" cy="508.6" r="1.1" fill="#000"/>
<circle cx="612" cy="510.6" r="1.1" fill="#000"/>
<circle cx="612" cy="511.3" r="1.1" fill="#000"/>
<line x1="612" y1="570.2" x2="612" y2="571.7" stroke="#222" stroke-width="0.5"/>
<rect x="618" y="511.9" width="6.1" height="58.3" fill="#4ea4f4" stroke="#222" stroke-width="0.45"/>
<line x1="621" y1="510" x2="621" y2="513.3" stroke="#888" stroke-width="0.45"/>
<line x1="619.8" y1="510" x2="622.2" y2="510" stroke="#888" stroke-width="0.45"/>
<line x1="619.8" y1="513.3" x2="622.2" y2="513.3" stroke="#888" stroke-width="0.45"/>
<circle cx="621" cy="509.3" r="1.1" fill="#000"/>
<circle cx="621" cy="511.9" r="1.1" fill="#000"/>
<circle cx="621" cy="514.6" r="1.1" fill="#000"/>
<line x1="621" y1="570.2" x2="621" y2="571.7" stroke="#222" stroke-width="0.5"/>
<rect x="626.4" y="511.3" width="6.1" height="58.9" fill="#4ea4f4" stroke="#222" stroke-width="0.45"/>
<line x1="629.4" y1="510.6" x2="629.4" y2="512.6" stroke="#888" stroke-width="0.45"/>
<line x1="628.2" y1="510.6" x2="630.6" y2="510.6" stroke="#888" stroke-width="0.45"/>
<line x1="628.2" y1="512.6" x2="630.6" y2="512.6" stroke="#888" stroke-width="0.45"/>
<circle cx="629.4" cy="510.6" r="1.1" fill="#000"/>
<circle cx="629.4" cy="511.3" r="1.1" fill="#000"/>
<circle cx="629.4" cy="511.9" r="1.1" fill="#000"/>
<line x1="629.4" y1="570.2" x2="629.4" y2="571.7" stroke="#222" stroke-width="0.5"/>
<text x="596.8" y="574.8" font-size="5.8" text-anchor="end" dominant-baseline="central" fill="#000" textLength="23.4" lengthAdjust="spacingAndGlyphs" transform="rotate(-45 596.8 574.8)">Medium</text>
<text x="605.1" y="574.8" font-size="5.8" text-anchor="end" dominant-baseline="central" fill="#000" textLength="17.5" lengthAdjust="spacingAndGlyphs" transform="rotate(-45 605.1 574.8)">IL-12</text>
<text x="613.6" y="574.8" font-size="5.8" text-anchor="end" dominant-baseline="central" fill="#000" textLength="13.2" lengthAdjust="spacingAndGlyphs" transform="rotate(-45 613.6 574.8)">IL-2</text>
<text x="622.6" y="574.8" font-size="5.8" text-anchor="end" dominant-baseline="central" fill="#000" textLength="17.5" lengthAdjust="spacingAndGlyphs" transform="rotate(-45 622.6 574.8)">IL-18</text>
<text x="631" y="574.8" font-size="5.8" text-anchor="end" dominant-baseline="central" fill="#000" textLength="30.2" lengthAdjust="spacingAndGlyphs" transform="rotate(-45 631 574.8)">IL-12+IL-18</text>
<rect x="642.7" y="545" width="6.1" height="25.2" fill="#4646ea" stroke="#222" stroke-width="0.45"/>
<line x1="645.7" y1="533.1" x2="645.7" y2="557" stroke="#888" stroke-width="0.45"/>
<line x1="644.5" y1="533.1" x2="646.9" y2="533.1" stroke="#888" stroke-width="0.45"/>
<line x1="644.5" y1="557" x2="646.9" y2="557" stroke="#888" stroke-width="0.45"/>
<circle cx="645.7" cy="538.4" r="1.1" fill="#000"/>
<circle cx="645.7" cy="558.3" r="1.1" fill="#000"/>
<line x1="645.7" y1="570.2" x2="645.7" y2="571.7" stroke="#222" stroke-width="0.5"/>
<rect x="650.9" y="532.5" width="6.1" height="37.7" fill="#4646ea" stroke="#222" stroke-width="0.45"/>
<line x1="653.9" y1="511.9" x2="653.9" y2="552.3" stroke="#888" stroke-width="0.45"/>
<line x1="652.7" y1="511.9" x2="655.1" y2="511.9" stroke="#888" stroke-width="0.45"/>
<line x1="652.7" y1="552.3" x2="655.1" y2="552.3" stroke="#888" stroke-width="0.45"/>
<circle cx="653.9" cy="516.6" r="1.1" fill="#000"/>
<circle cx="653.9" cy="525.2" r="1.1" fill="#000"/>
<circle cx="653.9" cy="555" r="1.1" fill="#000"/>
<line x1="653.9" y1="570.2" x2="653.9" y2="571.7" stroke="#222" stroke-width="0.5"/>
<rect x="659.6" y="517.2" width="6.1" height="53" fill="#4646ea" stroke="#222" stroke-width="0.45"/>
<line x1="662.6" y1="507.3" x2="662.6" y2="527.2" stroke="#888" stroke-width="0.45"/>
<line x1="661.4" y1="507.3" x2="663.8" y2="507.3" stroke="#888" stroke-width="0.45"/>
<line x1="661.4" y1="527.2" x2="663.8" y2="527.2" stroke="#888" stroke-width="0.45"/>
<circle cx="662.6" cy="510.6" r="1.1" fill="#000"/>
<circle cx="662.6" cy="513.3" r="1.1" fill="#000"/>
<circle cx="662.6" cy="527.8" r="1.1" fill="#000"/>
<line x1="662.6" y1="570.2" x2="662.6" y2="571.7" stroke="#222" stroke-width="0.5"/>
<rect x="668" y="521.9" width="6.1" height="48.3" fill="#4646ea" stroke="#222" stroke-width="0.45"/>
<line x1="671" y1="507.3" x2="671" y2="541.7" stroke="#888" stroke-width="0.45"/>
<line x1="669.8" y1="507.3" x2="672.2" y2="507.3" stroke="#888" stroke-width="0.45"/>
<line x1="669.8" y1="541.7" x2="672.2" y2="541.7" stroke="#888" stroke-width="0.45"/>
<circle cx="671" cy="509.3" r="1.1" fill="#000"/>
<circle cx="671" cy="513.9" r="1.1" fill="#000"/>
<circle cx="671" cy="544.4" r="1.1" fill="#000"/>
<line x1="671" y1="570.2" x2="671" y2="571.7" stroke="#222" stroke-width="0.5"/>
<rect x="676.7" y="515.9" width="6.1" height="54.3" fill="#4646ea" stroke="#222" stroke-width="0.45"/>
<line x1="679.7" y1="509.3" x2="679.7" y2="522.5" stroke="#888" stroke-width="0.45"/>
<line x1="678.5" y1="509.3" x2="680.9" y2="509.3" stroke="#888" stroke-width="0.45"/>
<line x1="678.5" y1="522.5" x2="680.9" y2="522.5" stroke="#888" stroke-width="0.45"/>
<circle cx="679.7" cy="511.9" r="1.1" fill="#000"/>
<circle cx="679.7" cy="523.2" r="1.1" fill="#000"/>
<line x1="679.7" y1="570.2" x2="679.7" y2="571.7" stroke="#222" stroke-width="0.5"/>
<text x="647.3" y="574.8" font-size="5.8" text-anchor="end" dominant-baseline="central" fill="#000" textLength="23.4" lengthAdjust="spacingAndGlyphs" transform="rotate(-45 647.3 574.8)">Medium</text>
<text x="655.5" y="574.8" font-size="5.8" text-anchor="end" dominant-baseline="central" fill="#000" textLength="17.5" lengthAdjust="spacingAndGlyphs" transform="rotate(-45 655.5 574.8)">IL-12</text>
<text x="664.2" y="574.8" font-size="5.8" text-anchor="end" dominant-baseline="central" fill="#000" textLength="13.2" lengthAdjust="spacingAndGlyphs" transform="rotate(-45 664.2 574.8)">IL-2</text>
<text x="672.6" y="574.8" font-size="5.8" text-anchor="end" dominant-baseline="central" fill="#000" textLength="17.5" lengthAdjust="spacingAndGlyphs" transform="rotate(-45 672.6 574.8)">IL-18</text>
<text x="681.3" y="574.8" font-size="5.8" text-anchor="end" dominant-baseline="central" fill="#000" textLength="30.2" lengthAdjust="spacingAndGlyphs" transform="rotate(-45 681.3 574.8)">IL-12+IL-18</text>
<line x1="590.9" y1="504" x2="590.9" y2="570.2" stroke="#222" stroke-width="0.7"/>
<line x1="590.9" y1="570.2" x2="684.1" y2="570.2" stroke="#222" stroke-width="0.7"/>
<text x="615" y="500.5" font-size="7.6" text-anchor="middle" dominant-baseline="central" fill="#111"><tspan textLength="26" lengthAdjust="spacingAndGlyphs">NKG2C</tspan><tspan dy="-2.2" font-size="4.5">-</tspan></text>
<text x="662.4" y="500.5" font-size="7.6" text-anchor="middle" dominant-baseline="central" fill="#111"><tspan textLength="26" lengthAdjust="spacingAndGlyphs">NKG2C</tspan><tspan dy="-2.2" font-size="4.5">+</tspan></text>
<text x="571.1" y="543.8" font-size="5.6" font-weight="bold" text-anchor="middle" dominant-baseline="central" fill="#111" textLength="52" lengthAdjust="spacingAndGlyphs" transform="rotate(-90 571.1 543.8)">% IL 27Rα⁺ NK cells</text>
<text x="3.2" y="637.6" font-size="10.5" dominant-baseline="central" font-weight="bold">i</text>
<text x="73.6" y="660.7" font-size="7.3" text-anchor="middle" dominant-baseline="central" font-weight="bold" fill="#111" textLength="18.8" lengthAdjust="spacingAndGlyphs">IFN-γ</text>
<text x="49" y="670.9" font-size="6.4" font-weight="bold" text-anchor="middle" dominant-baseline="central" fill="#111"><tspan textLength="21.5" lengthAdjust="spacingAndGlyphs">NKG2C</tspan><tspan dy="-2" font-size="4">-</tspan></text>
<text x="93.5" y="670.9" font-size="6.4" font-weight="bold" text-anchor="middle" dominant-baseline="central" fill="#111"><tspan textLength="21.5" lengthAdjust="spacingAndGlyphs">NKG2C</tspan><tspan dy="-2" font-size="4">+</tspan></text>
<line x1="71.5" y1="671.5" x2="71.5" y2="743.7" stroke="#d0d0d0" stroke-width="0.4" stroke-dasharray="1.2,1.2"/>
<line x1="25" y1="671.5" x2="27.6" y2="671.5" stroke="#111" stroke-width="0.6"/>
<text x="24.4" y="671.5" font-size="4.6" text-anchor="end" dominant-baseline="central" fill="#222" textLength="14" lengthAdjust="spacingAndGlyphs">1×10<tspan dy="-1.5" font-size="3">7</tspan></text>
<line x1="25" y1="685.9" x2="27.6" y2="685.9" stroke="#111" stroke-width="0.6"/>
<text x="24.4" y="685.9" font-size="4.6" text-anchor="end" dominant-baseline="central" fill="#222" textLength="14" lengthAdjust="spacingAndGlyphs">8×10<tspan dy="-1.5" font-size="3">6</tspan></text>
<line x1="25" y1="700.4" x2="27.6" y2="700.4" stroke="#111" stroke-width="0.6"/>
<text x="24.4" y="700.4" font-size="4.6" text-anchor="end" dominant-baseline="central" fill="#222" textLength="14" lengthAdjust="spacingAndGlyphs">6×10<tspan dy="-1.5" font-size="3">6</tspan></text>
<line x1="25" y1="714.8" x2="27.6" y2="714.8" stroke="#111" stroke-width="0.6"/>
<text x="24.4" y="714.8" font-size="4.6" text-anchor="end" dominant-baseline="central" fill="#222" textLength="14" lengthAdjust="spacingAndGlyphs">4×10<tspan dy="-1.5" font-size="3">6</tspan></text>
<line x1="25" y1="729.3" x2="27.6" y2="729.3" stroke="#111" stroke-width="0.6"/>
<text x="24.4" y="729.3" font-size="4.6" text-anchor="end" dominant-baseline="central" fill="#222" textLength="14" lengthAdjust="spacingAndGlyphs">2×10<tspan dy="-1.5" font-size="3">6</tspan></text>
<line x1="25" y1="743.7" x2="27.6" y2="743.7" stroke="#111" stroke-width="0.6"/>
<text x="24.2" y="743.7" font-size="4.6" text-anchor="end" dominant-baseline="central" font-weight="bold" fill="#222" textLength="3.5" lengthAdjust="spacingAndGlyphs">0</text>
<line x1="54.2" y1="678.7" x2="64" y2="714.8" stroke="#888" stroke-width="0.35"/>
<line x1="54.2" y1="693.2" x2="64" y2="722" stroke="#888" stroke-width="0.35"/>
<line x1="54.2" y1="706.2" x2="64" y2="728.5" stroke="#888" stroke-width="0.35"/>
<line x1="100.2" y1="678.7" x2="109.8" y2="725.7" stroke="#888" stroke-width="0.35"/>
<line x1="100.2" y1="710.5" x2="109.8" y2="739.4" stroke="#888" stroke-width="0.35"/>
<line x1="100.2" y1="735" x2="109.8" y2="714.8" stroke="#888" stroke-width="0.35"/>
<circle cx="34.1" cy="743.7" r="1.2" fill="#000"/>
<line x1="34.1" y1="743.7" x2="34.1" y2="745.3" stroke="#111" stroke-width="0.6"/>
<circle cx="43.9" cy="743.7" r="1.2" fill="#000"/>
<line x1="43.9" y1="743.7" x2="43.9" y2="745.3" stroke="#111" stroke-width="0.6"/>
<rect x="50.8" y="692.4" width="6.9" height="51.3" fill="#1ba5d3" stroke="#222" stroke-width="0.45"/>
<circle cx="54.2" cy="678.7" r="1.2" fill="#000"/>
<circle cx="54.2" cy="693.2" r="1.2" fill="#000"/>
<circle cx="54.2" cy="706.2" r="1.2" fill="#000"/>
<line x1="54.2" y1="743.7" x2="54.2" y2="745.3" stroke="#111" stroke-width="0.6"/>
<rect x="60.5" y="722" width="6.9" height="21.7" fill="#f7a23c" stroke="#222" stroke-width="0.45"/>
<line x1="64" y1="729.3" x2="64" y2="714.8" stroke="#222" stroke-width="0.5"/>
<line x1="62.7" y1="714.8" x2="65.3" y2="714.8" stroke="#222" stroke-width="0.5"/>
<circle cx="64" cy="714.8" r="1.2" fill="#000"/>
<circle cx="64" cy="722" r="1.2" fill="#000"/>
<circle cx="64" cy="728.5" r="1.2" fill="#000"/>
<line x1="64" y1="743.7" x2="64" y2="745.3" stroke="#111" stroke-width="0.6"/>
<circle cx="80.3" cy="743.7" r="1.2" fill="#000"/>
<line x1="80.3" y1="743.7" x2="80.3" y2="745.3" stroke="#111" stroke-width="0.6"/>
<circle cx="89.9" cy="743.7" r="1.2" fill="#000"/>
<line x1="89.9" y1="743.7" x2="89.9" y2="745.3" stroke="#111" stroke-width="0.6"/>
<rect x="96.8" y="708.3" width="6.9" height="35.4" fill="#1ba5d3" stroke="#222" stroke-width="0.45"/>
<circle cx="100.2" cy="678.7" r="1.2" fill="#000"/>
<circle cx="100.2" cy="710.5" r="1.2" fill="#000"/>
<circle cx="100.2" cy="735" r="1.2" fill="#000"/>
<line x1="100.2" y1="743.7" x2="100.2" y2="745.3" stroke="#111" stroke-width="0.6"/>
<rect x="106.3" y="726.4" width="6.9" height="17.3" fill="#f7a23c" stroke="#222" stroke-width="0.45"/>
<line x1="109.8" y1="739.4" x2="109.8" y2="714.8" stroke="#222" stroke-width="0.5"/>
<line x1="108.5" y1="714.8" x2="111.1" y2="714.8" stroke="#222" stroke-width="0.5"/>
<circle cx="109.8" cy="714.8" r="1.2" fill="#000"/>
<circle cx="109.8" cy="725.7" r="1.2" fill="#000"/>
<circle cx="109.8" cy="739.4" r="1.2" fill="#000"/>
<line x1="109.8" y1="743.7" x2="109.8" y2="745.3" stroke="#111" stroke-width="0.6"/>
<text x="35.9" y="749.2" font-size="5.4" font-weight="bold" text-anchor="end" dominant-baseline="central" fill="#111" textLength="21" lengthAdjust="spacingAndGlyphs" transform="rotate(-45 35.9 749.2)">Medium</text>
<text x="45.7" y="749.2" font-size="5.4" font-weight="bold" text-anchor="end" dominant-baseline="central" fill="#111" textLength="16" lengthAdjust="spacingAndGlyphs" transform="rotate(-45 45.7 749.2)">IL-35</text>
<text x="56" y="749.2" font-size="5.4" font-weight="bold" text-anchor="end" dominant-baseline="central" fill="#111" textLength="28" lengthAdjust="spacingAndGlyphs" transform="rotate(-45 56 749.2)">IL-12+IL-18</text>
<text x="65.8" y="749.2" font-size="5.4" font-weight="bold" text-anchor="end" dominant-baseline="central" fill="#111" textLength="41.5" lengthAdjust="spacingAndGlyphs" transform="rotate(-45 65.8 749.2)">IL-12+IL-18+IL-35</text>
<text x="82.1" y="749.2" font-size="5.4" font-weight="bold" text-anchor="end" dominant-baseline="central" fill="#111" textLength="21" lengthAdjust="spacingAndGlyphs" transform="rotate(-45 82.1 749.2)">Medium</text>
<text x="91.7" y="749.2" font-size="5.4" font-weight="bold" text-anchor="end" dominant-baseline="central" fill="#111" textLength="16" lengthAdjust="spacingAndGlyphs" transform="rotate(-45 91.7 749.2)">IL-35</text>
<text x="102" y="749.2" font-size="5.4" font-weight="bold" text-anchor="end" dominant-baseline="central" fill="#111" textLength="28" lengthAdjust="spacingAndGlyphs" transform="rotate(-45 102 749.2)">IL-12+IL-18</text>
<text x="111.6" y="749.2" font-size="5.4" font-weight="bold" text-anchor="end" dominant-baseline="central" fill="#111" textLength="41.5" lengthAdjust="spacingAndGlyphs" transform="rotate(-45 111.6 749.2)">IL-12+IL-18+IL-35</text>
<line x1="27.6" y1="671" x2="27.6" y2="743.7" stroke="#111" stroke-width="0.8"/>
<line x1="27.6" y1="743.7" x2="116.9" y2="743.7" stroke="#111" stroke-width="0.8"/>
<text x="4.8" y="708.3" font-size="6.6" text-anchor="middle" dominant-baseline="central" fill="#333" transform="rotate(-90 4.8 708.3)">pg/ml</text>
<text x="3.8" y="795.5" font-size="10.5" dominant-baseline="central" font-weight="bold">j</text>
<text x="73.6" y="813.3" font-size="7.3" text-anchor="middle" dominant-baseline="central" font-weight="bold" fill="#111" textLength="28.6" lengthAdjust="spacingAndGlyphs">VEGF-A</text>
<text x="50.7" y="825.2" font-size="6.4" font-weight="bold" text-anchor="middle" dominant-baseline="central" fill="#111"><tspan textLength="21.5" lengthAdjust="spacingAndGlyphs">NKG2C</tspan><tspan dy="-2" font-size="4">-</tspan></text>
<text x="93.5" y="825.2" font-size="6.4" font-weight="bold" text-anchor="middle" dominant-baseline="central" fill="#111"><tspan textLength="21.5" lengthAdjust="spacingAndGlyphs">NKG2C</tspan><tspan dy="-2" font-size="4">+</tspan></text>
<line x1="72.6" y1="827.6" x2="72.6" y2="896.3" stroke="#d0d0d0" stroke-width="0.4" stroke-dasharray="1.2,1.2"/>
<line x1="25" y1="827.6" x2="27.6" y2="827.6" stroke="#111" stroke-width="0.6"/>
<text x="24.2" y="827.6" font-size="4.6" text-anchor="end" dominant-baseline="central" font-weight="bold" fill="#222" textLength="7.6" lengthAdjust="spacingAndGlyphs">100</text>
<line x1="25" y1="844.8" x2="27.6" y2="844.8" stroke="#111" stroke-width="0.6"/>
<text x="24.2" y="844.8" font-size="4.6" text-anchor="end" dominant-baseline="central" font-weight="bold" fill="#222" textLength="5.1" lengthAdjust="spacingAndGlyphs">75</text>
<line x1="25" y1="862" x2="27.6" y2="862" stroke="#111" stroke-width="0.6"/>
<text x="24.2" y="862" font-size="4.6" text-anchor="end" dominant-baseline="central" font-weight="bold" fill="#222" textLength="5.1" lengthAdjust="spacingAndGlyphs">50</text>
<line x1="25" y1="879.1" x2="27.6" y2="879.1" stroke="#111" stroke-width="0.6"/>
<text x="24.2" y="879.1" font-size="4.6" text-anchor="end" dominant-baseline="central" font-weight="bold" fill="#222" textLength="5.1" lengthAdjust="spacingAndGlyphs">25</text>
<line x1="25" y1="896.3" x2="27.6" y2="896.3" stroke="#111" stroke-width="0.6"/>
<text x="24.2" y="896.3" font-size="4.6" text-anchor="end" dominant-baseline="central" font-weight="bold" fill="#222" textLength="2.6" lengthAdjust="spacingAndGlyphs">0</text>
<line x1="34.1" y1="896.3" x2="44.3" y2="867.4" stroke="#888" stroke-width="0.35"/>
<line x1="54.5" y1="872.9" x2="64.4" y2="831.7" stroke="#888" stroke-width="0.35"/>
<line x1="54.5" y1="883.9" x2="64.4" y2="850.3" stroke="#888" stroke-width="0.35"/>
<line x1="54.5" y1="874.3" x2="64.4" y2="840.7" stroke="#888" stroke-width="0.35"/>
<line x1="81.1" y1="896.3" x2="91" y2="863.3" stroke="#888" stroke-width="0.35"/>
<line x1="101.2" y1="881.9" x2="110.9" y2="851" stroke="#888" stroke-width="0.35"/>
<line x1="101.2" y1="896" x2="110.9" y2="854.4" stroke="#888" stroke-width="0.35"/>
<circle cx="34.1" cy="896.3" r="1.2" fill="#000"/>
<line x1="34.1" y1="896.3" x2="34.1" y2="897.9" stroke="#111" stroke-width="0.6"/>
<rect x="40.8" y="868.1" width="6.9" height="28.2" fill="#f7a23c" stroke="#222" stroke-width="0.45"/>
<circle cx="44.3" cy="866.1" r="1.2" fill="#000"/>
<circle cx="44.3" cy="867.4" r="1.2" fill="#000"/>
<circle cx="44.3" cy="868.8" r="1.2" fill="#000"/>
<line x1="44.3" y1="896.3" x2="44.3" y2="897.9" stroke="#111" stroke-width="0.6"/>
<rect x="51" y="877.1" width="6.9" height="19.2" fill="#1ba5d3" stroke="#222" stroke-width="0.45"/>
<circle cx="54.5" cy="872.9" r="1.2" fill="#000"/>
<circle cx="54.5" cy="874.3" r="1.2" fill="#000"/>
<circle cx="54.5" cy="883.9" r="1.2" fill="#000"/>
<line x1="54.5" y1="896.3" x2="54.5" y2="897.9" stroke="#111" stroke-width="0.6"/>
<rect x="61" y="841.3" width="6.9" height="55" fill="#f7a23c" stroke="#222" stroke-width="0.45"/>
<line x1="64.4" y1="850.3" x2="64.4" y2="831.7" stroke="#222" stroke-width="0.5"/>
<line x1="63.1" y1="831.7" x2="65.7" y2="831.7" stroke="#222" stroke-width="0.5"/>
<circle cx="64.4" cy="831.7" r="1.2" fill="#000"/>
<circle cx="64.4" cy="840.7" r="1.2" fill="#000"/>
<circle cx="64.4" cy="850.3" r="1.2" fill="#000"/>
<line x1="64.4" y1="896.3" x2="64.4" y2="897.9" stroke="#111" stroke-width="0.6"/>
<circle cx="81.1" cy="896.3" r="1.2" fill="#000"/>
<line x1="81.1" y1="896.3" x2="81.1" y2="897.9" stroke="#111" stroke-width="0.6"/>
<rect x="87.5" y="866.8" width="6.9" height="29.5" fill="#f7a23c" stroke="#222" stroke-width="0.45"/>
<line x1="91" y1="868.1" x2="91" y2="863.3" stroke="#222" stroke-width="0.5"/>
<line x1="89.7" y1="863.3" x2="92.3" y2="863.3" stroke="#222" stroke-width="0.5"/>
<circle cx="91" cy="863.3" r="1.2" fill="#000"/>
<circle cx="91" cy="865.4" r="1.2" fill="#000"/>
<circle cx="91" cy="867.4" r="1.2" fill="#000"/>
<line x1="91" y1="896.3" x2="91" y2="897.9" stroke="#111" stroke-width="0.6"/>
<rect x="97.8" y="886.7" width="6.9" height="9.6" fill="#1ba5d3" stroke="#222" stroke-width="0.45"/>
<circle cx="101.2" cy="881.9" r="1.2" fill="#000"/>
<circle cx="101.2" cy="896" r="1.2" fill="#000"/>
<line x1="101.2" y1="896.3" x2="101.2" y2="897.9" stroke="#111" stroke-width="0.6"/>
<rect x="107.5" y="855.1" width="6.9" height="41.2" fill="#f7a23c" stroke="#222" stroke-width="0.45"/>
<line x1="110.9" y1="856.5" x2="110.9" y2="851" stroke="#222" stroke-width="0.5"/>
<line x1="109.6" y1="851" x2="112.2" y2="851" stroke="#222" stroke-width="0.5"/>
<circle cx="110.9" cy="851" r="1.2" fill="#000"/>
<circle cx="110.9" cy="853" r="1.2" fill="#000"/>
<circle cx="110.9" cy="854.4" r="1.2" fill="#000"/>
<line x1="110.9" y1="896.3" x2="110.9" y2="897.9" stroke="#111" stroke-width="0.6"/>
<text x="35.9" y="901.8" font-size="5.4" font-weight="bold" text-anchor="end" dominant-baseline="central" fill="#111" textLength="21" lengthAdjust="spacingAndGlyphs" transform="rotate(-45 35.9 901.8)">Medium</text>
<text x="46.1" y="901.8" font-size="5.4" font-weight="bold" text-anchor="end" dominant-baseline="central" fill="#111" textLength="16" lengthAdjust="spacingAndGlyphs" transform="rotate(-45 46.1 901.8)">IL-35</text>
<text x="56.3" y="901.8" font-size="5.4" font-weight="bold" text-anchor="end" dominant-baseline="central" fill="#111" textLength="28" lengthAdjust="spacingAndGlyphs" transform="rotate(-45 56.3 901.8)">IL-12+IL-18</text>
<text x="66.2" y="901.8" font-size="5.4" font-weight="bold" text-anchor="end" dominant-baseline="central" fill="#111" textLength="41.5" lengthAdjust="spacingAndGlyphs" transform="rotate(-45 66.2 901.8)">IL-12+IL-18+IL-35</text>
<text x="82.9" y="901.8" font-size="5.4" font-weight="bold" text-anchor="end" dominant-baseline="central" fill="#111" textLength="21" lengthAdjust="spacingAndGlyphs" transform="rotate(-45 82.9 901.8)">Medium</text>
<text x="92.8" y="901.8" font-size="5.4" font-weight="bold" text-anchor="end" dominant-baseline="central" fill="#111" textLength="16" lengthAdjust="spacingAndGlyphs" transform="rotate(-45 92.8 901.8)">IL-35</text>
<text x="103" y="901.8" font-size="5.4" font-weight="bold" text-anchor="end" dominant-baseline="central" fill="#111" textLength="28" lengthAdjust="spacingAndGlyphs" transform="rotate(-45 103 901.8)">IL-12+IL-18</text>
<text x="112.7" y="901.8" font-size="5.4" font-weight="bold" text-anchor="end" dominant-baseline="central" fill="#111" textLength="41.5" lengthAdjust="spacingAndGlyphs" transform="rotate(-45 112.7 901.8)">IL-12+IL-18+IL-35</text>
<line x1="27.6" y1="823.8" x2="27.6" y2="896.3" stroke="#111" stroke-width="0.8"/>
<line x1="27.6" y1="896.3" x2="117.5" y2="896.3" stroke="#111" stroke-width="0.8"/>
<text x="11.2" y="860" font-size="6.6" text-anchor="middle" dominant-baseline="central" fill="#333" transform="rotate(-90 11.2 860)">pg/ml</text>
<text x="133.4" y="637.5" font-size="10.5" dominant-baseline="central" font-weight="bold">k</text>
<text x="205.4" y="653.9" font-size="8.6" text-anchor="middle" dominant-baseline="central" font-weight="bold" fill="#111" textLength="38.5" lengthAdjust="spacingAndGlyphs">AdaptNK</text>
<text x="206.5" y="753.4" font-size="8.6" text-anchor="middle" dominant-baseline="central" font-weight="bold" fill="#111" textLength="35" lengthAdjust="spacingAndGlyphs">ConvNK</text>
<text x="213.9" y="854.1" font-size="8.6" text-anchor="middle" dominant-baseline="central" font-weight="bold" fill="#111" textLength="36.5" lengthAdjust="spacingAndGlyphs">ProlifNK</text>
<path d="M156.6,709.3 C157.2,705 158.4,692.3 161.5,687.6 C164.6,682.9 170.4,682.6 175,681 C179.6,679.4 182.5,678.7 189.1,677.7 C195.7,676.7 207.9,674.9 214.7,674.8 C221.5,674.7 225.7,675.9 230,677 C234.3,678.1 238,679.6 240.4,681.7 C242.8,683.8 245,685.3 244.3,689.6 C243.6,693.9 240.7,702.7 236.4,707.3 C232.1,711.9 225.6,715.2 218.7,717.2 C211.8,719.2 203.2,719.1 195,719.1 C186.8,719.1 175.6,718.2 169.4,717.2 C163.2,716.2 159.7,714.5 157.6,713.2 C155.5,711.9 155.9,713.6 156.6,709.3Z" fill="#c0c0c0" filter="url(#sp24)"/>
<path d="M157,712 C155.3,707.5 157,694.8 160,690 C163,685.2 170,683 175,683 C180,683 186.7,686.3 190,690 C193.3,693.7 195,700.2 195,705 C195,709.8 194.2,717 190,719 C185.8,721 175.5,718.2 170,717 C164.5,715.8 158.7,716.5 157,712Z" fill="#c2c2c2" filter="url(#sp25)"/>
<path d="M158,700 C159.2,697 160.5,694.2 165,695 C169.5,695.8 180,701 185,705 C190,709 197.5,716.8 195,719 C192.5,721.2 176.2,719 170,718 C163.8,717 160,716 158,713 C156,710 156.8,703 158,700Z" fill="#dadada" filter="url(#sp26)"/>
<path d="M165,686 C168.2,682.8 180.8,679.5 189,677.7 C197.2,675.9 209.5,673 214,675 C218.5,677 217.5,685.8 216,690 C214.5,694.2 210.2,698.3 205,700 C199.8,701.7 190.8,700.5 185,700 C179.2,699.5 173.3,699.3 170,697 C166.7,694.7 161.8,689.2 165,686Z" fill="#8a8a8a" filter="url(#sp27)"/>
<path d="M195,697 C199,693.7 207,690.3 212,690 C217,689.7 221.3,692.3 225,695 C228.7,697.7 235.1,702.3 234,706 C232.9,709.7 225.2,715 218.7,717.2 C212.2,719.4 200.1,720.3 195,719.1 C189.9,717.9 188,713.7 188,710 C188,706.3 191,700.3 195,697Z" fill="#555555" filter="url(#sp28)"/>
<path d="M214.7,674.8 C217.4,674 225.7,675.9 230,677 C234.3,678.1 238,679.6 240.4,681.7 C242.8,683.8 244.7,685.9 244.3,689.6 C243.9,693.3 240.7,701.3 238,704 C235.3,706.7 231.3,707.5 228,706 C224.7,704.5 220.3,699 218,695 C215.7,691 214.6,685.4 214,682 C213.4,678.6 212,675.6 214.7,674.8Z" fill="#f5a846" filter="url(#sp29)"/>
<path d="M164.8,688.8h.01M162.9,684.8h.01M160.0,687.6h.01M162.8,688.3h.01M162.2,688.4h.01M161.6,688.6h.01M164.4,685.9h.01M163.2,687.8h.01M161.2,686.9h.01M164.8,684.9h.01" stroke="#f5b060" stroke-width="0.8" stroke-linecap="round"/>
<circle cx="252.2" cy="707.3" r="1.3" fill="#000"/>
<text x="259.1" y="707.3" font-size="5.4" text-anchor="middle" dominant-baseline="central" fill="#222" transform="rotate(90 259.1 707.3)">1</text>
<circle cx="252.2" cy="713.2" r="1.3" fill="#666"/>
<text x="259.1" y="713.2" font-size="5.4" text-anchor="middle" dominant-baseline="central" fill="#222" transform="rotate(90 259.1 713.2)">2</text>
<circle cx="252.2" cy="718.7" r="1.3" fill="#f7a23c"/>
<text x="259.1" y="718.7" font-size="5.4" text-anchor="middle" dominant-baseline="central" fill="#222" transform="rotate(90 259.1 718.7)">3</text>
<circle cx="252.2" cy="724.2" r="1.3" fill="#999"/>
<text x="259.1" y="724.2" font-size="5.4" text-anchor="middle" dominant-baseline="central" fill="#222" transform="rotate(90 259.1 724.2)">4</text>
<circle cx="252.2" cy="730" r="1.3" fill="#ccc"/>
<text x="259.1" y="730" font-size="5.4" text-anchor="middle" dominant-baseline="central" fill="#222" transform="rotate(90 259.1 730)">5</text>
<line x1="138.3" y1="730" x2="138.3" y2="717.7" stroke="#000" stroke-width="0.45"/>
<line x1="138.3" y1="730" x2="159" y2="730" stroke="#000" stroke-width="0.45"/>
<path d="M137.4,718.2 L138.3,716.2 L139.2,718.2Z"/>
<path d="M158.5,729.1 L160.5,730 L158.5,730.9Z"/>
<text x="135.9" y="723.1" font-size="3.4" text-anchor="middle" dominant-baseline="central" fill="#444" transform="rotate(-90 135.9 723.1)">UMAP_2</text>
<text x="146.3" y="732.6" font-size="3.4" text-anchor="middle" dominant-baseline="central" fill="#444">UMAP_1</text>
<path d="M155.6,796.5 C155.9,795.4 157.8,793.3 159.6,791.5 C161.4,789.7 164.9,784.3 166.5,785.6 C168.1,786.9 167.9,796.1 169.4,799.4 C170.9,802.7 176,805 175.3,805.3 C174.7,805.6 168.4,802.5 165.5,801.4 C162.6,800.2 159.2,799.2 157.6,798.4 C155.9,797.6 155.3,797.6 155.6,796.5Z" fill="#c4c4c4" filter="url(#sp30)"/>
<path d="M208.8,807.3 C209.5,806.3 213.4,805.8 216.7,806.3 C220,806.8 225.1,809.1 228.5,810.3 C231.9,811.4 235.9,812.1 237.4,813.2 C238.9,814.4 238.9,816.5 237.4,817.2 C235.9,817.9 231.9,817.5 228.5,817.5 C225.1,817.5 219.3,818.1 216.7,817.2 C214.1,816.3 214.1,813.9 212.8,812.2 C211.5,810.6 208.2,808.3 208.8,807.3Z" fill="#a8a8a8" filter="url(#sp31)"/>
<path d="M167.4,783.6 C168.9,781 171.7,777.6 175.3,775.8 C178.9,774 184.8,773.1 189.1,772.8 C193.4,772.5 197.7,773 201,773.8 C204.3,774.6 206.8,774.8 208.8,777.7 C210.8,780.7 211.5,787.2 212.8,791.5 C214.1,795.8 217.4,800.4 216.7,803.4 C216,806.4 213.4,808.5 208.8,809.3 C204.2,810.1 194.7,809 189.1,808.3 C183.5,807.6 178.6,806.8 175.3,805.3 C172,803.8 170.9,801.7 169.4,799.4 C167.9,797.1 166.8,794.1 166.5,791.5 C166.2,788.9 165.9,786.2 167.4,783.6Z" fill="#737373"/>
<path d="M167.4,783.6 C168.9,781 171.7,777.6 175.3,775.8 C178.9,774 184.8,773.1 189.1,772.8 C193.4,772.5 197.7,773 201,773.8 C204.3,774.6 206.8,774.8 208.8,777.7 C210.8,780.7 211.5,787.2 212.8,791.5 C214.1,795.8 217.4,800.4 216.7,803.4 C216,806.4 213.4,808.5 208.8,809.3 C204.2,810.1 194.7,809 189.1,808.3 C183.5,807.6 178.6,806.8 175.3,805.3 C172,803.8 170.9,801.7 169.4,799.4 C167.9,797.1 166.8,794.1 166.5,791.5 C166.2,788.9 165.9,786.2 167.4,783.6Z" fill="#8c8c8c" filter="url(#sp32)"/>
<path d="M201,775.8 C202.2,774.4 206.2,774.8 208.8,775.4 C211.4,776 214.6,778 216.7,779.7 C218.8,781.4 220.5,783.3 221.6,785.6 C222.7,787.9 223.2,791.2 223,793.5 C222.8,795.8 222.1,797.9 220.7,799.4 C219.3,800.9 216.7,802.4 214.7,802.4 C212.7,802.4 210.4,801.2 208.8,799.4 C207.2,797.6 206.1,794.1 204.9,791.5 C203.8,788.9 202.6,786.2 201.9,783.6 C201.2,781 199.8,777.2 201,775.8Z" fill="#f6a232"/>
<path d="M197,775 C199,773.2 205.3,773.1 208.8,773.5 C212.3,773.9 215.5,775.6 218,777.5 C220.5,779.4 222.8,782.2 224,785 C225.2,787.8 225.3,791.3 225,794 C224.7,796.7 223.7,799.2 222,801 C220.3,802.8 217.5,804.8 215,805 C212.5,805.2 209.3,804 207,802 C204.7,800 202.7,796 201,793 C199.3,790 197.7,787 197,784 C196.3,781 195,776.8 197,775Z" fill="#f6a232" filter="url(#sp33)"/>
<path d="M239.7,801.5h.01M237.1,803.5h.01M236.1,802.0h.01M243.2,800.3h.01M240.4,802.5h.01M236.3,801.5h.01M241.6,801.8h.01M241.8,800.6h.01" stroke="#999" stroke-width="0.7" stroke-linecap="round"/>
<circle cx="252.2" cy="816.2" r="1.3" fill="#666"/>
<text x="257.6" y="816.2" font-size="6.2" dominant-baseline="central" fill="#222">1</text>
<circle cx="252.2" cy="821.1" r="1.3" fill="#f7a23c"/>
<text x="257.6" y="821.1" font-size="6.2" dominant-baseline="central" fill="#222">2</text>
<circle cx="252.2" cy="826.4" r="1.3" fill="#999"/>
<text x="257.6" y="826.4" font-size="6.2" dominant-baseline="central" fill="#222">3</text>
<circle cx="252.2" cy="831.9" r="1.3" fill="#ccc"/>
<text x="257.6" y="831.9" font-size="6.2" dominant-baseline="central" fill="#222">4</text>
<line x1="138.3" y1="827" x2="138.3" y2="813.7" stroke="#000" stroke-width="0.45"/>
<line x1="138.3" y1="827" x2="158.1" y2="827" stroke="#000" stroke-width="0.45"/>
<path d="M137.4,814.2 L138.3,812.2 L139.2,814.2Z"/>
<path d="M157.6,826.1 L159.6,827 L157.6,827.9Z"/>
<text x="135.9" y="819.6" font-size="3.4" text-anchor="middle" dominant-baseline="central" fill="#444" transform="rotate(-90 135.9 819.6)">UMAP_2</text>
<text x="146.3" y="829.6" font-size="3.4" text-anchor="middle" dominant-baseline="central" fill="#444">UMAP_1</text>
<path d="M216.7,871.8 C218,869.8 224.6,871.7 228.5,872.7 C232.4,873.7 237.4,876.2 240.4,877.7 C243.4,879.2 246.3,880.5 246.3,881.6 C246.3,882.8 243.4,883.8 240.4,884.6 C237.4,885.4 231.8,886.5 228.5,886.5 C225.2,886.5 222.7,887.1 220.7,884.6 C218.7,882.1 215.4,873.8 216.7,871.8Z" fill="#c8c8c8" filter="url(#sp34)"/>
<path d="M183.2,880.6 C185.7,879.3 193.4,880.9 199,880.6 C204.6,880.3 213.1,877 216.7,878.6 C220.3,880.2 222,887.9 220.7,890.5 C219.4,893.1 212.8,893.1 208.8,894.4 C204.9,895.7 200.3,898.4 197,898.4 C193.7,898.4 191.2,896 189.1,894.4 C187,892.8 185.2,890.8 184.2,888.5 C183.2,886.2 180.7,881.9 183.2,880.6Z" fill="#aaaaaa" filter="url(#sp35)"/>
<path d="M182.2,874.7 C183.2,872.2 186,870.8 189.1,869.8 C192.2,868.8 197.1,868.2 201,868.4 C204.9,868.6 210.2,869.8 212.8,870.8 C215.4,871.8 216.7,873.1 216.7,874.7 C216.7,876.3 215.8,879.5 212.8,880.6 C209.9,881.8 202.9,881.3 199,881.6 C195.1,881.9 191.7,882.1 189.1,882.6 C186.5,883.1 184.3,885.9 183.2,884.6 C182,883.3 181.2,877.2 182.2,874.7Z" fill="#858585" filter="url(#sp36)"/>
<path d="M204.9,894.4 C208,892.3 212.8,890.1 216.7,889.5 C220.6,888.9 225.2,889.4 228.5,890.5 C231.8,891.6 234.2,894.4 236.4,896.4 C238.6,898.4 241.4,900.5 241.4,902.3 C241.4,904.1 239.2,905.7 236.4,907.2 C233.6,908.7 228.5,910.2 224.6,911.2 C220.7,912.2 216.4,913.4 212.8,913.1 C209.2,912.8 205.4,911 202.9,909.2 C200.4,907.4 197.7,904.8 198,902.3 C198.3,899.8 201.8,896.5 204.9,894.4Z" fill="#161616" filter="url(#sp37)"/>
<path d="M200,893 C203.4,890.7 211.7,888.7 216.7,888 C221.7,887.3 225.6,886.7 230,889 C234.4,891.3 241.9,898.7 243,902 C244.1,905.3 241.4,906.8 236.4,909 C231.4,911.2 218.9,914.7 212.8,915 C206.7,915.3 202.8,913.2 200,911 C197.2,908.8 196,905 196,902 C196,899 196.6,895.3 200,893Z" fill="#555" filter="url(#sp38)"/>
<circle cx="156.6" cy="907.8" r="0.6" fill="#111"/>
<circle cx="194" cy="905.8" r="0.7" fill="#111"/>
<circle cx="252.2" cy="908.2" r="1.3" fill="#000"/>
<text x="257.6" y="908.2" font-size="6.2" dominant-baseline="central" fill="#222">1</text>
<circle cx="252.2" cy="914.1" r="1.3" fill="#666"/>
<text x="257.6" y="914.1" font-size="6.2" dominant-baseline="central" fill="#222">2</text>
<circle cx="252.2" cy="919.6" r="1.3" fill="#999"/>
<text x="257.6" y="919.6" font-size="6.2" dominant-baseline="central" fill="#222">3</text>
<circle cx="252.2" cy="925.2" r="1.3" fill="#ccc"/>
<text x="257.6" y="925.2" font-size="6.2" dominant-baseline="central" fill="#222">4</text>
<line x1="138.3" y1="923" x2="138.3" y2="908.7" stroke="#000" stroke-width="0.45"/>
<line x1="138.3" y1="923" x2="158.1" y2="923" stroke="#000" stroke-width="0.45"/>
<path d="M137.4,909.2 L138.3,907.2 L139.2,909.2Z"/>
<path d="M157.6,922.1 L159.6,923 L157.6,923.9Z"/>
<text x="135.9" y="915.1" font-size="3.4" text-anchor="middle" dominant-baseline="central" fill="#444" transform="rotate(-90 135.9 915.1)">UMAP_2</text>
<text x="146.3" y="925.6" font-size="3.4" text-anchor="middle" dominant-baseline="central" fill="#444">UMAP_1</text>
<text x="138.3" y="887.5" font-size="5.2" text-anchor="middle" dominant-baseline="central" fill="#555" transform="rotate(-90 138.3 887.5)">UMAP_2</text>
<line x1="136.6" y1="742.4" x2="537" y2="742.4" stroke="#8a8a8a" stroke-width="1.1" stroke-dasharray="3.5,2.5"/>
<line x1="136.6" y1="843.9" x2="537" y2="843.9" stroke="#8a8a8a" stroke-width="1.1" stroke-dasharray="3.5,2.5"/>
<line x1="269.2" y1="631.6" x2="269.2" y2="945" stroke="#8a8a8a" stroke-width="1.1" stroke-dasharray="3.5,2.5"/>
<line x1="403.5" y1="631.6" x2="403.5" y2="945" stroke="#8a8a8a" stroke-width="1.1" stroke-dasharray="3.5,2.5"/>
<text x="276.6" y="637.5" font-size="10.5" dominant-baseline="central" font-weight="bold">l</text>
<rect x="321.1" y="659.6" width="5.3" height="6.5" fill="#1ba5d3" stroke="#333" stroke-width="0.3"/>
<text x="329.6" y="662.9" font-size="5.0" dominant-baseline="central" fill="#333">IL-2</text>
<rect x="339.5" y="659.6" width="5.3" height="6.5" fill="#f8a33f" stroke="#333" stroke-width="0.3"/>
<text x="347.6" y="662.9" font-size="5.0" dominant-baseline="central" fill="#333" textLength="19" lengthAdjust="spacingAndGlyphs">IL-2+IL-35</text>
<line x1="291.5" y1="678.2" x2="394.1" y2="678.2" stroke="#ececec" stroke-width="0.35"/>
<line x1="290.5" y1="678.2" x2="291.5" y2="678.2" stroke="#333" stroke-width="0.35"/>
<text x="290.1" y="678.2" font-size="3.6" text-anchor="end" dominant-baseline="central" fill="#444">100%</text>
<line x1="291.5" y1="691.2" x2="394.1" y2="691.2" stroke="#ececec" stroke-width="0.35"/>
<line x1="290.5" y1="691.2" x2="291.5" y2="691.2" stroke="#333" stroke-width="0.35"/>
<text x="290.1" y="691.2" font-size="3.6" text-anchor="end" dominant-baseline="central" fill="#444">75%</text>
<line x1="291.5" y1="704.2" x2="394.1" y2="704.2" stroke="#ececec" stroke-width="0.35"/>
<line x1="290.5" y1="704.2" x2="291.5" y2="704.2" stroke="#333" stroke-width="0.35"/>
<text x="290.1" y="704.2" font-size="3.6" text-anchor="end" dominant-baseline="central" fill="#444">50%</text>
<line x1="291.5" y1="717.1" x2="394.1" y2="717.1" stroke="#ececec" stroke-width="0.35"/>
<line x1="290.5" y1="717.1" x2="291.5" y2="717.1" stroke="#333" stroke-width="0.35"/>
<text x="290.1" y="717.1" font-size="3.6" text-anchor="end" dominant-baseline="central" fill="#444">25%</text>
<line x1="291.5" y1="730.1" x2="394.1" y2="730.1" stroke="#ececec" stroke-width="0.35"/>
<line x1="290.5" y1="730.1" x2="291.5" y2="730.1" stroke="#333" stroke-width="0.35"/>
<text x="290.1" y="730.1" font-size="3.6" text-anchor="end" dominant-baseline="central" fill="#444">0%</text>
<rect x="292.5" y="678.2" width="16.5" height="28" fill="#1ba5d3" stroke="#333" stroke-width="0.35"/>
<rect x="292.5" y="706.2" width="16.5" height="23.9" fill="#f8a33f" stroke="#333" stroke-width="0.35"/>
<text x="300.8" y="733.4" font-size="3.8" text-anchor="middle" dominant-baseline="central" fill="#444">1</text>
<rect x="313.3" y="678.2" width="16.9" height="31.1" fill="#1ba5d3" stroke="#333" stroke-width="0.35"/>
<rect x="313.3" y="709.3" width="16.9" height="20.8" fill="#f8a33f" stroke="#333" stroke-width="0.35"/>
<text x="321.8" y="733.4" font-size="3.8" text-anchor="middle" dominant-baseline="central" fill="#444">2</text>
<rect x="334.4" y="678.2" width="17" height="0" fill="#1ba5d3" stroke="#333" stroke-width="0.35"/>
<rect x="334.4" y="678.2" width="17" height="51.9" fill="#f8a33f" stroke="#333" stroke-width="0.35"/>
<text x="342.9" y="733.4" font-size="3.8" text-anchor="middle" dominant-baseline="central" fill="#444">3</text>
<rect x="355.6" y="678.2" width="16.9" height="31.1" fill="#1ba5d3" stroke="#333" stroke-width="0.35"/>
<rect x="355.6" y="709.3" width="16.9" height="20.8" fill="#f8a33f" stroke="#333" stroke-width="0.35"/>
<text x="364.1" y="733.4" font-size="3.8" text-anchor="middle" dominant-baseline="central" fill="#444">4</text>
<rect x="376.6" y="678.2" width="16.9" height="26.5" fill="#1ba5d3" stroke="#333" stroke-width="0.35"/>
<rect x="376.6" y="704.7" width="16.9" height="25.4" fill="#f8a33f" stroke="#333" stroke-width="0.35"/>
<text x="385.1" y="733.4" font-size="3.8" text-anchor="middle" dominant-baseline="central" fill="#444">5</text>
<line x1="291.5" y1="677.7" x2="291.5" y2="730.1" stroke="#333" stroke-width="0.4"/>
<line x1="291.5" y1="730.1" x2="394.1" y2="730.1" stroke="#333" stroke-width="0.4"/>
<text x="342.3" y="737.7" font-size="4.0" text-anchor="middle" dominant-baseline="central" fill="#333">AdaptNK Seurat clusters</text>
<text x="279.8" y="704.2" font-size="3.9" text-anchor="middle" dominant-baseline="central" fill="#444" transform="rotate(-90 279.8 704.2)">Frequency</text>
<line x1="291.5" y1="774.1" x2="394.1" y2="774.1" stroke="#ececec" stroke-width="0.35"/>
<line x1="290.5" y1="774.1" x2="291.5" y2="774.1" stroke="#333" stroke-width="0.35"/>
<text x="290.1" y="774.1" font-size="3.6" text-anchor="end" dominant-baseline="central" fill="#444">100%</text>
<line x1="291.5" y1="786.9" x2="394.1" y2="786.9" stroke="#ececec" stroke-width="0.35"/>
<line x1="290.5" y1="786.9" x2="291.5" y2="786.9" stroke="#333" stroke-width="0.35"/>
<text x="290.1" y="786.9" font-size="3.6" text-anchor="end" dominant-baseline="central" fill="#444">75%</text>
<line x1="291.5" y1="799.6" x2="394.1" y2="799.6" stroke="#ececec" stroke-width="0.35"/>
<line x1="290.5" y1="799.6" x2="291.5" y2="799.6" stroke="#333" stroke-width="0.35"/>
<text x="290.1" y="799.6" font-size="3.6" text-anchor="end" dominant-baseline="central" fill="#444">50%</text>
<line x1="291.5" y1="812.4" x2="394.1" y2="812.4" stroke="#ececec" stroke-width="0.35"/>
<line x1="290.5" y1="812.4" x2="291.5" y2="812.4" stroke="#333" stroke-width="0.35"/>
<text x="290.1" y="812.4" font-size="3.6" text-anchor="end" dominant-baseline="central" fill="#444">25%</text>
<line x1="291.5" y1="825.1" x2="394.1" y2="825.1" stroke="#ececec" stroke-width="0.35"/>
<line x1="290.5" y1="825.1" x2="291.5" y2="825.1" stroke="#333" stroke-width="0.35"/>
<text x="290.1" y="825.1" font-size="3.6" text-anchor="end" dominant-baseline="central" fill="#444">0%</text>
<rect x="292.5" y="774.1" width="21.2" height="30.1" fill="#1ba5d3" stroke="#333" stroke-width="0.35"/>
<rect x="292.5" y="804.2" width="21.2" height="20.9" fill="#f8a33f" stroke="#333" stroke-width="0.35"/>
<text x="303.1" y="828.4" font-size="3.8" text-anchor="middle" dominant-baseline="central" fill="#444">1</text>
<rect x="319" y="774.1" width="21.1" height="0" fill="#1ba5d3" stroke="#333" stroke-width="0.35"/>
<rect x="319" y="774.1" width="21.1" height="51" fill="#f8a33f" stroke="#333" stroke-width="0.35"/>
<text x="329.6" y="828.4" font-size="3.8" text-anchor="middle" dominant-baseline="central" fill="#444">2</text>
<rect x="345.4" y="774.1" width="21.2" height="32.6" fill="#1ba5d3" stroke="#333" stroke-width="0.35"/>
<rect x="345.4" y="806.7" width="21.2" height="18.4" fill="#f8a33f" stroke="#333" stroke-width="0.35"/>
<text x="356" y="828.4" font-size="3.8" text-anchor="middle" dominant-baseline="central" fill="#444">3</text>
<rect x="371.9" y="774.1" width="21.6" height="19.4" fill="#1ba5d3" stroke="#333" stroke-width="0.35"/>
<rect x="371.9" y="793.5" width="21.6" height="31.6" fill="#f8a33f" stroke="#333" stroke-width="0.35"/>
<text x="382.7" y="828.4" font-size="3.8" text-anchor="middle" dominant-baseline="central" fill="#444">4</text>
<line x1="291.5" y1="773.6" x2="291.5" y2="825.1" stroke="#333" stroke-width="0.4"/>
<line x1="291.5" y1="825.1" x2="394.1" y2="825.1" stroke="#333" stroke-width="0.4"/>
<text x="342.3" y="832.7" font-size="4.0" text-anchor="middle" dominant-baseline="central" fill="#333">ConvNK Seurat clusters</text>
<text x="279.8" y="799.6" font-size="3.9" text-anchor="middle" dominant-baseline="central" fill="#444" transform="rotate(-90 279.8 799.6)">Frequency</text>
<line x1="291.5" y1="867.2" x2="394.1" y2="867.2" stroke="#ececec" stroke-width="0.35"/>
<line x1="290.5" y1="867.2" x2="291.5" y2="867.2" stroke="#333" stroke-width="0.35"/>
<text x="290.1" y="867.2" font-size="3.6" text-anchor="end" dominant-baseline="central" fill="#444">100%</text>
<line x1="291.5" y1="880.1" x2="394.1" y2="880.1" stroke="#ececec" stroke-width="0.35"/>
<line x1="290.5" y1="880.1" x2="291.5" y2="880.1" stroke="#333" stroke-width="0.35"/>
<text x="290.1" y="880.1" font-size="3.6" text-anchor="end" dominant-baseline="central" fill="#444">75%</text>
<line x1="291.5" y1="893" x2="394.1" y2="893" stroke="#ececec" stroke-width="0.35"/>
<line x1="290.5" y1="893" x2="291.5" y2="893" stroke="#333" stroke-width="0.35"/>
<text x="290.1" y="893" font-size="3.6" text-anchor="end" dominant-baseline="central" fill="#444">50%</text>
<line x1="291.5" y1="905.8" x2="394.1" y2="905.8" stroke="#ececec" stroke-width="0.35"/>
<line x1="290.5" y1="905.8" x2="291.5" y2="905.8" stroke="#333" stroke-width="0.35"/>
<text x="290.1" y="905.8" font-size="3.6" text-anchor="end" dominant-baseline="central" fill="#444">25%</text>
<line x1="291.5" y1="918.7" x2="394.1" y2="918.7" stroke="#ececec" stroke-width="0.35"/>
<line x1="290.5" y1="918.7" x2="291.5" y2="918.7" stroke="#333" stroke-width="0.35"/>
<text x="290.1" y="918.7" font-size="3.6" text-anchor="end" dominant-baseline="central" fill="#444">0%</text>
<rect x="292.5" y="867.2" width="21.2" height="35" fill="#1ba5d3" stroke="#333" stroke-width="0.35"/>
<rect x="292.5" y="902.2" width="21.2" height="16.5" fill="#f8a33f" stroke="#333" stroke-width="0.35"/>
<text x="303.1" y="922" font-size="3.8" text-anchor="middle" dominant-baseline="central" fill="#444">1</text>
<rect x="319" y="867.2" width="21.1" height="30.4" fill="#1ba5d3" stroke="#333" stroke-width="0.35"/>
<rect x="319" y="897.6" width="21.1" height="21.1" fill="#f8a33f" stroke="#333" stroke-width="0.35"/>
<text x="329.6" y="922" font-size="3.8" text-anchor="middle" dominant-baseline="central" fill="#444">2</text>
<rect x="345.4" y="867.2" width="21.2" height="32.4" fill="#1ba5d3" stroke="#333" stroke-width="0.35"/>
<rect x="345.4" y="899.6" width="21.2" height="19.1" fill="#f8a33f" stroke="#333" stroke-width="0.35"/>
<text x="356" y="922" font-size="3.8" text-anchor="middle" dominant-baseline="central" fill="#444">3</text>
<rect x="371.9" y="867.2" width="21.6" height="40.7" fill="#1ba5d3" stroke="#333" stroke-width="0.35"/>
<rect x="371.9" y="907.9" width="21.6" height="10.8" fill="#f8a33f" stroke="#333" stroke-width="0.35"/>
<text x="382.7" y="922" font-size="3.8" text-anchor="middle" dominant-baseline="central" fill="#444">4</text>
<line x1="291.5" y1="866.7" x2="291.5" y2="918.7" stroke="#333" stroke-width="0.4"/>
<line x1="291.5" y1="918.7" x2="394.1" y2="918.7" stroke="#333" stroke-width="0.4"/>
<text x="342.3" y="926.3" font-size="4.0" text-anchor="middle" dominant-baseline="central" fill="#333">ProlifNK Seurat clusters</text>
<text x="279.8" y="893" font-size="3.9" text-anchor="middle" dominant-baseline="central" fill="#444" transform="rotate(-90 279.8 893)">Frequency</text>
<text x="407.5" y="638.3" font-size="10.5" dominant-baseline="central" font-weight="bold">m</text>
<rect x="450.2" y="668.3" width="20.7" height="61.8" fill="#f3f3f3"/>
<rect x="492.1" y="668.3" width="20.5" height="61.8" fill="#f3f3f3"/>
<line x1="427.5" y1="678.2" x2="536" y2="678.2" stroke="#cfcfcf" stroke-width="0.4" stroke-dasharray="1.5,1.5"/>
<line x1="426.5" y1="678.2" x2="427.5" y2="678.2" stroke="#333" stroke-width="0.35"/>
<text x="426.1" y="678.2" font-size="3.7" text-anchor="end" dominant-baseline="central" fill="#444">0.25</text>
<line x1="427.5" y1="691.5" x2="536" y2="691.5" stroke="#cfcfcf" stroke-width="0.4" stroke-dasharray="1.5,1.5"/>
<line x1="426.5" y1="691.5" x2="427.5" y2="691.5" stroke="#333" stroke-width="0.35"/>
<text x="426.1" y="691.5" font-size="3.7" text-anchor="end" dominant-baseline="central" fill="#444">0.00</text>
<line x1="427.5" y1="704.3" x2="536" y2="704.3" stroke="#cfcfcf" stroke-width="0.4" stroke-dasharray="1.5,1.5"/>
<line x1="426.5" y1="704.3" x2="427.5" y2="704.3" stroke="#333" stroke-width="0.35"/>
<text x="426.1" y="704.3" font-size="3.7" text-anchor="end" dominant-baseline="central" fill="#444">-0.25</text>
<line x1="427.5" y1="717" x2="536" y2="717" stroke="#cfcfcf" stroke-width="0.4" stroke-dasharray="1.5,1.5"/>
<line x1="426.5" y1="717" x2="427.5" y2="717" stroke="#333" stroke-width="0.35"/>
<text x="426.1" y="717" font-size="3.7" text-anchor="end" dominant-baseline="central" fill="#444">-0.50</text>
<line x1="427.5" y1="730.1" x2="536" y2="730.1" stroke="#cfcfcf" stroke-width="0.4" stroke-dasharray="1.5,1.5"/>
<line x1="426.5" y1="730.1" x2="427.5" y2="730.1" stroke="#333" stroke-width="0.35"/>
<text x="426.1" y="730.1" font-size="3.7" text-anchor="end" dominant-baseline="central" fill="#444">-0.75</text>
<path d="M439.9,670.8 L440.0,672.2 L440.1,673.7 L440.2,675.1 L440.4,676.5 L440.6,677.9 L440.9,679.4 L441.2,680.8 L441.6,682.2 L442.0,683.7 L442.6,685.1 L443.2,686.5 L443.8,688.0 L444.5,689.4 L445.3,690.8 L446.1,692.2 L446.9,693.7 L447.6,695.1 L448.3,696.5 L448.8,698.0 L449.1,699.4 L449.0,700.7 L448.9,702.0 L448.5,703.4 L448.0,704.7 L447.4,706.0 L446.7,707.3 L445.9,708.6 L445.1,710.0 L444.3,711.3 L443.5,712.6 L442.8,713.9 L442.1,715.2 L441.5,716.6 L441.1,717.9 L440.7,719.2 L440.4,720.5 L440.1,721.8 L440.0,723.2 L439.9,724.5 L439.9,725.8 L439.4,725.8 L439.4,724.5 L439.2,723.2 L439.1,721.8 L438.8,720.5 L438.5,719.2 L438.1,717.9 L437.7,716.6 L437.1,715.2 L436.4,713.9 L435.7,712.6 L434.9,711.3 L434.1,710.0 L433.3,708.6 L432.5,707.3 L431.8,706.0 L431.2,704.7 L430.7,703.4 L430.3,702.0 L430.2,700.7 L430.1,699.4 L430.4,698.0 L430.9,696.5 L431.6,695.1 L432.3,693.7 L433.1,692.2 L433.9,690.8 L434.7,689.4 L435.4,688.0 L436.0,686.5 L436.6,685.1 L437.2,683.7 L437.6,682.2 L438.0,680.8 L438.3,679.4 L438.6,677.9 L438.8,676.5 L439.0,675.1 L439.1,673.7 L439.2,672.2 L439.3,670.8Z" fill="#000" stroke="#333" stroke-width="0.35"/>
<text x="439.6" y="733.7" font-size="3.9" text-anchor="middle" dominant-baseline="central" fill="#444">1</text>
<path d="M461.1,676.1 L461.1,677.4 L461.2,678.6 L461.4,679.9 L461.5,681.2 L461.7,682.5 L462.0,683.7 L462.3,685.0 L462.7,686.3 L463.1,687.5 L463.5,688.8 L464.1,690.1 L464.7,691.3 L465.4,692.6 L466.1,693.9 L466.8,695.1 L467.5,696.4 L468.2,697.7 L468.9,699.0 L469.3,700.2 L469.6,701.5 L469.6,702.6 L469.4,703.7 L469.1,704.8 L468.6,705.9 L468.0,707.0 L467.4,708.2 L466.7,709.3 L465.9,710.4 L465.1,711.5 L464.4,712.6 L463.7,713.7 L463.1,714.8 L462.6,715.9 L462.2,717.0 L461.8,718.2 L461.5,719.3 L461.3,720.4 L461.1,721.5 L461.1,722.6 L461.1,723.7 L460.6,723.7 L460.6,722.6 L460.5,721.5 L460.3,720.4 L460.1,719.3 L459.8,718.2 L459.4,717.0 L459.0,715.9 L458.5,714.8 L457.9,713.7 L457.2,712.6 L456.5,711.5 L455.7,710.4 L454.9,709.3 L454.2,708.2 L453.6,707.0 L453.0,705.9 L452.5,704.8 L452.2,703.7 L452.0,702.6 L452.0,701.5 L452.3,700.2 L452.7,699.0 L453.4,697.7 L454.1,696.4 L454.8,695.1 L455.5,693.9 L456.2,692.6 L456.9,691.3 L457.5,690.1 L458.1,688.8 L458.5,687.5 L458.9,686.3 L459.3,685.0 L459.6,683.7 L459.9,682.5 L460.1,681.2 L460.2,679.9 L460.4,678.6 L460.5,677.4 L460.5,676.1Z" fill="#666" stroke="#333" stroke-width="0.35"/>
<text x="460.8" y="733.7" font-size="3.9" text-anchor="middle" dominant-baseline="central" fill="#444">2</text>
<path d="M481.8,670.4 L481.9,671.2 L482.0,671.9 L482.1,672.7 L482.3,673.4 L482.5,674.2 L482.8,675.0 L483.1,675.7 L483.5,676.5 L483.9,677.2 L484.5,678.0 L485.1,678.8 L485.7,679.5 L486.4,680.3 L487.2,681.0 L488.0,681.8 L488.8,682.6 L489.5,683.3 L490.2,684.1 L490.7,684.8 L491.0,685.6 L490.9,687.0 L490.8,688.5 L490.4,689.9 L489.9,691.3 L489.3,692.8 L488.6,694.2 L487.8,695.6 L487.0,697.0 L486.2,698.5 L485.4,699.9 L484.7,701.3 L484.0,702.8 L483.4,704.2 L483.0,705.6 L482.6,707.1 L482.3,708.5 L482.0,709.9 L481.9,711.3 L481.8,712.8 L481.8,714.2 L481.2,714.2 L481.2,712.8 L481.1,711.3 L481.0,709.9 L480.7,708.5 L480.4,707.1 L480.0,705.6 L479.6,704.2 L479.0,702.8 L478.3,701.3 L477.6,699.9 L476.8,698.5 L476.0,697.0 L475.2,695.6 L474.4,694.2 L473.7,692.8 L473.1,691.3 L472.6,689.9 L472.2,688.5 L472.1,687.0 L472.0,685.6 L472.3,684.8 L472.8,684.1 L473.5,683.3 L474.2,682.6 L475.0,681.8 L475.8,681.0 L476.6,680.3 L477.3,679.5 L477.9,678.8 L478.5,678.0 L479.1,677.2 L479.5,676.5 L479.9,675.7 L480.2,675.0 L480.5,674.2 L480.7,673.4 L480.9,672.7 L481.0,671.9 L481.1,671.2 L481.2,670.4Z" fill="#f7a03a" stroke="#333" stroke-width="0.35"/>
<text x="481.5" y="733.7" font-size="3.9" text-anchor="middle" dominant-baseline="central" fill="#444">3</text>
<path d="M503.0,676.7 L503.0,678.0 L503.2,679.4 L503.3,680.7 L503.5,682.1 L503.7,683.4 L503.9,684.8 L504.2,686.1 L504.6,687.5 L505.0,688.8 L505.5,690.2 L506.1,691.5 L506.7,692.8 L507.4,694.2 L508.1,695.5 L508.8,696.9 L509.6,698.2 L510.3,699.6 L510.9,700.9 L511.4,702.3 L511.7,703.6 L511.6,704.7 L511.5,705.7 L511.1,706.8 L510.7,707.8 L510.1,708.9 L509.4,710.0 L508.7,711.0 L507.9,712.1 L507.1,713.1 L506.4,714.2 L505.7,715.3 L505.1,716.3 L504.5,717.4 L504.1,718.4 L503.7,719.5 L503.4,720.6 L503.2,721.6 L503.0,722.7 L502.9,723.7 L502.9,724.8 L502.4,724.8 L502.4,723.7 L502.4,722.7 L502.2,721.6 L502.0,720.6 L501.7,719.5 L501.3,718.4 L500.9,717.4 L500.3,716.3 L499.7,715.3 L499.0,714.2 L498.3,713.1 L497.5,712.1 L496.7,711.0 L496.0,710.0 L495.3,708.9 L494.7,707.8 L494.3,706.8 L493.9,705.7 L493.8,704.7 L493.7,703.6 L494.0,702.3 L494.5,700.9 L495.1,699.6 L495.8,698.2 L496.6,696.9 L497.3,695.5 L498.0,694.2 L498.7,692.8 L499.3,691.5 L499.9,690.2 L500.4,688.8 L500.8,687.5 L501.2,686.1 L501.5,684.8 L501.7,683.4 L501.9,682.1 L502.1,680.7 L502.2,679.4 L502.4,678.0 L502.4,676.7Z" fill="#999" stroke="#333" stroke-width="0.35"/>
<text x="502.7" y="733.7" font-size="3.9" text-anchor="middle" dominant-baseline="central" fill="#444">4</text>
<path d="M524.1,670.8 L524.2,672.4 L524.3,674.1 L524.4,675.7 L524.6,677.4 L524.8,679.0 L525.1,680.6 L525.4,682.3 L525.8,683.9 L526.2,685.6 L526.8,687.2 L527.4,688.8 L528.0,690.5 L528.7,692.1 L529.5,693.8 L530.3,695.4 L531.1,697.0 L531.8,698.7 L532.5,700.3 L533.0,702.0 L533.3,703.6 L533.2,704.8 L533.1,706.0 L532.7,707.2 L532.2,708.4 L531.6,709.6 L530.9,710.8 L530.1,712.0 L529.3,713.2 L528.5,714.4 L527.7,715.5 L527.0,716.7 L526.3,717.9 L525.7,719.1 L525.3,720.3 L524.9,721.5 L524.6,722.7 L524.3,723.9 L524.2,725.1 L524.0,726.3 L524.0,727.5 L523.5,727.5 L523.5,726.3 L523.4,725.1 L523.3,723.9 L523.0,722.7 L522.7,721.5 L522.3,720.3 L521.9,719.1 L521.3,717.9 L520.6,716.7 L519.9,715.5 L519.1,714.4 L518.3,713.2 L517.5,712.0 L516.7,710.8 L516.0,709.6 L515.4,708.4 L514.9,707.2 L514.5,706.0 L514.4,704.8 L514.3,703.6 L514.6,702.0 L515.1,700.3 L515.8,698.7 L516.5,697.0 L517.3,695.4 L518.1,693.8 L518.9,692.1 L519.6,690.5 L520.2,688.8 L520.8,687.2 L521.4,685.6 L521.8,683.9 L522.2,682.3 L522.5,680.6 L522.8,679.0 L523.0,677.4 L523.2,675.7 L523.3,674.1 L523.4,672.4 L523.5,670.8Z" fill="#ccc" stroke="#333" stroke-width="0.35"/>
<text x="523.8" y="733.7" font-size="3.9" text-anchor="middle" dominant-baseline="central" fill="#444">5</text>
<line x1="427.5" y1="668.3" x2="427.5" y2="730.1" stroke="#444" stroke-width="0.5"/>
<line x1="427.5" y1="730.1" x2="536" y2="730.1" stroke="#444" stroke-width="0.5"/>
<text x="481.5" y="737.9" font-size="4.0" text-anchor="middle" dominant-baseline="central" fill="#333">AdaptNK Seurat clusters</text>
<text x="411.6" y="699.4" font-size="3.6" text-anchor="middle" dominant-baseline="central" fill="#444" transform="rotate(-90 411.6 699.4)">ILC1-like signature</text>
<text x="414.6" y="699.4" font-size="3.6" text-anchor="middle" dominant-baseline="central" fill="#444" transform="rotate(-90 414.6 699.4)">enrichment score</text>
<rect x="456.1" y="765.6" width="25.4" height="61.4" fill="#f3f3f3"/>
<rect x="508" y="765.6" width="27.5" height="61.4" fill="#f3f3f3"/>
<line x1="427.5" y1="770.3" x2="536" y2="770.3" stroke="#cfcfcf" stroke-width="0.4" stroke-dasharray="1.5,1.5"/>
<line x1="426.5" y1="770.3" x2="427.5" y2="770.3" stroke="#333" stroke-width="0.35"/>
<text x="426.1" y="770.3" font-size="3.7" text-anchor="end" dominant-baseline="central" fill="#444">0.5</text>
<line x1="427.5" y1="790.2" x2="536" y2="790.2" stroke="#cfcfcf" stroke-width="0.4" stroke-dasharray="1.5,1.5"/>
<line x1="426.5" y1="790.2" x2="427.5" y2="790.2" stroke="#333" stroke-width="0.35"/>
<text x="426.1" y="790.2" font-size="3.7" text-anchor="end" dominant-baseline="central" fill="#444">0.0</text>
<line x1="427.5" y1="810.3" x2="536" y2="810.3" stroke="#cfcfcf" stroke-width="0.4" stroke-dasharray="1.5,1.5"/>
<line x1="426.5" y1="810.3" x2="427.5" y2="810.3" stroke="#333" stroke-width="0.35"/>
<text x="426.1" y="810.3" font-size="3.7" text-anchor="end" dominant-baseline="central" fill="#444">-0.5</text>
<path d="M443.3,776.6 L443.4,777.8 L443.6,779.0 L443.8,780.1 L444.0,781.3 L444.2,782.5 L444.6,783.6 L445.0,784.8 L445.4,786.0 L446.0,787.2 L446.6,788.4 L447.3,789.5 L448.1,790.7 L449.0,791.9 L449.9,793.1 L450.9,794.2 L451.9,795.4 L452.8,796.6 L453.6,797.8 L454.3,798.9 L454.6,800.1 L454.5,801.3 L454.3,802.5 L453.9,803.8 L453.3,805.0 L452.6,806.2 L451.7,807.4 L450.7,808.6 L449.7,809.9 L448.7,811.1 L447.7,812.3 L446.9,813.5 L446.1,814.7 L445.4,816.0 L444.8,817.2 L444.3,818.4 L443.9,819.6 L443.7,820.8 L443.4,822.1 L443.3,823.3 L443.2,824.5 L442.8,824.5 L442.7,823.3 L442.6,822.1 L442.3,820.8 L442.1,819.6 L441.7,818.4 L441.2,817.2 L440.6,816.0 L439.9,814.7 L439.1,813.5 L438.3,812.3 L437.3,811.1 L436.3,809.9 L435.3,808.6 L434.3,807.4 L433.4,806.2 L432.7,805.0 L432.1,803.8 L431.7,802.5 L431.5,801.3 L431.4,800.1 L431.7,798.9 L432.4,797.8 L433.2,796.6 L434.1,795.4 L435.1,794.2 L436.1,793.1 L437.0,791.9 L437.9,790.7 L438.7,789.5 L439.4,788.4 L440.0,787.2 L440.6,786.0 L441.0,784.8 L441.4,783.6 L441.8,782.5 L442.0,781.3 L442.2,780.1 L442.4,779.0 L442.6,777.8 L442.7,776.6Z" fill="#666" stroke="#333" stroke-width="0.35"/>
<text x="443" y="830.6" font-size="3.9" text-anchor="middle" dominant-baseline="central" fill="#444">1</text>
<path d="M469.1,768.2 L469.2,769.3 L469.4,770.4 L469.6,771.6 L469.8,772.7 L470.0,773.8 L470.4,774.9 L470.8,776.0 L471.2,777.2 L471.8,778.3 L472.4,779.4 L473.1,780.5 L473.9,781.6 L474.8,782.8 L475.7,783.9 L476.7,785.0 L477.7,786.1 L478.6,787.2 L479.4,788.4 L480.1,789.5 L480.4,790.6 L480.3,791.8 L480.1,792.9 L479.7,794.1 L479.1,795.3 L478.4,796.4 L477.5,797.6 L476.5,798.8 L475.5,799.9 L474.5,801.1 L473.5,802.2 L472.7,803.4 L471.9,804.6 L471.2,805.7 L470.6,806.9 L470.1,808.1 L469.7,809.2 L469.5,810.4 L469.2,811.6 L469.1,812.7 L469.1,813.9 L468.6,813.9 L468.5,812.7 L468.4,811.6 L468.1,810.4 L467.9,809.2 L467.5,808.1 L467.0,806.9 L466.4,805.7 L465.7,804.6 L464.9,803.4 L464.1,802.2 L463.1,801.1 L462.1,799.9 L461.1,798.8 L460.1,797.6 L459.2,796.4 L458.5,795.3 L457.9,794.1 L457.5,792.9 L457.3,791.8 L457.2,790.6 L457.5,789.5 L458.2,788.4 L459.0,787.2 L459.9,786.1 L460.9,785.0 L461.9,783.9 L462.8,782.8 L463.7,781.6 L464.5,780.5 L465.2,779.4 L465.8,778.3 L466.4,777.2 L466.8,776.0 L467.2,774.9 L467.6,773.8 L467.8,772.7 L468.0,771.6 L468.2,770.4 L468.4,769.3 L468.5,768.2Z" fill="#f7a03a" stroke="#333" stroke-width="0.35"/>
<text x="468.8" y="830.6" font-size="3.9" text-anchor="middle" dominant-baseline="central" fill="#444">2</text>
<path d="M494.9,770.7 L495.0,772.0 L495.2,773.3 L495.3,774.6 L495.5,776.0 L495.8,777.3 L496.1,778.6 L496.5,779.9 L496.9,781.2 L497.4,782.5 L498.0,783.9 L498.7,785.2 L499.5,786.5 L500.3,787.8 L501.2,789.1 L502.1,790.4 L503.0,791.7 L503.9,793.1 L504.7,794.4 L505.3,795.7 L505.6,797.0 L505.5,798.0 L505.3,798.9 L504.9,799.9 L504.4,800.8 L503.7,801.8 L502.8,802.7 L501.9,803.6 L501.0,804.6 L500.0,805.5 L499.1,806.5 L498.3,807.5 L497.5,808.4 L496.8,809.4 L496.3,810.3 L495.8,811.2 L495.5,812.2 L495.2,813.1 L495.0,814.1 L494.9,815.0 L494.9,816.0 L494.4,816.0 L494.3,815.0 L494.2,814.1 L494.0,813.1 L493.7,812.2 L493.4,811.2 L492.9,810.3 L492.4,809.4 L491.7,808.4 L490.9,807.5 L490.1,806.5 L489.2,805.5 L488.2,804.6 L487.3,803.6 L486.4,802.7 L485.5,801.8 L484.8,800.8 L484.3,799.9 L483.9,798.9 L483.7,798.0 L483.6,797.0 L483.9,795.7 L484.5,794.4 L485.3,793.1 L486.2,791.7 L487.1,790.4 L488.0,789.1 L488.9,787.8 L489.7,786.5 L490.5,785.2 L491.2,783.9 L491.8,782.5 L492.3,781.2 L492.7,779.9 L493.1,778.6 L493.4,777.3 L493.7,776.0 L493.9,774.6 L494.0,773.3 L494.2,772.0 L494.3,770.7Z" fill="#999" stroke="#333" stroke-width="0.35"/>
<text x="494.6" y="830.6" font-size="3.9" text-anchor="middle" dominant-baseline="central" fill="#444">3</text>
<path d="M521.0,779.8 L521.1,780.8 L521.3,781.7 L521.5,782.7 L521.7,783.6 L521.9,784.6 L522.3,785.6 L522.7,786.5 L523.1,787.5 L523.7,788.4 L524.3,789.4 L525.0,790.4 L525.8,791.3 L526.7,792.3 L527.6,793.2 L528.6,794.2 L529.6,795.2 L530.5,796.1 L531.3,797.1 L532.0,798.0 L532.3,799.0 L532.2,800.0 L532.0,801.0 L531.6,802.0 L531.0,803.0 L530.3,804.0 L529.4,805.1 L528.4,806.1 L527.4,807.1 L526.4,808.1 L525.4,809.1 L524.6,810.1 L523.8,811.1 L523.1,812.1 L522.5,813.1 L522.0,814.2 L521.6,815.2 L521.4,816.2 L521.1,817.2 L521.0,818.2 L521.0,819.2 L520.5,819.2 L520.4,818.2 L520.3,817.2 L520.0,816.2 L519.8,815.2 L519.4,814.2 L518.9,813.1 L518.3,812.1 L517.6,811.1 L516.8,810.1 L516.0,809.1 L515.0,808.1 L514.0,807.1 L513.0,806.1 L512.0,805.1 L511.1,804.0 L510.4,803.0 L509.8,802.0 L509.4,801.0 L509.2,800.0 L509.1,799.0 L509.4,798.0 L510.1,797.1 L510.9,796.1 L511.8,795.2 L512.8,794.2 L513.8,793.2 L514.7,792.3 L515.6,791.3 L516.4,790.4 L517.1,789.4 L517.7,788.4 L518.3,787.5 L518.7,786.5 L519.1,785.6 L519.5,784.6 L519.7,783.6 L519.9,782.7 L520.1,781.7 L520.3,780.8 L520.4,779.8Z" fill="#ccc" stroke="#333" stroke-width="0.35"/>
<text x="520.7" y="830.6" font-size="3.9" text-anchor="middle" dominant-baseline="central" fill="#444">4</text>
<line x1="427.5" y1="765.6" x2="427.5" y2="827" stroke="#444" stroke-width="0.5"/>
<line x1="427.5" y1="827" x2="536" y2="827" stroke="#444" stroke-width="0.5"/>
<text x="481.5" y="834.8" font-size="4.0" text-anchor="middle" dominant-baseline="central" fill="#333">AdaptNK Seurat clusters</text>
<text x="411.6" y="796" font-size="3.6" text-anchor="middle" dominant-baseline="central" fill="#444" transform="rotate(-90 411.6 796)">ILC1-like signature</text>
<text x="414.6" y="796" font-size="3.6" text-anchor="middle" dominant-baseline="central" fill="#444" transform="rotate(-90 414.6 796)">enrichment score</text>
<rect x="456.1" y="859.4" width="25.4" height="61.4" fill="#f3f3f3"/>
<rect x="508" y="859.4" width="27.5" height="61.4" fill="#f3f3f3"/>
<line x1="427.5" y1="869.3" x2="536" y2="869.3" stroke="#cfcfcf" stroke-width="0.4" stroke-dasharray="1.5,1.5"/>
<line x1="426.5" y1="869.3" x2="427.5" y2="869.3" stroke="#333" stroke-width="0.35"/>
<text x="426.1" y="869.3" font-size="3.7" text-anchor="end" dominant-baseline="central" fill="#444">0.4</text>
<line x1="427.5" y1="886.9" x2="536" y2="886.9" stroke="#cfcfcf" stroke-width="0.4" stroke-dasharray="1.5,1.5"/>
<line x1="426.5" y1="886.9" x2="427.5" y2="886.9" stroke="#333" stroke-width="0.35"/>
<text x="426.1" y="886.9" font-size="3.7" text-anchor="end" dominant-baseline="central" fill="#444">0.0</text>
<line x1="427.5" y1="904.5" x2="536" y2="904.5" stroke="#cfcfcf" stroke-width="0.4" stroke-dasharray="1.5,1.5"/>
<line x1="426.5" y1="904.5" x2="427.5" y2="904.5" stroke="#333" stroke-width="0.35"/>
<text x="426.1" y="904.5" font-size="3.7" text-anchor="end" dominant-baseline="central" fill="#444">-0.4</text>
<path d="M443.3,861.5 L443.4,863.2 L443.6,864.9 L443.8,866.6 L444.0,868.3 L444.2,870.0 L444.6,871.7 L445.0,873.4 L445.4,875.1 L446.0,876.8 L446.6,878.5 L447.3,880.1 L448.1,881.8 L449.0,883.5 L449.9,885.2 L450.9,886.9 L451.9,888.6 L452.8,890.3 L453.6,892.0 L454.3,893.7 L454.6,895.4 L454.5,896.2 L454.3,897.1 L453.9,897.9 L453.3,898.8 L452.6,899.6 L451.7,900.5 L450.7,901.3 L449.7,902.2 L448.7,903.0 L447.7,903.8 L446.9,904.7 L446.1,905.5 L445.4,906.4 L444.8,907.2 L444.3,908.1 L443.9,908.9 L443.7,909.8 L443.4,910.6 L443.3,911.5 L443.2,912.3 L442.8,912.3 L442.7,911.5 L442.6,910.6 L442.3,909.8 L442.1,908.9 L441.7,908.1 L441.2,907.2 L440.6,906.4 L439.9,905.5 L439.1,904.7 L438.3,903.8 L437.3,903.0 L436.3,902.2 L435.3,901.3 L434.3,900.5 L433.4,899.6 L432.7,898.8 L432.1,897.9 L431.7,897.1 L431.5,896.2 L431.4,895.4 L431.7,893.7 L432.4,892.0 L433.2,890.3 L434.1,888.6 L435.1,886.9 L436.1,885.2 L437.0,883.5 L437.9,881.8 L438.7,880.1 L439.4,878.5 L440.0,876.8 L440.6,875.1 L441.0,873.4 L441.4,871.7 L441.8,870.0 L442.0,868.3 L442.2,866.6 L442.4,864.9 L442.6,863.2 L442.7,861.5Z" fill="#000" stroke="#333" stroke-width="0.35"/>
<text x="443" y="924.4" font-size="3.9" text-anchor="middle" dominant-baseline="central" fill="#444">1</text>
<path d="M469.1,863.0 L469.2,864.7 L469.4,866.3 L469.6,868.0 L469.8,869.7 L470.0,871.4 L470.4,873.0 L470.8,874.7 L471.2,876.4 L471.8,878.0 L472.4,879.7 L473.1,881.4 L473.9,883.0 L474.8,884.7 L475.7,886.4 L476.7,888.0 L477.7,889.7 L478.6,891.4 L479.4,893.1 L480.1,894.7 L480.4,896.4 L480.3,897.5 L480.1,898.6 L479.7,899.7 L479.1,900.9 L478.4,902.0 L477.5,903.1 L476.5,904.2 L475.5,905.3 L474.5,906.4 L473.5,907.5 L472.7,908.7 L471.9,909.8 L471.2,910.9 L470.6,912.0 L470.1,913.1 L469.7,914.2 L469.5,915.4 L469.2,916.5 L469.1,917.6 L469.1,918.7 L468.6,918.7 L468.5,917.6 L468.4,916.5 L468.1,915.4 L467.9,914.2 L467.5,913.1 L467.0,912.0 L466.4,910.9 L465.7,909.8 L464.9,908.7 L464.1,907.5 L463.1,906.4 L462.1,905.3 L461.1,904.2 L460.1,903.1 L459.2,902.0 L458.5,900.9 L457.9,899.7 L457.5,898.6 L457.3,897.5 L457.2,896.4 L457.5,894.7 L458.2,893.1 L459.0,891.4 L459.9,889.7 L460.9,888.0 L461.9,886.4 L462.8,884.7 L463.7,883.0 L464.5,881.4 L465.2,879.7 L465.8,878.0 L466.4,876.4 L466.8,874.7 L467.2,873.0 L467.6,871.4 L467.8,869.7 L468.0,868.0 L468.2,866.3 L468.4,864.7 L468.5,863.0Z" fill="#666" stroke="#333" stroke-width="0.35"/>
<text x="468.8" y="924.4" font-size="3.9" text-anchor="middle" dominant-baseline="central" fill="#444">2</text>
<path d="M494.9,864.3 L495.0,865.8 L495.2,867.3 L495.3,868.8 L495.5,870.3 L495.8,871.8 L496.1,873.3 L496.5,874.8 L496.9,876.3 L497.4,877.8 L498.0,879.3 L498.7,880.8 L499.5,882.3 L500.3,883.8 L501.2,885.3 L502.1,886.8 L503.0,888.3 L503.9,889.8 L504.7,891.3 L505.3,892.8 L505.6,894.3 L505.5,895.2 L505.3,896.1 L504.9,897.0 L504.4,897.9 L503.7,898.8 L502.8,899.7 L501.9,900.6 L501.0,901.5 L500.0,902.4 L499.1,903.3 L498.3,904.2 L497.5,905.1 L496.8,906.0 L496.3,906.9 L495.8,907.8 L495.5,908.7 L495.2,909.6 L495.0,910.5 L494.9,911.4 L494.9,912.3 L494.4,912.3 L494.3,911.4 L494.2,910.5 L494.0,909.6 L493.7,908.7 L493.4,907.8 L492.9,906.9 L492.4,906.0 L491.7,905.1 L490.9,904.2 L490.1,903.3 L489.2,902.4 L488.2,901.5 L487.3,900.6 L486.4,899.7 L485.5,898.8 L484.8,897.9 L484.3,897.0 L483.9,896.1 L483.7,895.2 L483.6,894.3 L483.9,892.8 L484.5,891.3 L485.3,889.8 L486.2,888.3 L487.1,886.8 L488.0,885.3 L488.9,883.8 L489.7,882.3 L490.5,880.8 L491.2,879.3 L491.8,877.8 L492.3,876.3 L492.7,874.8 L493.1,873.3 L493.4,871.8 L493.7,870.3 L493.9,868.8 L494.0,867.3 L494.2,865.8 L494.3,864.3Z" fill="#999" stroke="#333" stroke-width="0.35"/>
<text x="494.6" y="924.4" font-size="3.9" text-anchor="middle" dominant-baseline="central" fill="#444">3</text>
<path d="M521.0,870.0 L521.1,871.3 L521.3,872.6 L521.5,874.0 L521.7,875.3 L521.9,876.6 L522.3,877.9 L522.7,879.2 L523.1,880.6 L523.7,881.9 L524.3,883.2 L525.0,884.5 L525.8,885.8 L526.7,887.2 L527.6,888.5 L528.6,889.8 L529.6,891.1 L530.5,892.4 L531.3,893.8 L532.0,895.1 L532.3,896.4 L532.2,897.2 L532.0,898.1 L531.6,898.9 L531.0,899.8 L530.3,900.6 L529.4,901.5 L528.4,902.4 L527.4,903.2 L526.4,904.0 L525.4,904.9 L524.6,905.8 L523.8,906.6 L523.1,907.4 L522.5,908.3 L522.0,909.1 L521.6,910.0 L521.4,910.9 L521.1,911.7 L521.0,912.5 L521.0,913.4 L520.5,913.4 L520.4,912.5 L520.3,911.7 L520.0,910.9 L519.8,910.0 L519.4,909.1 L518.9,908.3 L518.3,907.4 L517.6,906.6 L516.8,905.8 L516.0,904.9 L515.0,904.0 L514.0,903.2 L513.0,902.4 L512.0,901.5 L511.1,900.6 L510.4,899.8 L509.8,898.9 L509.4,898.1 L509.2,897.2 L509.1,896.4 L509.4,895.1 L510.1,893.8 L510.9,892.4 L511.8,891.1 L512.8,889.8 L513.8,888.5 L514.7,887.2 L515.6,885.8 L516.4,884.5 L517.1,883.2 L517.7,881.9 L518.3,880.6 L518.7,879.2 L519.1,877.9 L519.5,876.6 L519.7,875.3 L519.9,874.0 L520.1,872.6 L520.3,871.3 L520.4,870.0Z" fill="#ccc" stroke="#333" stroke-width="0.35"/>
<text x="520.7" y="924.4" font-size="3.9" text-anchor="middle" dominant-baseline="central" fill="#444">4</text>
<line x1="427.5" y1="859.4" x2="427.5" y2="920.8" stroke="#444" stroke-width="0.5"/>
<line x1="427.5" y1="920.8" x2="536" y2="920.8" stroke="#444" stroke-width="0.5"/>
<text x="481.5" y="928.6" font-size="4.0" text-anchor="middle" dominant-baseline="central" fill="#333">ProlifNK Seurat clusters</text>
<text x="411.6" y="890" font-size="3.6" text-anchor="middle" dominant-baseline="central" fill="#444" transform="rotate(-90 411.6 890)">ILC1-like signature</text>
<text x="414.6" y="890" font-size="3.6" text-anchor="middle" dominant-baseline="central" fill="#444" transform="rotate(-90 414.6 890)">enrichment score</text>
<text x="548.6" y="638.6" font-size="10.5" dominant-baseline="central" font-weight="bold">n</text>
<ellipse cx="619.8" cy="751.2" rx="63" ry="69.2" fill="#cfcbf3"/>
<ellipse cx="619.2" cy="821.7" rx="63" ry="69.7" fill="#dbe9fc"/>
<ellipse cx="619.2" cy="821.7" rx="63" ry="69.7" fill="#aabff4" clip-path="url(#nclip)"/>
<ellipse cx="619.8" cy="751.2" rx="63" ry="69.2" fill="none" stroke="#000" stroke-width="1.0"/>
<ellipse cx="619.2" cy="821.7" rx="63" ry="69.7" fill="none" stroke="#000" stroke-width="1.0"/>
<text x="620.4" y="663.1" font-size="8.2" text-anchor="middle" dominant-baseline="central" font-weight="bold" fill="#000">AdaptNK-derived</text>
<text x="620.4" y="673.6" font-size="8.2" text-anchor="middle" dominant-baseline="central" font-weight="bold" fill="#000">ILC1-like</text>
<text x="620.4" y="695.1" font-size="8.2" text-anchor="middle" dominant-baseline="central" font-weight="bold" fill="#000">21 (29.58%)</text>
<text x="620.4" y="713.5" font-size="6.7" text-anchor="middle" dominant-baseline="central" font-style="italic" fill="#111" stroke="#111" stroke-width="0.16">JUN, BICD1,</text>
<text x="620.4" y="722.9" font-size="6.7" text-anchor="middle" dominant-baseline="central" font-style="italic" fill="#111" stroke="#111" stroke-width="0.16">FAM102A, LDHA,</text>
<text x="620.4" y="732.4" font-size="6.7" text-anchor="middle" dominant-baseline="central" font-style="italic" fill="#111" stroke="#111" stroke-width="0.16">SLA, PLP2, TBC1D2B,</text>
<text x="620.4" y="742" font-size="6.7" text-anchor="middle" dominant-baseline="central" font-style="italic" fill="#111" stroke="#111" stroke-width="0.16">SGMS1, PTK2B</text>
<text x="620.4" y="766.7" font-size="8.2" text-anchor="middle" dominant-baseline="central" font-weight="bold" fill="#000">29 (40.85%)</text>
<text x="620.4" y="778.7" font-size="6.7" text-anchor="middle" dominant-baseline="central" font-style="italic" fill="#111" stroke="#111" stroke-width="0.16">ITGAE, PPP1R14B, MLLT3,</text>
<text x="620.4" y="788.5" font-size="6.7" text-anchor="middle" dominant-baseline="central" font-style="italic" fill="#111" stroke="#111" stroke-width="0.16">SAMSN1, LDLRAD4,</text>
<text x="620.4" y="798.3" font-size="6.7" text-anchor="middle" dominant-baseline="central" font-style="italic" fill="#111" stroke="#111" stroke-width="0.16">GLCCI1, ZBTB20, ZFYVE28,</text>
<text x="620.4" y="808.1" font-size="6.7" text-anchor="middle" dominant-baseline="central" font-style="italic" fill="#111" stroke="#111" stroke-width="0.16">VIM, RBPJ</text>
<text x="620.4" y="830.2" font-size="6.7" text-anchor="middle" dominant-baseline="central" font-style="italic" fill="#111" stroke="#111" stroke-width="0.16">LINC00996, GCNT1,</text>
<text x="620.4" y="840.1" font-size="6.7" text-anchor="middle" dominant-baseline="central" font-style="italic" fill="#111" stroke="#111" stroke-width="0.16">DNPH1, MIR181A2HG,</text>
<text x="620.4" y="849.9" font-size="6.7" text-anchor="middle" dominant-baseline="central" font-style="italic" fill="#111" stroke="#111" stroke-width="0.16">NR6A1, KDM5B,</text>
<text x="620.4" y="859.8" font-size="6.7" text-anchor="middle" dominant-baseline="central" font-style="italic" fill="#111" stroke="#111" stroke-width="0.16">OSBPL8, MAPK1,</text>
<text x="620.4" y="869.6" font-size="6.7" text-anchor="middle" dominant-baseline="central" font-style="italic" fill="#111" stroke="#111" stroke-width="0.16">FBXO34, STK17B</text>
<text x="620.4" y="881.7" font-size="8.2" text-anchor="middle" dominant-baseline="central" font-weight="bold" fill="#000">22 (29.58%)</text>
<text x="620.4" y="903.6" font-size="8.2" text-anchor="middle" dominant-baseline="central" font-weight="bold" fill="#000">ConvNK-derived</text>
<text x="620.4" y="914.5" font-size="8.2" text-anchor="middle" dominant-baseline="central" font-weight="bold" fill="#000">ILC1-like</text></g></svg></body></html>
